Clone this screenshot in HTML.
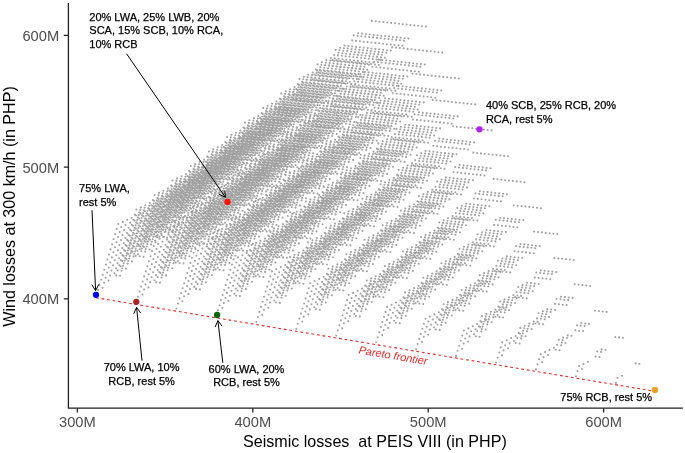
<!DOCTYPE html>
<html><head><meta charset="utf-8"><style>
html,body{margin:0;padding:0;background:#fff;overflow:hidden;}
svg{display:block;will-change:transform;}
text{font-family:"Liberation Sans",sans-serif;}
</style></head><body>
<svg width="685" height="453" viewBox="0 0 685 453">
<rect width="685" height="453" fill="#fff"/>
<path d="M96.5 295.0h0M136.5 301.8h0M176.4 308.5h0M216.4 315.3h0M256.3 322.1h0M296.3 328.8h0M336.2 335.6h0M376.2 342.3h0M416.1 349.1h0M456.1 355.9h0M496.0 362.6h0M536.0 369.4h0M575.9 376.2h0M615.9 382.9h0M655.9 389.7h0M116.2 275.4h0M156.1 282.2h0M196.1 288.9h0M236.0 295.7h0M276.0 302.5h0M315.9 309.2h0M355.9 316.0h0M395.8 322.8h0M435.8 329.5h0M475.8 336.3h0M515.7 343.1h0M555.7 349.8h0M595.6 356.6h0M635.6 363.4h0M135.8 255.8h0M175.8 262.6h0M215.7 269.4h0M255.7 276.1h0M295.6 282.9h0M335.6 289.7h0M375.6 296.4h0M415.5 303.2h0M455.5 309.9h0M495.4 316.7h0M535.4 323.5h0M575.3 330.2h0M615.3 337.0h0M155.5 236.3h0M195.5 243.0h0M235.4 249.8h0M275.4 256.5h0M315.3 263.3h0M355.3 270.1h0M395.2 276.8h0M435.2 283.6h0M475.1 290.4h0M515.1 297.1h0M555.0 303.9h0M595.0 310.7h0M175.2 216.7h0M215.1 223.4h0M255.1 230.2h0M295.0 237.0h0M335.0 243.7h0M374.9 250.5h0M414.9 257.3h0M454.8 264.0h0M494.8 270.8h0M534.8 277.6h0M574.7 284.3h0M194.8 197.1h0M234.8 203.9h0M274.7 210.6h0M314.7 217.4h0M354.6 224.2h0M394.6 230.9h0M434.6 237.7h0M474.5 244.4h0M514.5 251.2h0M554.4 258.0h0M214.5 177.5h0M254.5 184.3h0M294.4 191.0h0M334.4 197.8h0M374.3 204.6h0M414.3 211.3h0M454.2 218.1h0M494.2 224.9h0M534.1 231.6h0M234.2 157.9h0M274.1 164.7h0M314.1 171.5h0M354.0 178.2h0M394.0 185.0h0M433.9 191.8h0M473.9 198.5h0M513.8 205.3h0M253.8 138.4h0M293.8 145.1h0M333.7 151.9h0M373.7 158.6h0M413.6 165.4h0M453.6 172.2h0M493.6 178.9h0M273.5 118.8h0M313.4 125.5h0M353.4 132.3h0M393.4 139.1h0M433.3 145.8h0M473.3 152.6h0M293.2 99.2h0M333.1 106.0h0M373.1 112.7h0M413.0 119.5h0M453.0 126.2h0M312.8 79.6h0M352.8 86.4h0M392.7 93.1h0M432.7 99.9h0M332.5 60.0h0M372.4 66.8h0M412.4 73.6h0M352.2 40.4h0M392.1 47.2h0M371.8 20.9h0M120.0 275.8h0M160.0 282.6h0M199.9 289.4h0M239.9 296.1h0M279.8 302.9h0M319.8 309.7h0M359.8 316.4h0M399.7 323.2h0M439.7 329.9h0M479.6 336.7h0M519.6 343.5h0M559.5 350.2h0M599.5 357.0h0M639.4 363.8h0M139.7 256.2h0M179.6 263.0h0M219.6 269.8h0M259.6 276.5h0M299.5 283.3h0M339.5 290.1h0M379.4 296.8h0M419.4 303.6h0M459.3 310.4h0M499.3 317.1h0M539.2 323.9h0M579.2 330.7h0M619.1 337.4h0M159.4 236.7h0M199.3 243.4h0M239.3 250.2h0M279.2 257.0h0M319.2 263.7h0M359.1 270.5h0M399.1 277.3h0M439.0 284.0h0M479.0 290.8h0M518.9 297.5h0M558.9 304.3h0M598.9 311.1h0M179.0 217.1h0M219.0 223.9h0M258.9 230.6h0M298.9 237.4h0M338.8 244.1h0M378.8 250.9h0M418.7 257.7h0M458.7 264.4h0M498.7 271.2h0M538.6 278.0h0M578.6 284.7h0M198.7 197.5h0M238.6 204.3h0M278.6 211.0h0M318.6 217.8h0M358.5 224.6h0M398.5 231.3h0M438.4 238.1h0M478.4 244.9h0M518.3 251.6h0M558.3 258.4h0M218.4 177.9h0M258.3 184.7h0M298.3 191.5h0M338.2 198.2h0M378.2 205.0h0M418.1 211.7h0M458.1 218.5h0M498.0 225.3h0M538.0 232.0h0M238.0 158.3h0M278.0 165.1h0M317.9 171.9h0M357.9 178.6h0M397.8 185.4h0M437.8 192.2h0M477.7 198.9h0M517.7 205.7h0M257.7 138.8h0M297.6 145.5h0M337.6 152.3h0M377.6 159.1h0M417.5 165.8h0M457.5 172.6h0M497.4 179.3h0M277.4 119.2h0M317.3 125.9h0M357.3 132.7h0M397.2 139.5h0M437.2 146.2h0M477.1 153.0h0M297.0 99.6h0M337.0 106.4h0M376.9 113.1h0M416.9 119.9h0M456.8 126.7h0M316.7 80.0h0M356.6 86.8h0M396.6 93.5h0M436.5 100.3h0M336.4 60.4h0M376.3 67.2h0M416.3 74.0h0M356.0 40.9h0M396.0 47.6h0M375.7 21.3h0M143.6 256.7h0M183.5 263.4h0M223.5 270.2h0M263.4 277.0h0M303.4 283.7h0M343.3 290.5h0M383.3 297.2h0M423.2 304.0h0M463.2 310.8h0M503.1 317.5h0M543.1 324.3h0M583.0 331.1h0M623.0 337.8h0M163.2 237.1h0M203.2 243.8h0M243.1 250.6h0M283.1 257.4h0M323.0 264.1h0M363.0 270.9h0M402.9 277.7h0M442.9 284.4h0M482.9 291.2h0M522.8 298.0h0M562.8 304.7h0M602.7 311.5h0M182.9 217.5h0M222.8 224.3h0M262.8 231.0h0M302.7 237.8h0M342.7 244.6h0M382.7 251.3h0M422.6 258.1h0M462.6 264.8h0M502.5 271.6h0M542.5 278.4h0M582.4 285.1h0M202.6 197.9h0M242.5 204.7h0M282.5 211.4h0M322.4 218.2h0M362.4 225.0h0M402.3 231.7h0M442.3 238.5h0M482.2 245.3h0M522.2 252.0h0M562.1 258.8h0M222.2 178.3h0M262.2 185.1h0M302.1 191.9h0M342.1 198.6h0M382.0 205.4h0M422.0 212.2h0M461.9 218.9h0M501.9 225.7h0M541.9 232.4h0M241.9 158.8h0M281.8 165.5h0M321.8 172.3h0M361.7 179.0h0M401.7 185.8h0M441.7 192.6h0M481.6 199.3h0M521.6 206.1h0M261.6 139.2h0M301.5 145.9h0M341.5 152.7h0M381.4 159.5h0M421.4 166.2h0M461.3 173.0h0M501.3 179.8h0M281.2 119.6h0M321.2 126.4h0M361.1 133.1h0M401.1 139.9h0M441.0 146.7h0M481.0 153.4h0M300.9 100.0h0M340.8 106.8h0M380.8 113.5h0M420.7 120.3h0M460.7 127.1h0M320.5 80.4h0M360.5 87.2h0M400.5 94.0h0M440.4 100.7h0M340.2 60.9h0M380.2 67.6h0M420.1 74.4h0M359.9 41.3h0M399.8 48.0h0M379.5 21.7h0M167.1 237.5h0M207.0 244.3h0M247.0 251.0h0M286.9 257.8h0M326.9 264.5h0M366.9 271.3h0M406.8 278.1h0M446.8 284.8h0M486.7 291.6h0M526.7 298.4h0M566.6 305.1h0M606.6 311.9h0M186.7 217.9h0M226.7 224.7h0M266.7 231.4h0M306.6 238.2h0M346.6 245.0h0M386.5 251.7h0M426.5 258.5h0M466.4 265.3h0M506.4 272.0h0M546.3 278.8h0M586.3 285.6h0M206.4 198.3h0M246.4 205.1h0M286.3 211.9h0M326.3 218.6h0M366.2 225.4h0M406.2 232.2h0M446.1 238.9h0M486.1 245.7h0M526.0 252.4h0M566.0 259.2h0M226.1 178.8h0M266.0 185.5h0M306.0 192.3h0M345.9 199.0h0M385.9 205.8h0M425.8 212.6h0M465.8 219.3h0M505.8 226.1h0M545.7 232.9h0M245.7 159.2h0M285.7 165.9h0M325.7 172.7h0M365.6 179.5h0M405.6 186.2h0M445.5 193.0h0M485.5 199.8h0M525.4 206.5h0M265.4 139.6h0M305.4 146.4h0M345.3 153.1h0M385.3 159.9h0M425.2 166.6h0M465.2 173.4h0M505.1 180.2h0M285.1 120.0h0M325.0 126.8h0M365.0 133.5h0M404.9 140.3h0M444.9 147.1h0M484.8 153.8h0M304.7 100.4h0M344.7 107.2h0M384.7 114.0h0M424.6 120.7h0M464.6 127.5h0M324.4 80.8h0M364.4 87.6h0M404.3 94.4h0M444.3 101.1h0M344.1 61.3h0M384.0 68.0h0M424.0 74.8h0M363.7 41.7h0M403.7 48.4h0M383.4 22.1h0M190.6 218.3h0M230.6 225.1h0M270.5 231.9h0M310.5 238.6h0M350.4 245.4h0M390.4 252.1h0M430.3 258.9h0M470.3 265.7h0M510.2 272.4h0M550.2 279.2h0M590.1 286.0h0M210.3 198.7h0M250.2 205.5h0M290.2 212.3h0M330.1 219.0h0M370.1 225.8h0M410.0 232.6h0M450.0 239.3h0M490.0 246.1h0M529.9 252.9h0M569.9 259.6h0M229.9 179.2h0M269.9 185.9h0M309.8 192.7h0M349.8 199.5h0M389.8 206.2h0M429.7 213.0h0M469.7 219.7h0M509.6 226.5h0M549.6 233.3h0M249.6 159.6h0M289.6 166.3h0M329.5 173.1h0M369.5 179.9h0M409.4 186.6h0M449.4 193.4h0M489.3 200.2h0M529.3 206.9h0M269.3 140.0h0M309.2 146.8h0M349.2 153.5h0M389.1 160.3h0M429.1 167.1h0M469.0 173.8h0M509.0 180.6h0M288.9 120.4h0M328.9 127.2h0M368.8 133.9h0M408.8 140.7h0M448.8 147.5h0M488.7 154.2h0M308.6 100.8h0M348.6 107.6h0M388.5 114.4h0M428.5 121.1h0M468.4 127.9h0M328.3 81.3h0M368.2 88.0h0M408.2 94.8h0M448.1 101.5h0M347.9 61.7h0M387.9 68.4h0M427.8 75.2h0M367.6 42.1h0M407.6 48.9h0M387.3 22.5h0M214.1 199.2h0M254.1 205.9h0M294.0 212.7h0M334.0 219.4h0M374.0 226.2h0M413.9 233.0h0M453.9 239.7h0M493.8 246.5h0M533.8 253.3h0M573.7 260.0h0M233.8 179.6h0M273.8 186.3h0M313.7 193.1h0M353.7 199.9h0M393.6 206.6h0M433.6 213.4h0M473.5 220.2h0M513.5 226.9h0M553.4 233.7h0M253.5 160.0h0M293.4 166.8h0M333.4 173.5h0M373.3 180.3h0M413.3 187.0h0M453.2 193.8h0M493.2 200.6h0M533.1 207.3h0M273.1 140.4h0M313.1 147.2h0M353.0 153.9h0M393.0 160.7h0M432.9 167.5h0M472.9 174.2h0M512.9 181.0h0M292.8 120.8h0M332.8 127.6h0M372.7 134.4h0M412.7 141.1h0M452.6 147.9h0M492.6 154.7h0M312.5 101.2h0M352.4 108.0h0M392.4 114.8h0M432.3 121.5h0M472.3 128.3h0M332.1 81.7h0M372.1 88.4h0M412.0 95.2h0M452.0 102.0h0M351.8 62.1h0M391.8 68.9h0M431.7 75.6h0M371.5 42.5h0M411.4 49.3h0M391.1 22.9h0M237.7 180.0h0M277.6 186.8h0M317.6 193.5h0M357.5 200.3h0M397.5 207.0h0M437.4 213.8h0M477.4 220.6h0M517.3 227.3h0M557.3 234.1h0M257.3 160.4h0M297.3 167.2h0M337.2 173.9h0M377.2 180.7h0M417.1 187.5h0M457.1 194.2h0M497.1 201.0h0M537.0 207.8h0M277.0 140.8h0M316.9 147.6h0M356.9 154.4h0M396.9 161.1h0M436.8 167.9h0M476.8 174.6h0M516.7 181.4h0M296.7 121.2h0M336.6 128.0h0M376.6 134.8h0M416.5 141.5h0M456.5 148.3h0M496.4 155.1h0M316.3 101.7h0M356.3 108.4h0M396.2 115.2h0M436.2 122.0h0M476.1 128.7h0M336.0 82.1h0M375.9 88.8h0M415.9 95.6h0M455.9 102.4h0M355.7 62.5h0M395.6 69.3h0M435.6 76.0h0M375.3 42.9h0M415.3 49.7h0M395.0 23.3h0M261.2 160.8h0M301.1 167.6h0M341.1 174.3h0M381.1 181.1h0M421.0 187.9h0M461.0 194.6h0M500.9 201.4h0M540.9 208.2h0M280.9 141.2h0M320.8 148.0h0M360.8 154.8h0M400.7 161.5h0M440.7 168.3h0M480.6 175.1h0M520.6 181.8h0M300.5 121.7h0M340.5 128.4h0M380.4 135.2h0M420.4 141.9h0M460.3 148.7h0M500.3 155.5h0M320.2 102.1h0M360.1 108.8h0M400.1 115.6h0M440.0 122.4h0M480.0 129.1h0M339.9 82.5h0M379.8 89.3h0M419.8 96.0h0M459.7 102.8h0M359.5 62.9h0M399.5 69.7h0M439.4 76.4h0M379.2 43.3h0M419.1 50.1h0M398.9 23.8h0M284.7 141.6h0M324.7 148.4h0M364.6 155.2h0M404.6 161.9h0M444.5 168.7h0M484.5 175.5h0M524.4 182.2h0M304.4 122.1h0M344.3 128.8h0M384.3 135.6h0M424.2 142.4h0M464.2 149.1h0M504.2 155.9h0M324.0 102.5h0M364.0 109.2h0M404.0 116.0h0M443.9 122.8h0M483.9 129.5h0M343.7 82.9h0M383.7 89.7h0M423.6 96.4h0M463.6 103.2h0M363.4 63.3h0M403.3 70.1h0M443.3 76.9h0M383.0 43.7h0M423.0 50.5h0M402.7 24.2h0M308.2 122.5h0M348.2 129.2h0M388.2 136.0h0M428.1 142.8h0M468.1 149.5h0M508.0 156.3h0M327.9 102.9h0M367.9 109.7h0M407.8 116.4h0M447.8 123.2h0M487.7 130.0h0M347.6 83.3h0M387.5 90.1h0M427.5 96.8h0M467.4 103.6h0M367.2 63.7h0M407.2 70.5h0M447.1 77.3h0M386.9 44.2h0M426.9 50.9h0M406.6 24.6h0M331.8 103.3h0M371.7 110.1h0M411.7 116.8h0M451.6 123.6h0M491.6 130.4h0M351.4 83.7h0M391.4 90.5h0M431.3 97.3h0M471.3 104.0h0M371.1 64.1h0M411.1 70.9h0M451.0 77.7h0M390.8 44.6h0M430.7 51.3h0M410.4 25.0h0M355.3 84.1h0M395.3 90.9h0M435.2 97.7h0M475.2 104.4h0M375.0 64.6h0M414.9 71.3h0M454.9 78.1h0M394.6 45.0h0M434.6 51.7h0M414.3 25.4h0M378.8 65.0h0M418.8 71.7h0M458.7 78.5h0M398.5 45.4h0M438.4 52.2h0M418.2 25.8h0M402.4 45.8h0M442.3 52.6h0M422.0 26.2h0M425.9 26.6h0M102.5 287.8h0M142.5 294.6h0M182.4 301.3h0M222.4 308.1h0M262.3 314.9h0M302.3 321.6h0M342.2 328.4h0M382.2 335.1h0M422.1 341.9h0M462.1 348.7h0M502.0 355.4h0M542.0 362.2h0M581.9 369.0h0M621.9 375.7h0M122.2 268.2h0M162.1 275.0h0M202.1 281.7h0M242.0 288.5h0M282.0 295.3h0M321.9 302.0h0M361.9 308.8h0M401.8 315.6h0M441.8 322.3h0M481.8 329.1h0M521.7 335.9h0M561.7 342.6h0M601.6 349.4h0M141.8 248.6h0M181.8 255.4h0M221.7 262.2h0M261.7 268.9h0M301.6 275.7h0M341.6 282.5h0M381.6 289.2h0M421.5 296.0h0M461.5 302.8h0M501.4 309.5h0M541.4 316.3h0M581.3 323.0h0M161.5 229.1h0M201.5 235.8h0M241.4 242.6h0M281.4 249.3h0M321.3 256.1h0M361.3 262.9h0M401.2 269.6h0M441.2 276.4h0M481.1 283.2h0M521.1 289.9h0M561.0 296.7h0M181.2 209.5h0M221.1 216.2h0M261.1 223.0h0M301.0 229.8h0M341.0 236.5h0M380.9 243.3h0M420.9 250.1h0M460.8 256.8h0M500.8 263.6h0M540.8 270.4h0M200.8 189.9h0M240.8 196.7h0M280.7 203.4h0M320.7 210.2h0M360.6 217.0h0M400.6 223.7h0M440.6 230.5h0M480.5 237.2h0M520.5 244.0h0M220.5 170.3h0M260.5 177.1h0M300.4 183.8h0M340.4 190.6h0M380.3 197.4h0M420.3 204.1h0M460.2 210.9h0M500.2 217.7h0M240.2 150.7h0M280.1 157.5h0M320.1 164.3h0M360.0 171.0h0M400.0 177.8h0M439.9 184.6h0M479.9 191.3h0M259.8 131.2h0M299.8 137.9h0M339.7 144.7h0M379.7 151.4h0M419.6 158.2h0M459.6 165.0h0M279.5 111.6h0M319.4 118.3h0M359.4 125.1h0M399.4 131.9h0M439.3 138.6h0M299.2 92.0h0M339.1 98.8h0M379.1 105.5h0M419.0 112.3h0M318.8 72.4h0M358.8 79.2h0M398.7 85.9h0M338.5 52.8h0M378.4 59.6h0M358.2 33.2h0M126.0 268.6h0M166.0 275.4h0M205.9 282.2h0M245.9 288.9h0M285.8 295.7h0M325.8 302.5h0M365.8 309.2h0M405.7 316.0h0M445.7 322.7h0M485.6 329.5h0M525.6 336.3h0M565.5 343.0h0M605.5 349.8h0M145.7 249.1h0M185.6 255.8h0M225.6 262.6h0M265.6 269.3h0M305.5 276.1h0M345.5 282.9h0M385.4 289.6h0M425.4 296.4h0M465.3 303.2h0M505.3 309.9h0M545.2 316.7h0M585.2 323.5h0M165.4 229.5h0M205.3 236.2h0M245.3 243.0h0M285.2 249.8h0M325.2 256.5h0M365.1 263.3h0M405.1 270.1h0M445.0 276.8h0M485.0 283.6h0M524.9 290.3h0M564.9 297.1h0M185.0 209.9h0M225.0 216.7h0M264.9 223.4h0M304.9 230.2h0M344.8 236.9h0M384.8 243.7h0M424.7 250.5h0M464.7 257.2h0M504.7 264.0h0M544.6 270.8h0M204.7 190.3h0M244.6 197.1h0M284.6 203.8h0M324.6 210.6h0M364.5 217.4h0M404.5 224.1h0M444.4 230.9h0M484.4 237.7h0M524.3 244.4h0M224.4 170.7h0M264.3 177.5h0M304.3 184.3h0M344.2 191.0h0M384.2 197.8h0M424.1 204.5h0M464.1 211.3h0M504.0 218.1h0M244.0 151.1h0M284.0 157.9h0M323.9 164.7h0M363.9 171.4h0M403.8 178.2h0M443.8 185.0h0M483.7 191.7h0M263.7 131.6h0M303.6 138.3h0M343.6 145.1h0M383.6 151.9h0M423.5 158.6h0M463.5 165.4h0M283.4 112.0h0M323.3 118.7h0M363.3 125.5h0M403.2 132.3h0M443.2 139.0h0M303.0 92.4h0M343.0 99.2h0M382.9 105.9h0M422.9 112.7h0M322.7 72.8h0M362.6 79.6h0M402.6 86.3h0M342.4 53.2h0M382.3 60.0h0M362.0 33.7h0M149.6 249.5h0M189.5 256.2h0M229.5 263.0h0M269.4 269.8h0M309.4 276.5h0M349.3 283.3h0M389.3 290.0h0M429.2 296.8h0M469.2 303.6h0M509.1 310.3h0M549.1 317.1h0M589.0 323.9h0M169.2 229.9h0M209.2 236.6h0M249.1 243.4h0M289.1 250.2h0M329.0 256.9h0M369.0 263.7h0M408.9 270.5h0M448.9 277.2h0M488.9 284.0h0M528.8 290.8h0M568.8 297.5h0M188.9 210.3h0M228.8 217.1h0M268.8 223.8h0M308.7 230.6h0M348.7 237.4h0M388.7 244.1h0M428.6 250.9h0M468.6 257.6h0M508.5 264.4h0M548.5 271.2h0M208.6 190.7h0M248.5 197.5h0M288.5 204.2h0M328.4 211.0h0M368.4 217.8h0M408.3 224.5h0M448.3 231.3h0M488.2 238.1h0M528.2 244.8h0M228.2 171.1h0M268.2 177.9h0M308.1 184.7h0M348.1 191.4h0M388.0 198.2h0M428.0 205.0h0M467.9 211.7h0M507.9 218.5h0M247.9 151.6h0M287.8 158.3h0M327.8 165.1h0M367.7 171.8h0M407.7 178.6h0M447.7 185.4h0M487.6 192.1h0M267.6 132.0h0M307.5 138.7h0M347.5 145.5h0M387.4 152.3h0M427.4 159.0h0M467.3 165.8h0M287.2 112.4h0M327.2 119.2h0M367.1 125.9h0M407.1 132.7h0M447.0 139.5h0M306.9 92.8h0M346.8 99.6h0M386.8 106.3h0M426.7 113.1h0M326.5 73.2h0M366.5 80.0h0M406.5 86.8h0M346.2 53.7h0M386.2 60.4h0M365.9 34.1h0M173.1 230.3h0M213.0 237.1h0M253.0 243.8h0M292.9 250.6h0M332.9 257.3h0M372.9 264.1h0M412.8 270.9h0M452.8 277.6h0M492.7 284.4h0M532.7 291.2h0M572.6 297.9h0M192.7 210.7h0M232.7 217.5h0M272.7 224.2h0M312.6 231.0h0M352.6 237.8h0M392.5 244.5h0M432.5 251.3h0M472.4 258.1h0M512.4 264.8h0M552.3 271.6h0M212.4 191.1h0M252.4 197.9h0M292.3 204.7h0M332.3 211.4h0M372.2 218.2h0M412.2 225.0h0M452.1 231.7h0M492.1 238.5h0M532.0 245.2h0M232.1 171.6h0M272.0 178.3h0M312.0 185.1h0M351.9 191.8h0M391.9 198.6h0M431.8 205.4h0M471.8 212.1h0M511.8 218.9h0M251.7 152.0h0M291.7 158.7h0M331.7 165.5h0M371.6 172.3h0M411.6 179.0h0M451.5 185.8h0M491.5 192.6h0M271.4 132.4h0M311.4 139.2h0M351.3 145.9h0M391.3 152.7h0M431.2 159.4h0M471.2 166.2h0M291.1 112.8h0M331.0 119.6h0M371.0 126.3h0M410.9 133.1h0M450.9 139.9h0M310.7 93.2h0M350.7 100.0h0M390.7 106.8h0M430.6 113.5h0M330.4 73.6h0M370.4 80.4h0M410.3 87.2h0M350.1 54.1h0M390.0 60.8h0M369.7 34.5h0M196.6 211.1h0M236.6 217.9h0M276.5 224.7h0M316.5 231.4h0M356.4 238.2h0M396.4 244.9h0M436.3 251.7h0M476.3 258.5h0M516.2 265.2h0M556.2 272.0h0M216.3 191.5h0M256.2 198.3h0M296.2 205.1h0M336.1 211.8h0M376.1 218.6h0M416.0 225.4h0M456.0 232.1h0M496.0 238.9h0M535.9 245.7h0M235.9 172.0h0M275.9 178.7h0M315.8 185.5h0M355.8 192.3h0M395.8 199.0h0M435.7 205.8h0M475.7 212.5h0M515.6 219.3h0M255.6 152.4h0M295.6 159.1h0M335.5 165.9h0M375.5 172.7h0M415.4 179.4h0M455.4 186.2h0M495.3 193.0h0M275.3 132.8h0M315.2 139.6h0M355.2 146.3h0M395.1 153.1h0M435.1 159.9h0M475.0 166.6h0M294.9 113.2h0M334.9 120.0h0M374.8 126.7h0M414.8 133.5h0M454.8 140.3h0M314.6 93.6h0M354.6 100.4h0M394.5 107.2h0M434.5 113.9h0M334.3 74.1h0M374.2 80.8h0M414.2 87.6h0M353.9 54.5h0M393.9 61.2h0M373.6 34.9h0M220.1 192.0h0M260.1 198.7h0M300.0 205.5h0M340.0 212.2h0M380.0 219.0h0M419.9 225.8h0M459.9 232.5h0M499.8 239.3h0M539.8 246.1h0M239.8 172.4h0M279.8 179.1h0M319.7 185.9h0M359.7 192.7h0M399.6 199.4h0M439.6 206.2h0M479.5 213.0h0M519.5 219.7h0M259.5 152.8h0M299.4 159.6h0M339.4 166.3h0M379.3 173.1h0M419.3 179.8h0M459.2 186.6h0M499.2 193.4h0M279.1 133.2h0M319.1 140.0h0M359.0 146.7h0M399.0 153.5h0M438.9 160.3h0M478.9 167.0h0M298.8 113.6h0M338.8 120.4h0M378.7 127.2h0M418.7 133.9h0M458.6 140.7h0M318.5 94.1h0M358.4 100.8h0M398.4 107.6h0M438.3 114.3h0M338.1 74.5h0M378.1 81.2h0M418.0 88.0h0M357.8 54.9h0M397.8 61.7h0M377.5 35.3h0M243.7 172.8h0M283.6 179.5h0M323.6 186.3h0M363.5 193.1h0M403.5 199.8h0M443.4 206.6h0M483.4 213.4h0M523.3 220.1h0M263.3 153.2h0M303.3 160.0h0M343.2 166.7h0M383.2 173.5h0M423.1 180.3h0M463.1 187.0h0M503.1 193.8h0M283.0 133.6h0M322.9 140.4h0M362.9 147.2h0M402.9 153.9h0M442.8 160.7h0M482.8 167.4h0M302.7 114.0h0M342.6 120.8h0M382.6 127.6h0M422.5 134.3h0M462.5 141.1h0M322.3 94.5h0M362.3 101.2h0M402.2 108.0h0M442.2 114.8h0M342.0 74.9h0M381.9 81.6h0M421.9 88.4h0M361.7 55.3h0M401.6 62.1h0M381.3 35.7h0M267.2 153.6h0M307.1 160.4h0M347.1 167.1h0M387.1 173.9h0M427.0 180.7h0M467.0 187.4h0M506.9 194.2h0M286.9 134.0h0M326.8 140.8h0M366.8 147.6h0M406.7 154.3h0M446.7 161.1h0M486.6 167.9h0M306.5 114.5h0M346.5 121.2h0M386.4 128.0h0M426.4 134.7h0M466.3 141.5h0M326.2 94.9h0M366.1 101.6h0M406.1 108.4h0M446.0 115.2h0M345.9 75.3h0M385.8 82.1h0M425.8 88.8h0M365.5 55.7h0M405.5 62.5h0M385.2 36.1h0M290.7 134.4h0M330.7 141.2h0M370.6 148.0h0M410.6 154.7h0M450.5 161.5h0M490.5 168.3h0M310.4 114.9h0M350.3 121.6h0M390.3 128.4h0M430.2 135.2h0M470.2 141.9h0M330.0 95.3h0M370.0 102.1h0M410.0 108.8h0M449.9 115.6h0M349.7 75.7h0M389.7 82.5h0M429.6 89.2h0M369.4 56.1h0M409.3 62.9h0M389.0 36.5h0M314.2 115.3h0M354.2 122.0h0M394.2 128.8h0M434.1 135.6h0M474.1 142.3h0M333.9 95.7h0M373.9 102.5h0M413.8 109.2h0M453.8 116.0h0M353.6 76.1h0M393.5 82.9h0M433.5 89.6h0M373.2 56.5h0M413.2 63.3h0M392.9 37.0h0M337.8 96.1h0M377.7 102.9h0M417.7 109.6h0M457.6 116.4h0M357.4 76.5h0M397.4 83.3h0M437.3 90.1h0M377.1 56.9h0M417.1 63.7h0M396.8 37.4h0M361.3 76.9h0M401.3 83.7h0M441.2 90.5h0M381.0 57.4h0M420.9 64.1h0M400.6 37.8h0M384.8 57.8h0M424.8 64.5h0M404.5 38.2h0M408.4 38.6h0M108.5 280.6h0M148.5 287.4h0M188.4 294.1h0M228.4 300.9h0M268.3 307.7h0M308.3 314.4h0M348.2 321.2h0M388.2 327.9h0M428.1 334.7h0M468.1 341.5h0M508.0 348.2h0M548.0 355.0h0M587.9 361.8h0M128.2 261.0h0M168.1 267.8h0M208.1 274.5h0M248.0 281.3h0M288.0 288.1h0M327.9 294.8h0M367.9 301.6h0M407.8 308.4h0M447.8 315.1h0M487.8 321.9h0M527.7 328.7h0M567.7 335.4h0M147.8 241.4h0M187.8 248.2h0M227.7 255.0h0M267.7 261.7h0M307.6 268.5h0M347.6 275.3h0M387.6 282.0h0M427.5 288.8h0M467.5 295.6h0M507.4 302.3h0M547.4 309.1h0M167.5 221.9h0M207.5 228.6h0M247.4 235.4h0M287.4 242.1h0M327.3 248.9h0M367.3 255.7h0M407.2 262.4h0M447.2 269.2h0M487.1 276.0h0M527.1 282.7h0M187.2 202.3h0M227.1 209.0h0M267.1 215.8h0M307.0 222.6h0M347.0 229.3h0M386.9 236.1h0M426.9 242.9h0M466.8 249.6h0M506.8 256.4h0M206.8 182.7h0M246.8 189.5h0M286.7 196.2h0M326.7 203.0h0M366.6 209.8h0M406.6 216.5h0M446.6 223.3h0M486.5 230.0h0M226.5 163.1h0M266.5 169.9h0M306.4 176.6h0M346.4 183.4h0M386.3 190.2h0M426.3 196.9h0M466.2 203.7h0M246.2 143.5h0M286.1 150.3h0M326.1 157.1h0M366.0 163.8h0M406.0 170.6h0M445.9 177.4h0M265.8 124.0h0M305.8 130.7h0M345.7 137.5h0M385.7 144.2h0M425.6 151.0h0M285.5 104.4h0M325.4 111.1h0M365.4 117.9h0M405.4 124.7h0M305.2 84.8h0M345.1 91.6h0M385.1 98.3h0M324.8 65.2h0M364.8 72.0h0M344.5 45.6h0M132.0 261.4h0M172.0 268.2h0M211.9 275.0h0M251.9 281.7h0M291.8 288.5h0M331.8 295.3h0M371.8 302.0h0M411.7 308.8h0M451.7 315.5h0M491.6 322.3h0M531.6 329.1h0M571.5 335.8h0M151.7 241.8h0M191.6 248.6h0M231.6 255.4h0M271.6 262.1h0M311.5 268.9h0M351.5 275.7h0M391.4 282.4h0M431.4 289.2h0M471.3 296.0h0M511.3 302.7h0M551.2 309.5h0M171.4 222.3h0M211.3 229.0h0M251.3 235.8h0M291.2 242.6h0M331.2 249.3h0M371.1 256.1h0M411.1 262.9h0M451.0 269.6h0M491.0 276.4h0M530.9 283.1h0M191.0 202.7h0M231.0 209.5h0M270.9 216.2h0M310.9 223.0h0M350.8 229.7h0M390.8 236.5h0M430.7 243.3h0M470.7 250.0h0M510.7 256.8h0M210.7 183.1h0M250.6 189.9h0M290.6 196.6h0M330.6 203.4h0M370.5 210.2h0M410.5 216.9h0M450.4 223.7h0M490.4 230.5h0M230.4 163.5h0M270.3 170.3h0M310.3 177.1h0M350.2 183.8h0M390.2 190.6h0M430.1 197.3h0M470.1 204.1h0M250.0 143.9h0M290.0 150.7h0M329.9 157.5h0M369.9 164.2h0M409.8 171.0h0M449.8 177.8h0M269.7 124.4h0M309.6 131.1h0M349.6 137.9h0M389.6 144.7h0M429.5 151.4h0M289.4 104.8h0M329.3 111.5h0M369.3 118.3h0M409.2 125.1h0M309.0 85.2h0M349.0 92.0h0M388.9 98.7h0M328.7 65.6h0M368.6 72.4h0M348.4 46.0h0M155.6 242.3h0M195.5 249.0h0M235.5 255.8h0M275.4 262.6h0M315.4 269.3h0M355.3 276.1h0M395.3 282.8h0M435.2 289.6h0M475.2 296.4h0M515.1 303.1h0M555.1 309.9h0M175.2 222.7h0M215.2 229.4h0M255.1 236.2h0M295.1 243.0h0M335.0 249.7h0M375.0 256.5h0M414.9 263.3h0M454.9 270.0h0M494.9 276.8h0M534.8 283.6h0M194.9 203.1h0M234.8 209.9h0M274.8 216.6h0M314.7 223.4h0M354.7 230.2h0M394.7 236.9h0M434.6 243.7h0M474.6 250.4h0M514.5 257.2h0M214.6 183.5h0M254.5 190.3h0M294.5 197.0h0M334.4 203.8h0M374.4 210.6h0M414.3 217.3h0M454.3 224.1h0M494.2 230.9h0M234.2 163.9h0M274.2 170.7h0M314.1 177.5h0M354.1 184.2h0M394.0 191.0h0M434.0 197.8h0M473.9 204.5h0M253.9 144.4h0M293.8 151.1h0M333.8 157.9h0M373.7 164.6h0M413.7 171.4h0M453.7 178.2h0M273.6 124.8h0M313.5 131.5h0M353.5 138.3h0M393.4 145.1h0M433.4 151.8h0M293.2 105.2h0M333.2 112.0h0M373.1 118.7h0M413.1 125.5h0M312.9 85.6h0M352.8 92.4h0M392.8 99.1h0M332.5 66.0h0M372.5 72.8h0M352.2 46.5h0M179.1 223.1h0M219.0 229.9h0M259.0 236.6h0M298.9 243.4h0M338.9 250.1h0M378.9 256.9h0M418.8 263.7h0M458.8 270.4h0M498.7 277.2h0M538.7 284.0h0M198.7 203.5h0M238.7 210.3h0M278.7 217.0h0M318.6 223.8h0M358.6 230.6h0M398.5 237.3h0M438.5 244.1h0M478.4 250.9h0M518.4 257.6h0M218.4 183.9h0M258.4 190.7h0M298.3 197.5h0M338.3 204.2h0M378.2 211.0h0M418.2 217.8h0M458.1 224.5h0M498.1 231.3h0M238.1 164.3h0M278.0 171.1h0M318.0 177.9h0M357.9 184.6h0M397.9 191.4h0M437.8 198.2h0M477.8 204.9h0M257.7 144.8h0M297.7 151.5h0M337.7 158.3h0M377.6 165.1h0M417.6 171.8h0M457.5 178.6h0M277.4 125.2h0M317.4 132.0h0M357.3 138.7h0M397.3 145.5h0M437.2 152.2h0M297.1 105.6h0M337.0 112.4h0M377.0 119.1h0M416.9 125.9h0M316.7 86.0h0M356.7 92.8h0M396.7 99.6h0M336.4 66.4h0M376.4 73.2h0M356.1 46.9h0M202.6 203.9h0M242.6 210.7h0M282.5 217.5h0M322.5 224.2h0M362.4 231.0h0M402.4 237.7h0M442.3 244.5h0M482.3 251.3h0M522.2 258.0h0M222.3 184.3h0M262.2 191.1h0M302.2 197.9h0M342.1 204.6h0M382.1 211.4h0M422.0 218.2h0M462.0 224.9h0M502.0 231.7h0M241.9 164.8h0M281.9 171.5h0M321.8 178.3h0M361.8 185.1h0M401.8 191.8h0M441.7 198.6h0M481.7 205.3h0M261.6 145.2h0M301.6 151.9h0M341.5 158.7h0M381.5 165.5h0M421.4 172.2h0M461.4 179.0h0M281.3 125.6h0M321.2 132.4h0M361.2 139.1h0M401.1 145.9h0M441.1 152.7h0M300.9 106.0h0M340.9 112.8h0M380.8 119.5h0M420.8 126.3h0M320.6 86.4h0M360.6 93.2h0M400.5 100.0h0M340.3 66.9h0M380.2 73.6h0M359.9 47.3h0M226.1 184.8h0M266.1 191.5h0M306.0 198.3h0M346.0 205.0h0M386.0 211.8h0M425.9 218.6h0M465.9 225.3h0M505.8 232.1h0M245.8 165.2h0M285.8 171.9h0M325.7 178.7h0M365.7 185.5h0M405.6 192.2h0M445.6 199.0h0M485.5 205.8h0M265.5 145.6h0M305.4 152.4h0M345.4 159.1h0M385.3 165.9h0M425.3 172.6h0M465.2 179.4h0M285.1 126.0h0M325.1 132.8h0M365.0 139.5h0M405.0 146.3h0M444.9 153.1h0M304.8 106.4h0M344.8 113.2h0M384.7 120.0h0M424.7 126.7h0M324.5 86.8h0M364.4 93.6h0M404.4 100.4h0M344.1 67.3h0M384.1 74.0h0M363.8 47.7h0M249.7 165.6h0M289.6 172.3h0M329.6 179.1h0M369.5 185.9h0M409.5 192.6h0M449.4 199.4h0M489.4 206.2h0M269.3 146.0h0M309.3 152.8h0M349.2 159.5h0M389.2 166.3h0M429.1 173.1h0M469.1 179.8h0M289.0 126.4h0M328.9 133.2h0M368.9 140.0h0M408.9 146.7h0M448.8 153.5h0M308.7 106.8h0M348.6 113.6h0M388.6 120.4h0M428.5 127.1h0M328.3 87.3h0M368.3 94.0h0M408.2 100.8h0M348.0 67.7h0M387.9 74.4h0M367.7 48.1h0M273.2 146.4h0M313.1 153.2h0M353.1 159.9h0M393.1 166.7h0M433.0 173.5h0M473.0 180.2h0M292.9 126.8h0M332.8 133.6h0M372.8 140.4h0M412.7 147.1h0M452.7 153.9h0M312.5 107.3h0M352.5 114.0h0M392.4 120.8h0M432.4 127.5h0M332.2 87.7h0M372.1 94.4h0M412.1 101.2h0M351.9 68.1h0M391.8 74.9h0M371.5 48.5h0M296.7 127.2h0M336.7 134.0h0M376.6 140.8h0M416.6 147.5h0M456.5 154.3h0M316.4 107.7h0M356.3 114.4h0M396.3 121.2h0M436.2 128.0h0M336.0 88.1h0M376.0 94.9h0M416.0 101.6h0M355.7 68.5h0M395.7 75.3h0M375.4 48.9h0M320.2 108.1h0M360.2 114.8h0M400.2 121.6h0M440.1 128.4h0M339.9 88.5h0M379.9 95.3h0M419.8 102.0h0M359.6 68.9h0M399.5 75.7h0M379.2 49.3h0M343.8 88.9h0M383.7 95.7h0M423.7 102.4h0M363.4 69.3h0M403.4 76.1h0M383.1 49.7h0M367.3 69.7h0M407.3 76.5h0M387.0 50.2h0M390.8 50.6h0M114.5 273.4h0M154.5 280.2h0M194.4 286.9h0M234.4 293.7h0M274.3 300.5h0M314.3 307.2h0M354.2 314.0h0M394.2 320.7h0M434.1 327.5h0M474.1 334.3h0M514.0 341.0h0M554.0 347.8h0M134.2 253.8h0M174.1 260.6h0M214.1 267.3h0M254.0 274.1h0M294.0 280.9h0M333.9 287.6h0M373.9 294.4h0M413.8 301.2h0M453.8 307.9h0M493.8 314.7h0M533.7 321.5h0M153.8 234.2h0M193.8 241.0h0M233.7 247.8h0M273.7 254.5h0M313.6 261.3h0M353.6 268.1h0M393.6 274.8h0M433.5 281.6h0M473.5 288.4h0M513.4 295.1h0M173.5 214.7h0M213.5 221.4h0M253.4 228.2h0M293.4 234.9h0M333.3 241.7h0M373.3 248.5h0M413.2 255.2h0M453.2 262.0h0M493.1 268.8h0M193.2 195.1h0M233.1 201.8h0M273.1 208.6h0M313.0 215.4h0M353.0 222.1h0M392.9 228.9h0M432.9 235.7h0M472.8 242.4h0M212.8 175.5h0M252.8 182.3h0M292.7 189.0h0M332.7 195.8h0M372.6 202.6h0M412.6 209.3h0M452.6 216.1h0M232.5 155.9h0M272.5 162.7h0M312.4 169.4h0M352.4 176.2h0M392.3 183.0h0M432.3 189.7h0M252.2 136.3h0M292.1 143.1h0M332.1 149.9h0M372.0 156.6h0M412.0 163.4h0M271.8 116.8h0M311.8 123.5h0M351.7 130.3h0M391.7 137.0h0M291.5 97.2h0M331.4 103.9h0M371.4 110.7h0M311.2 77.6h0M351.1 84.4h0M330.8 58.0h0M138.0 254.2h0M178.0 261.0h0M217.9 267.8h0M257.9 274.5h0M297.8 281.3h0M337.8 288.1h0M377.8 294.8h0M417.7 301.6h0M457.7 308.3h0M497.6 315.1h0M537.6 321.9h0M157.7 234.7h0M197.6 241.4h0M237.6 248.2h0M277.6 254.9h0M317.5 261.7h0M357.5 268.5h0M397.4 275.2h0M437.4 282.0h0M477.3 288.8h0M517.3 295.5h0M177.4 215.1h0M217.3 221.8h0M257.3 228.6h0M297.2 235.4h0M337.2 242.1h0M377.1 248.9h0M417.1 255.7h0M457.0 262.4h0M497.0 269.2h0M197.0 195.5h0M237.0 202.3h0M276.9 209.0h0M316.9 215.8h0M356.8 222.5h0M396.8 229.3h0M436.7 236.1h0M476.7 242.8h0M216.7 175.9h0M256.6 182.7h0M296.6 189.4h0M336.6 196.2h0M376.5 203.0h0M416.5 209.7h0M456.4 216.5h0M236.4 156.3h0M276.3 163.1h0M316.3 169.9h0M356.2 176.6h0M396.2 183.4h0M436.1 190.1h0M256.0 136.7h0M296.0 143.5h0M335.9 150.3h0M375.9 157.0h0M415.8 163.8h0M275.7 117.2h0M315.6 123.9h0M355.6 130.7h0M395.6 137.5h0M295.4 97.6h0M335.3 104.3h0M375.3 111.1h0M315.0 78.0h0M355.0 84.8h0M334.7 58.4h0M161.6 235.1h0M201.5 241.8h0M241.5 248.6h0M281.4 255.4h0M321.4 262.1h0M361.3 268.9h0M401.3 275.6h0M441.2 282.4h0M481.2 289.2h0M521.1 295.9h0M181.2 215.5h0M221.2 222.2h0M261.1 229.0h0M301.1 235.8h0M341.0 242.5h0M381.0 249.3h0M420.9 256.1h0M460.9 262.8h0M500.9 269.6h0M200.9 195.9h0M240.8 202.7h0M280.8 209.4h0M320.7 216.2h0M360.7 223.0h0M400.7 229.7h0M440.6 236.5h0M480.6 243.2h0M220.6 176.3h0M260.5 183.1h0M300.5 189.8h0M340.4 196.6h0M380.4 203.4h0M420.3 210.1h0M460.3 216.9h0M240.2 156.7h0M280.2 163.5h0M320.1 170.3h0M360.1 177.0h0M400.0 183.8h0M440.0 190.6h0M259.9 137.2h0M299.8 143.9h0M339.8 150.7h0M379.7 157.4h0M419.7 164.2h0M279.6 117.6h0M319.5 124.3h0M359.5 131.1h0M399.4 137.9h0M299.2 98.0h0M339.2 104.8h0M379.1 111.5h0M318.9 78.4h0M358.8 85.2h0M338.5 58.8h0M185.1 215.9h0M225.0 222.7h0M265.0 229.4h0M304.9 236.2h0M344.9 242.9h0M384.9 249.7h0M424.8 256.5h0M464.8 263.2h0M504.7 270.0h0M204.7 196.3h0M244.7 203.1h0M284.7 209.8h0M324.6 216.6h0M364.6 223.4h0M404.5 230.1h0M444.5 236.9h0M484.4 243.7h0M224.4 176.7h0M264.4 183.5h0M304.3 190.3h0M344.3 197.0h0M384.2 203.8h0M424.2 210.6h0M464.1 217.3h0M244.1 157.2h0M284.0 163.9h0M324.0 170.7h0M363.9 177.4h0M403.9 184.2h0M443.8 191.0h0M263.7 137.6h0M303.7 144.3h0M343.7 151.1h0M383.6 157.9h0M423.6 164.6h0M283.4 118.0h0M323.4 124.8h0M363.3 131.5h0M403.3 138.3h0M303.1 98.4h0M343.0 105.2h0M383.0 111.9h0M322.7 78.8h0M362.7 85.6h0M342.4 59.2h0M208.6 196.7h0M248.6 203.5h0M288.5 210.3h0M328.5 217.0h0M368.4 223.8h0M408.4 230.5h0M448.3 237.3h0M488.3 244.1h0M228.3 177.1h0M268.2 183.9h0M308.2 190.7h0M348.1 197.4h0M388.1 204.2h0M428.0 211.0h0M468.0 217.7h0M247.9 157.6h0M287.9 164.3h0M327.8 171.1h0M367.8 177.9h0M407.8 184.6h0M447.7 191.4h0M267.6 138.0h0M307.6 144.7h0M347.5 151.5h0M387.5 158.3h0M427.4 165.0h0M287.3 118.4h0M327.2 125.2h0M367.2 131.9h0M407.1 138.7h0M306.9 98.8h0M346.9 105.6h0M386.8 112.3h0M326.6 79.2h0M366.6 86.0h0M346.3 59.7h0M232.1 177.6h0M272.1 184.3h0M312.0 191.1h0M352.0 197.8h0M392.0 204.6h0M431.9 211.4h0M471.9 218.1h0M251.8 158.0h0M291.8 164.7h0M331.7 171.5h0M371.7 178.3h0M411.6 185.0h0M451.6 191.8h0M271.5 138.4h0M311.4 145.2h0M351.4 151.9h0M391.3 158.7h0M431.3 165.4h0M291.1 118.8h0M331.1 125.6h0M371.0 132.3h0M411.0 139.1h0M310.8 99.2h0M350.8 106.0h0M390.7 112.8h0M330.5 79.7h0M370.4 86.4h0M350.1 60.1h0M255.7 158.4h0M295.6 165.1h0M335.6 171.9h0M375.5 178.7h0M415.5 185.4h0M455.4 192.2h0M275.3 138.8h0M315.3 145.6h0M355.2 152.3h0M395.2 159.1h0M435.1 165.9h0M295.0 119.2h0M334.9 126.0h0M374.9 132.8h0M414.9 139.5h0M314.7 99.6h0M354.6 106.4h0M394.6 113.2h0M334.3 80.1h0M374.3 86.8h0M354.0 60.5h0M279.2 139.2h0M319.1 146.0h0M359.1 152.7h0M399.1 159.5h0M439.0 166.3h0M298.9 119.6h0M338.8 126.4h0M378.8 133.2h0M418.7 139.9h0M318.5 100.1h0M358.5 106.8h0M398.4 113.6h0M338.2 80.5h0M378.1 87.2h0M357.9 60.9h0M302.7 120.0h0M342.7 126.8h0M382.6 133.6h0M422.6 140.3h0M322.4 100.5h0M362.3 107.2h0M402.3 114.0h0M342.0 80.9h0M382.0 87.7h0M361.7 61.3h0M326.2 100.9h0M366.2 107.6h0M406.2 114.4h0M345.9 81.3h0M385.9 88.1h0M365.6 61.7h0M349.8 81.7h0M389.7 88.5h0M369.4 62.1h0M373.3 62.5h0M120.5 266.2h0M160.5 273.0h0M200.4 279.7h0M240.4 286.5h0M280.3 293.3h0M320.3 300.0h0M360.2 306.8h0M400.2 313.5h0M440.1 320.3h0M480.1 327.1h0M520.0 333.8h0M140.2 246.6h0M180.1 253.4h0M220.1 260.1h0M260.0 266.9h0M300.0 273.7h0M339.9 280.4h0M379.9 287.2h0M419.8 294.0h0M459.8 300.7h0M499.8 307.5h0M159.8 227.0h0M199.8 233.8h0M239.7 240.6h0M279.7 247.3h0M319.6 254.1h0M359.6 260.9h0M399.6 267.6h0M439.5 274.4h0M479.5 281.1h0M179.5 207.5h0M219.5 214.2h0M259.4 221.0h0M299.4 227.7h0M339.3 234.5h0M379.3 241.3h0M419.2 248.0h0M459.2 254.8h0M199.2 187.9h0M239.1 194.6h0M279.1 201.4h0M319.0 208.2h0M359.0 214.9h0M398.9 221.7h0M438.9 228.5h0M218.8 168.3h0M258.8 175.1h0M298.7 181.8h0M338.7 188.6h0M378.6 195.4h0M418.6 202.1h0M238.5 148.7h0M278.5 155.5h0M318.4 162.2h0M358.4 169.0h0M398.3 175.8h0M258.2 129.1h0M298.1 135.9h0M338.1 142.7h0M378.0 149.4h0M277.8 109.6h0M317.8 116.3h0M357.7 123.1h0M297.5 90.0h0M337.4 96.7h0M317.2 70.4h0M144.0 247.0h0M184.0 253.8h0M223.9 260.6h0M263.9 267.3h0M303.8 274.1h0M343.8 280.9h0M383.8 287.6h0M423.7 294.4h0M463.7 301.1h0M503.6 307.9h0M163.7 227.4h0M203.6 234.2h0M243.6 241.0h0M283.6 247.7h0M323.5 254.5h0M363.5 261.3h0M403.4 268.0h0M443.4 274.8h0M483.3 281.6h0M183.4 207.9h0M223.3 214.6h0M263.3 221.4h0M303.2 228.2h0M343.2 234.9h0M383.1 241.7h0M423.1 248.5h0M463.0 255.2h0M203.0 188.3h0M243.0 195.1h0M282.9 201.8h0M322.9 208.6h0M362.8 215.3h0M402.8 222.1h0M442.7 228.9h0M222.7 168.7h0M262.6 175.5h0M302.6 182.2h0M342.6 189.0h0M382.5 195.8h0M422.5 202.5h0M242.4 149.1h0M282.3 155.9h0M322.3 162.7h0M362.2 169.4h0M402.2 176.2h0M262.0 129.5h0M302.0 136.3h0M341.9 143.1h0M381.9 149.8h0M281.7 110.0h0M321.6 116.7h0M361.6 123.5h0M301.4 90.4h0M341.3 97.1h0M321.0 70.8h0M167.6 227.9h0M207.5 234.6h0M247.5 241.4h0M287.4 248.2h0M327.4 254.9h0M367.3 261.7h0M407.3 268.4h0M447.2 275.2h0M487.2 282.0h0M187.2 208.3h0M227.2 215.0h0M267.1 221.8h0M307.1 228.6h0M347.0 235.3h0M387.0 242.1h0M426.9 248.9h0M466.9 255.6h0M206.9 188.7h0M246.8 195.5h0M286.8 202.2h0M326.7 209.0h0M366.7 215.8h0M406.7 222.5h0M446.6 229.3h0M226.6 169.1h0M266.5 175.9h0M306.5 182.6h0M346.4 189.4h0M386.4 196.2h0M426.3 202.9h0M246.2 149.5h0M286.2 156.3h0M326.1 163.1h0M366.1 169.8h0M406.0 176.6h0M265.9 130.0h0M305.8 136.7h0M345.8 143.5h0M385.7 150.2h0M285.6 110.4h0M325.5 117.1h0M365.5 123.9h0M305.2 90.8h0M345.2 97.6h0M324.9 71.2h0M191.1 208.7h0M231.0 215.5h0M271.0 222.2h0M310.9 229.0h0M350.9 235.7h0M390.9 242.5h0M430.8 249.3h0M470.8 256.0h0M210.7 189.1h0M250.7 195.9h0M290.7 202.6h0M330.6 209.4h0M370.6 216.2h0M410.5 222.9h0M450.5 229.7h0M230.4 169.5h0M270.4 176.3h0M310.3 183.1h0M350.3 189.8h0M390.2 196.6h0M430.2 203.4h0M250.1 149.9h0M290.0 156.7h0M330.0 163.5h0M369.9 170.2h0M409.9 177.0h0M269.7 130.4h0M309.7 137.1h0M349.7 143.9h0M389.6 150.7h0M289.4 110.8h0M329.4 117.6h0M369.3 124.3h0M309.1 91.2h0M349.0 98.0h0M328.7 71.6h0M214.6 189.5h0M254.6 196.3h0M294.5 203.1h0M334.5 209.8h0M374.4 216.6h0M414.4 223.3h0M454.3 230.1h0M234.3 169.9h0M274.2 176.7h0M314.2 183.5h0M354.1 190.2h0M394.1 197.0h0M434.0 203.8h0M253.9 150.4h0M293.9 157.1h0M333.8 163.9h0M373.8 170.7h0M413.8 177.4h0M273.6 130.8h0M313.6 137.5h0M353.5 144.3h0M393.5 151.1h0M293.3 111.2h0M333.2 118.0h0M373.2 124.7h0M312.9 91.6h0M352.9 98.4h0M332.6 72.0h0M238.1 170.4h0M278.1 177.1h0M318.0 183.9h0M358.0 190.6h0M398.0 197.4h0M437.9 204.2h0M257.8 150.8h0M297.8 157.5h0M337.7 164.3h0M377.7 171.1h0M417.6 177.8h0M277.5 131.2h0M317.4 138.0h0M357.4 144.7h0M397.3 151.5h0M297.1 111.6h0M337.1 118.4h0M377.0 125.1h0M316.8 92.0h0M356.8 98.8h0M336.5 72.4h0M261.7 151.2h0M301.6 157.9h0M341.6 164.7h0M381.5 171.5h0M421.5 178.2h0M281.3 131.6h0M321.3 138.4h0M361.2 145.1h0M401.2 151.9h0M301.0 112.0h0M340.9 118.8h0M380.9 125.6h0M320.7 92.4h0M360.6 99.2h0M340.3 72.9h0M285.2 132.0h0M325.1 138.8h0M365.1 145.5h0M405.1 152.3h0M304.9 112.4h0M344.8 119.2h0M384.8 126.0h0M324.5 92.9h0M364.5 99.6h0M344.2 73.3h0M308.7 112.8h0M348.7 119.6h0M388.6 126.4h0M328.4 93.3h0M368.3 100.0h0M348.0 73.7h0M332.2 93.7h0M372.2 100.4h0M351.9 74.1h0M355.8 74.5h0M126.5 259.0h0M166.5 265.8h0M206.4 272.5h0M246.4 279.3h0M286.3 286.1h0M326.3 292.8h0M366.2 299.6h0M406.2 306.3h0M446.1 313.1h0M486.1 319.9h0M146.2 239.4h0M186.1 246.2h0M226.1 252.9h0M266.0 259.7h0M306.0 266.5h0M345.9 273.2h0M385.9 280.0h0M425.8 286.8h0M465.8 293.5h0M165.8 219.8h0M205.8 226.6h0M245.7 233.4h0M285.7 240.1h0M325.6 246.9h0M365.6 253.7h0M405.6 260.4h0M445.5 267.2h0M185.5 200.3h0M225.5 207.0h0M265.4 213.8h0M305.4 220.5h0M345.3 227.3h0M385.3 234.1h0M425.2 240.8h0M205.2 180.7h0M245.1 187.4h0M285.1 194.2h0M325.0 201.0h0M365.0 207.7h0M404.9 214.5h0M224.8 161.1h0M264.8 167.9h0M304.7 174.6h0M344.7 181.4h0M384.6 188.2h0M244.5 141.5h0M284.5 148.3h0M324.4 155.0h0M364.4 161.8h0M264.2 121.9h0M304.1 128.7h0M344.1 135.5h0M283.8 102.4h0M323.8 109.1h0M303.5 82.8h0M150.0 239.8h0M190.0 246.6h0M229.9 253.4h0M269.9 260.1h0M309.8 266.9h0M349.8 273.7h0M389.8 280.4h0M429.7 287.2h0M469.7 293.9h0M169.7 220.2h0M209.6 227.0h0M249.6 233.8h0M289.6 240.5h0M329.5 247.3h0M369.5 254.1h0M409.4 260.8h0M449.4 267.6h0M189.4 200.7h0M229.3 207.4h0M269.3 214.2h0M309.2 221.0h0M349.2 227.7h0M389.1 234.5h0M429.1 241.3h0M209.0 181.1h0M249.0 187.9h0M288.9 194.6h0M328.9 201.4h0M368.8 208.1h0M408.8 214.9h0M228.7 161.5h0M268.6 168.3h0M308.6 175.0h0M348.6 181.8h0M388.5 188.6h0M248.4 141.9h0M288.3 148.7h0M328.3 155.5h0M368.2 162.2h0M268.0 122.3h0M308.0 129.1h0M347.9 135.9h0M287.7 102.8h0M327.6 109.5h0M307.4 83.2h0M173.6 220.7h0M213.5 227.4h0M253.5 234.2h0M293.4 241.0h0M333.4 247.7h0M373.3 254.5h0M413.3 261.2h0M453.2 268.0h0M193.2 201.1h0M233.2 207.8h0M273.1 214.6h0M313.1 221.4h0M353.0 228.1h0M393.0 234.9h0M432.9 241.7h0M212.9 181.5h0M252.8 188.3h0M292.8 195.0h0M332.7 201.8h0M372.7 208.6h0M412.7 215.3h0M232.6 161.9h0M272.5 168.7h0M312.5 175.4h0M352.4 182.2h0M392.4 189.0h0M252.2 142.3h0M292.2 149.1h0M332.1 155.9h0M372.1 162.6h0M271.9 122.8h0M311.8 129.5h0M351.8 136.3h0M291.6 103.2h0M331.5 109.9h0M311.2 83.6h0M197.1 201.5h0M237.0 208.3h0M277.0 215.0h0M316.9 221.8h0M356.9 228.5h0M396.9 235.3h0M436.8 242.1h0M216.7 181.9h0M256.7 188.7h0M296.7 195.4h0M336.6 202.2h0M376.6 209.0h0M416.5 215.7h0M236.4 162.3h0M276.4 169.1h0M316.3 175.9h0M356.3 182.6h0M396.2 189.4h0M256.1 142.8h0M296.0 149.5h0M336.0 156.3h0M375.9 163.0h0M275.7 123.2h0M315.7 129.9h0M355.7 136.7h0M295.4 103.6h0M335.4 110.4h0M315.1 84.0h0M220.6 182.3h0M260.6 189.1h0M300.5 195.9h0M340.5 202.6h0M380.4 209.4h0M420.4 216.1h0M240.3 162.7h0M280.2 169.5h0M320.2 176.3h0M360.1 183.0h0M400.1 189.8h0M259.9 143.2h0M299.9 149.9h0M339.8 156.7h0M379.8 163.5h0M279.6 123.6h0M319.6 130.3h0M359.5 137.1h0M299.3 104.0h0M339.2 110.8h0M318.9 84.4h0M244.1 163.2h0M284.1 169.9h0M324.0 176.7h0M364.0 183.4h0M404.0 190.2h0M263.8 143.6h0M303.8 150.3h0M343.7 157.1h0M383.7 163.9h0M283.5 124.0h0M323.4 130.8h0M363.4 137.5h0M303.1 104.4h0M343.1 111.2h0M322.8 84.8h0M267.7 144.0h0M307.6 150.8h0M347.6 157.5h0M387.5 164.3h0M287.3 124.4h0M327.3 131.2h0M367.2 137.9h0M307.0 104.8h0M346.9 111.6h0M326.7 85.2h0M291.2 124.8h0M331.1 131.6h0M371.1 138.3h0M310.9 105.2h0M350.8 112.0h0M330.5 85.7h0M314.7 105.6h0M354.7 112.4h0M334.4 86.1h0M338.2 86.5h0M132.5 251.8h0M172.5 258.6h0M212.4 265.3h0M252.4 272.1h0M292.3 278.9h0M332.3 285.6h0M372.2 292.4h0M412.2 299.1h0M452.1 305.9h0M152.2 232.2h0M192.1 239.0h0M232.1 245.7h0M272.0 252.5h0M312.0 259.3h0M351.9 266.0h0M391.9 272.8h0M431.8 279.6h0M171.8 212.6h0M211.8 219.4h0M251.7 226.2h0M291.7 232.9h0M331.6 239.7h0M371.6 246.5h0M411.6 253.2h0M191.5 193.1h0M231.5 199.8h0M271.4 206.6h0M311.4 213.3h0M351.3 220.1h0M391.3 226.9h0M211.2 173.5h0M251.1 180.2h0M291.1 187.0h0M331.0 193.8h0M371.0 200.5h0M230.8 153.9h0M270.8 160.7h0M310.7 167.4h0M350.7 174.2h0M250.5 134.3h0M290.5 141.1h0M330.4 147.8h0M270.2 114.7h0M310.1 121.5h0M289.8 95.2h0M156.0 232.6h0M196.0 239.4h0M235.9 246.2h0M275.9 252.9h0M315.8 259.7h0M355.8 266.5h0M395.8 273.2h0M435.7 280.0h0M175.7 213.1h0M215.6 219.8h0M255.6 226.6h0M295.6 233.3h0M335.5 240.1h0M375.5 246.9h0M415.4 253.6h0M195.4 193.5h0M235.3 200.2h0M275.3 207.0h0M315.2 213.8h0M355.2 220.5h0M395.1 227.3h0M215.0 173.9h0M255.0 180.7h0M294.9 187.4h0M334.9 194.2h0M374.8 200.9h0M234.7 154.3h0M274.6 161.1h0M314.6 167.8h0M354.6 174.6h0M254.4 134.7h0M294.3 141.5h0M334.3 148.3h0M274.0 115.1h0M314.0 121.9h0M293.7 95.6h0M179.6 213.5h0M219.5 220.2h0M259.5 227.0h0M299.4 233.8h0M339.4 240.5h0M379.3 247.3h0M419.3 254.0h0M199.2 193.9h0M239.2 200.6h0M279.1 207.4h0M319.1 214.2h0M359.0 220.9h0M399.0 227.7h0M218.9 174.3h0M258.8 181.1h0M298.8 187.8h0M338.7 194.6h0M378.7 201.4h0M238.6 154.7h0M278.5 161.5h0M318.5 168.2h0M358.4 175.0h0M258.2 135.1h0M298.2 141.9h0M338.1 148.7h0M277.9 115.6h0M317.8 122.3h0M297.6 96.0h0M203.1 194.3h0M243.0 201.1h0M283.0 207.8h0M322.9 214.6h0M362.9 221.3h0M402.9 228.1h0M222.7 174.7h0M262.7 181.5h0M302.7 188.2h0M342.6 195.0h0M382.6 201.8h0M242.4 155.1h0M282.4 161.9h0M322.3 168.7h0M362.3 175.4h0M262.1 135.6h0M302.0 142.3h0M342.0 149.1h0M281.7 116.0h0M321.7 122.7h0M301.4 96.4h0M226.6 175.1h0M266.6 181.9h0M306.5 188.7h0M346.5 195.4h0M386.4 202.2h0M246.3 155.5h0M286.2 162.3h0M326.2 169.1h0M366.1 175.8h0M265.9 136.0h0M305.9 142.7h0M345.8 149.5h0M285.6 116.4h0M325.6 123.1h0M305.3 96.8h0M250.1 156.0h0M290.1 162.7h0M330.0 169.5h0M370.0 176.2h0M269.8 136.4h0M309.8 143.1h0M349.7 149.9h0M289.5 116.8h0M329.4 123.6h0M309.1 97.2h0M273.7 136.8h0M313.6 143.5h0M353.6 150.3h0M293.3 117.2h0M333.3 124.0h0M313.0 97.6h0M297.2 117.6h0M337.1 124.4h0M316.9 98.0h0M320.7 98.4h0M138.5 244.6h0M178.5 251.4h0M218.4 258.1h0M258.4 264.9h0M298.3 271.7h0M338.3 278.4h0M378.2 285.2h0M418.2 291.9h0M158.2 225.0h0M198.1 231.8h0M238.1 238.5h0M278.0 245.3h0M318.0 252.1h0M357.9 258.8h0M397.9 265.6h0M177.8 205.4h0M217.8 212.2h0M257.7 219.0h0M297.7 225.7h0M337.6 232.5h0M377.6 239.3h0M197.5 185.9h0M237.5 192.6h0M277.4 199.4h0M317.4 206.1h0M357.3 212.9h0M217.2 166.3h0M257.1 173.0h0M297.1 179.8h0M337.0 186.6h0M236.8 146.7h0M276.8 153.5h0M316.7 160.2h0M256.5 127.1h0M296.5 133.9h0M276.2 107.5h0M162.0 225.4h0M202.0 232.2h0M241.9 239.0h0M281.9 245.7h0M321.8 252.5h0M361.8 259.3h0M401.8 266.0h0M181.7 205.9h0M221.6 212.6h0M261.6 219.4h0M301.6 226.1h0M341.5 232.9h0M381.5 239.7h0M201.4 186.3h0M241.3 193.0h0M281.3 199.8h0M321.2 206.6h0M361.2 213.3h0M221.0 166.7h0M261.0 173.5h0M300.9 180.2h0M340.9 187.0h0M240.7 147.1h0M280.6 153.9h0M320.6 160.6h0M260.4 127.5h0M300.3 134.3h0M280.0 107.9h0M185.6 206.3h0M225.5 213.0h0M265.5 219.8h0M305.4 226.6h0M345.4 233.3h0M385.3 240.1h0M205.2 186.7h0M245.2 193.4h0M285.1 200.2h0M325.1 207.0h0M365.0 213.7h0M224.9 167.1h0M264.8 173.9h0M304.8 180.6h0M344.7 187.4h0M244.6 147.5h0M284.5 154.3h0M324.5 161.0h0M264.2 127.9h0M304.2 134.7h0M283.9 108.4h0M209.1 187.1h0M249.0 193.9h0M289.0 200.6h0M328.9 207.4h0M368.9 214.1h0M228.7 167.5h0M268.7 174.3h0M308.7 181.0h0M348.6 187.8h0M248.4 147.9h0M288.4 154.7h0M328.3 161.5h0M268.1 128.3h0M308.0 135.1h0M287.7 108.8h0M232.6 167.9h0M272.6 174.7h0M312.5 181.5h0M352.5 188.2h0M252.3 148.3h0M292.2 155.1h0M332.2 161.9h0M271.9 128.8h0M311.9 135.5h0M291.6 109.2h0M256.1 148.8h0M296.1 155.5h0M336.0 162.3h0M275.8 129.2h0M315.8 135.9h0M295.5 109.6h0M279.7 129.6h0M319.6 136.3h0M299.3 110.0h0M303.2 110.4h0M144.5 237.4h0M184.5 244.2h0M224.4 250.9h0M264.4 257.7h0M304.3 264.5h0M344.3 271.2h0M384.2 278.0h0M164.2 217.8h0M204.1 224.6h0M244.1 231.3h0M284.0 238.1h0M324.0 244.9h0M363.9 251.6h0M183.8 198.2h0M223.8 205.0h0M263.7 211.8h0M303.7 218.5h0M343.6 225.3h0M203.5 178.7h0M243.5 185.4h0M283.4 192.2h0M323.4 198.9h0M223.2 159.1h0M263.1 165.8h0M303.1 172.6h0M242.8 139.5h0M282.8 146.3h0M262.5 119.9h0M168.0 218.2h0M208.0 225.0h0M247.9 231.8h0M287.9 238.5h0M327.8 245.3h0M367.8 252.1h0M187.7 198.7h0M227.6 205.4h0M267.6 212.2h0M307.6 218.9h0M347.5 225.7h0M207.4 179.1h0M247.3 185.8h0M287.3 192.6h0M327.2 199.4h0M227.0 159.5h0M267.0 166.3h0M306.9 173.0h0M246.7 139.9h0M286.6 146.7h0M266.4 120.3h0M191.6 199.1h0M231.5 205.8h0M271.5 212.6h0M311.4 219.4h0M351.4 226.1h0M211.2 179.5h0M251.2 186.2h0M291.1 193.0h0M331.1 199.8h0M230.9 159.9h0M270.8 166.7h0M310.8 173.4h0M250.6 140.3h0M290.5 147.1h0M270.2 120.7h0M215.1 179.9h0M255.0 186.7h0M295.0 193.4h0M334.9 200.2h0M234.7 160.3h0M274.7 167.1h0M314.7 173.8h0M254.4 140.7h0M294.4 147.5h0M274.1 121.2h0M238.6 160.7h0M278.6 167.5h0M318.5 174.3h0M258.3 141.1h0M298.2 147.9h0M277.9 121.6h0M262.1 141.6h0M302.1 148.3h0M281.8 122.0h0M285.7 122.4h0M150.5 230.2h0M190.5 237.0h0M230.4 243.7h0M270.4 250.5h0M310.3 257.3h0M350.3 264.0h0M170.2 210.6h0M210.1 217.4h0M250.1 224.1h0M290.0 230.9h0M330.0 237.7h0M189.8 191.0h0M229.8 197.8h0M269.7 204.6h0M309.7 211.3h0M209.5 171.5h0M249.5 178.2h0M289.4 185.0h0M229.2 151.9h0M269.1 158.6h0M248.8 132.3h0M174.0 211.0h0M214.0 217.8h0M253.9 224.6h0M293.9 231.3h0M333.8 238.1h0M193.7 191.4h0M233.6 198.2h0M273.6 205.0h0M313.6 211.7h0M213.4 171.9h0M253.3 178.6h0M293.3 185.4h0M233.0 152.3h0M273.0 159.1h0M252.7 132.7h0M197.6 191.9h0M237.5 198.6h0M277.5 205.4h0M317.4 212.2h0M217.2 172.3h0M257.2 179.0h0M297.1 185.8h0M236.9 152.7h0M276.8 159.5h0M256.6 133.1h0M221.1 172.7h0M261.0 179.5h0M301.0 186.2h0M240.7 153.1h0M280.7 159.9h0M260.4 133.5h0M244.6 153.5h0M284.6 160.3h0M264.3 133.9h0M268.1 134.4h0M156.5 223.0h0M196.5 229.8h0M236.4 236.5h0M276.4 243.3h0M316.3 250.1h0M176.2 203.4h0M216.1 210.2h0M256.1 216.9h0M296.0 223.7h0M195.8 183.8h0M235.8 190.6h0M275.7 197.4h0M215.5 164.3h0M255.5 171.0h0M235.2 144.7h0M180.0 203.8h0M220.0 210.6h0M259.9 217.4h0M299.9 224.1h0M199.7 184.2h0M239.6 191.0h0M279.6 197.8h0M219.4 164.7h0M259.3 171.4h0M239.0 145.1h0M203.6 184.7h0M243.5 191.4h0M283.5 198.2h0M223.2 165.1h0M263.2 171.8h0M242.9 145.5h0M227.1 165.5h0M267.0 172.3h0M246.7 145.9h0M250.6 146.3h0M162.5 215.8h0M202.5 222.6h0M242.4 229.3h0M282.4 236.1h0M182.2 196.2h0M222.1 203.0h0M262.1 209.7h0M201.8 176.6h0M241.8 183.4h0M221.5 157.1h0M186.0 196.6h0M226.0 203.4h0M265.9 210.2h0M205.7 177.1h0M245.6 183.8h0M225.4 157.5h0M209.6 177.5h0M249.5 184.2h0M229.2 157.9h0M233.1 158.3h0M168.5 208.6h0M208.5 215.4h0M248.4 222.1h0M188.2 189.0h0M228.1 195.8h0M207.8 169.4h0M192.0 189.4h0M232.0 196.2h0M211.7 169.9h0M215.6 170.3h0M174.5 201.4h0M214.5 208.2h0M194.2 181.8h0M198.0 182.2h0M180.5 194.2h0M98.1 289.9h0M138.0 296.7h0M178.0 303.5h0M217.9 310.2h0M257.9 317.0h0M297.8 323.8h0M337.8 330.5h0M377.7 337.3h0M417.7 344.0h0M457.6 350.8h0M497.6 357.6h0M537.6 364.3h0M577.5 371.1h0M617.5 377.9h0M117.7 270.4h0M157.7 277.1h0M197.6 283.9h0M237.6 290.6h0M277.5 297.4h0M317.5 304.2h0M357.4 310.9h0M397.4 317.7h0M437.4 324.5h0M477.3 331.2h0M517.3 338.0h0M557.2 344.8h0M597.2 351.5h0M137.4 250.8h0M177.3 257.5h0M217.3 264.3h0M257.3 271.1h0M297.2 277.8h0M337.2 284.6h0M377.1 291.4h0M417.1 298.1h0M457.0 304.9h0M497.0 311.6h0M536.9 318.4h0M576.9 325.2h0M157.1 231.2h0M197.0 238.0h0M237.0 244.7h0M276.9 251.5h0M316.9 258.2h0M356.8 265.0h0M396.8 271.8h0M436.7 278.5h0M476.7 285.3h0M516.6 292.1h0M556.6 298.8h0M176.7 211.6h0M216.7 218.4h0M256.6 225.1h0M296.6 231.9h0M336.5 238.7h0M376.5 245.4h0M416.4 252.2h0M456.4 259.0h0M496.4 265.7h0M536.3 272.5h0M196.4 192.0h0M236.3 198.8h0M276.3 205.6h0M316.3 212.3h0M356.2 219.1h0M396.2 225.8h0M436.1 232.6h0M476.1 239.4h0M516.0 246.1h0M216.1 172.4h0M256.0 179.2h0M296.0 186.0h0M335.9 192.7h0M375.9 199.5h0M415.8 206.3h0M455.8 213.0h0M495.7 219.8h0M235.7 152.9h0M275.7 159.6h0M315.6 166.4h0M355.6 173.2h0M395.5 179.9h0M435.5 186.7h0M475.4 193.4h0M255.4 133.3h0M295.3 140.0h0M335.3 146.8h0M375.2 153.6h0M415.2 160.3h0M455.2 167.1h0M275.1 113.7h0M315.0 120.5h0M355.0 127.2h0M394.9 134.0h0M434.9 140.8h0M294.7 94.1h0M334.7 100.9h0M374.6 107.7h0M414.6 114.4h0M314.4 74.5h0M354.3 81.3h0M394.3 88.1h0M334.1 55.0h0M374.0 61.7h0M353.7 35.4h0M121.6 270.8h0M161.5 277.5h0M201.5 284.3h0M241.4 291.1h0M281.4 297.8h0M321.4 304.6h0M361.3 311.3h0M401.3 318.1h0M441.2 324.9h0M481.2 331.6h0M521.1 338.4h0M561.1 345.2h0M601.0 351.9h0M141.3 251.2h0M181.2 257.9h0M221.2 264.7h0M261.1 271.5h0M301.1 278.2h0M341.0 285.0h0M381.0 291.8h0M420.9 298.5h0M460.9 305.3h0M500.8 312.1h0M540.8 318.8h0M580.7 325.6h0M160.9 231.6h0M200.9 238.4h0M240.8 245.1h0M280.8 251.9h0M320.7 258.7h0M360.7 265.4h0M400.6 272.2h0M440.6 278.9h0M480.6 285.7h0M520.5 292.5h0M560.5 299.2h0M180.6 212.0h0M220.5 218.8h0M260.5 225.5h0M300.4 232.3h0M340.4 239.1h0M380.4 245.8h0M420.3 252.6h0M460.3 259.4h0M500.2 266.1h0M540.2 272.9h0M200.2 192.4h0M240.2 199.2h0M280.2 206.0h0M320.1 212.7h0M360.1 219.5h0M400.0 226.3h0M440.0 233.0h0M479.9 239.8h0M519.9 246.6h0M219.9 172.9h0M259.9 179.6h0M299.8 186.4h0M339.8 193.1h0M379.7 199.9h0M419.7 206.7h0M459.6 213.4h0M499.6 220.2h0M239.6 153.3h0M279.5 160.0h0M319.5 166.8h0M359.4 173.6h0M399.4 180.3h0M439.4 187.1h0M479.3 193.9h0M259.2 133.7h0M299.2 140.5h0M339.2 147.2h0M379.1 154.0h0M419.1 160.8h0M459.0 167.5h0M278.9 114.1h0M318.9 120.9h0M358.8 127.6h0M398.8 134.4h0M438.7 141.2h0M298.6 94.5h0M338.5 101.3h0M378.5 108.1h0M418.4 114.8h0M318.2 75.0h0M358.2 81.7h0M398.2 88.5h0M337.9 55.4h0M377.9 62.1h0M357.6 35.8h0M145.1 251.6h0M185.1 258.4h0M225.0 265.1h0M265.0 271.9h0M304.9 278.6h0M344.9 285.4h0M384.8 292.2h0M424.8 298.9h0M464.7 305.7h0M504.7 312.5h0M544.7 319.2h0M584.6 326.0h0M164.8 232.0h0M204.7 238.8h0M244.7 245.5h0M284.6 252.3h0M324.6 259.1h0M364.5 265.8h0M404.5 272.6h0M444.5 279.4h0M484.4 286.1h0M524.4 292.9h0M564.3 299.7h0M184.4 212.4h0M224.4 219.2h0M264.4 226.0h0M304.3 232.7h0M344.3 239.5h0M384.2 246.3h0M424.2 253.0h0M464.1 259.8h0M504.1 266.5h0M544.0 273.3h0M204.1 192.9h0M244.1 199.6h0M284.0 206.4h0M324.0 213.1h0M363.9 219.9h0M403.9 226.7h0M443.8 233.4h0M483.8 240.2h0M523.7 247.0h0M223.8 173.3h0M263.7 180.0h0M303.7 186.8h0M343.6 193.6h0M383.6 200.3h0M423.5 207.1h0M463.5 213.9h0M503.5 220.6h0M243.4 153.7h0M283.4 160.5h0M323.4 167.2h0M363.3 174.0h0M403.3 180.7h0M443.2 187.5h0M483.2 194.3h0M263.1 134.1h0M303.1 140.9h0M343.0 147.6h0M383.0 154.4h0M422.9 161.2h0M462.9 167.9h0M282.8 114.5h0M322.7 121.3h0M362.7 128.1h0M402.6 134.8h0M442.6 141.6h0M302.4 94.9h0M342.4 101.7h0M382.3 108.5h0M422.3 115.2h0M322.1 75.4h0M362.1 82.1h0M402.0 88.9h0M341.8 55.8h0M381.7 62.5h0M361.4 36.2h0M168.6 232.4h0M208.6 239.2h0M248.5 246.0h0M288.5 252.7h0M328.5 259.5h0M368.4 266.2h0M408.4 273.0h0M448.3 279.8h0M488.3 286.5h0M528.2 293.3h0M568.2 300.1h0M188.3 212.8h0M228.3 219.6h0M268.2 226.4h0M308.2 233.1h0M348.1 239.9h0M388.1 246.7h0M428.0 253.4h0M468.0 260.2h0M507.9 267.0h0M547.9 273.7h0M208.0 193.3h0M247.9 200.0h0M287.9 206.8h0M327.8 213.6h0M367.8 220.3h0M407.7 227.1h0M447.7 233.8h0M487.6 240.6h0M527.6 247.4h0M227.6 173.7h0M267.6 180.4h0M307.5 187.2h0M347.5 194.0h0M387.5 200.7h0M427.4 207.5h0M467.4 214.3h0M507.3 221.0h0M247.3 154.1h0M287.3 160.9h0M327.2 167.6h0M367.2 174.4h0M407.1 181.2h0M447.1 187.9h0M487.0 194.7h0M267.0 134.5h0M306.9 141.3h0M346.9 148.0h0M386.8 154.8h0M426.8 161.6h0M466.7 168.3h0M286.6 114.9h0M326.6 121.7h0M366.5 128.5h0M406.5 135.2h0M446.5 142.0h0M306.3 95.4h0M346.3 102.1h0M386.2 108.9h0M426.2 115.6h0M326.0 75.8h0M365.9 82.5h0M405.9 89.3h0M345.6 56.2h0M385.6 63.0h0M365.3 36.6h0M192.2 213.3h0M232.1 220.0h0M272.1 226.8h0M312.0 233.5h0M352.0 240.3h0M391.9 247.1h0M431.9 253.8h0M471.8 260.6h0M511.8 267.4h0M551.8 274.1h0M211.8 193.7h0M251.8 200.4h0M291.7 207.2h0M331.7 214.0h0M371.6 220.7h0M411.6 227.5h0M451.6 234.3h0M491.5 241.0h0M531.5 247.8h0M231.5 174.1h0M271.5 180.9h0M311.4 187.6h0M351.4 194.4h0M391.3 201.2h0M431.3 207.9h0M471.2 214.7h0M511.2 221.4h0M251.2 154.5h0M291.1 161.3h0M331.1 168.0h0M371.0 174.8h0M411.0 181.6h0M450.9 188.3h0M490.9 195.1h0M270.8 134.9h0M310.8 141.7h0M350.7 148.5h0M390.7 155.2h0M430.6 162.0h0M470.6 168.8h0M290.5 115.4h0M330.5 122.1h0M370.4 128.9h0M410.4 135.6h0M450.3 142.4h0M310.2 95.8h0M350.1 102.5h0M390.1 109.3h0M430.0 116.1h0M329.8 76.2h0M369.8 83.0h0M409.7 89.7h0M349.5 56.6h0M389.4 63.4h0M369.2 37.0h0M215.7 194.1h0M255.6 200.9h0M295.6 207.6h0M335.6 214.4h0M375.5 221.1h0M415.5 227.9h0M455.4 234.7h0M495.4 241.4h0M535.3 248.2h0M235.4 174.5h0M275.3 181.3h0M315.3 188.0h0M355.2 194.8h0M395.2 201.6h0M435.1 208.3h0M475.1 215.1h0M515.0 221.9h0M255.0 154.9h0M295.0 161.7h0M334.9 168.5h0M374.9 175.2h0M414.8 182.0h0M454.8 188.7h0M494.8 195.5h0M274.7 135.3h0M314.6 142.1h0M354.6 148.9h0M394.6 155.6h0M434.5 162.4h0M474.5 169.2h0M294.4 115.8h0M334.3 122.5h0M374.3 129.3h0M414.2 136.1h0M454.2 142.8h0M314.0 96.2h0M354.0 102.9h0M393.9 109.7h0M433.9 116.5h0M333.7 76.6h0M373.6 83.4h0M413.6 90.1h0M353.4 57.0h0M393.3 63.8h0M373.0 37.4h0M239.2 174.9h0M279.2 181.7h0M319.1 188.4h0M359.1 195.2h0M399.0 202.0h0M439.0 208.7h0M478.9 215.5h0M518.9 222.3h0M258.9 155.3h0M298.8 162.1h0M338.8 168.9h0M378.7 175.6h0M418.7 182.4h0M458.7 189.2h0M498.6 195.9h0M278.6 135.8h0M318.5 142.5h0M358.5 149.3h0M398.4 156.0h0M438.4 162.8h0M478.3 169.6h0M298.2 116.2h0M338.2 122.9h0M378.1 129.7h0M418.1 136.5h0M458.0 143.2h0M317.9 96.6h0M357.8 103.4h0M397.8 110.1h0M437.7 116.9h0M337.6 77.0h0M377.5 83.8h0M417.5 90.5h0M357.2 57.4h0M397.2 64.2h0M376.9 37.9h0M262.7 155.7h0M302.7 162.5h0M342.7 169.3h0M382.6 176.0h0M422.6 182.8h0M462.5 189.6h0M502.5 196.3h0M282.4 136.2h0M322.4 142.9h0M362.3 149.7h0M402.3 156.5h0M442.2 163.2h0M482.2 170.0h0M302.1 116.6h0M342.0 123.4h0M382.0 130.1h0M421.9 136.9h0M461.9 143.6h0M321.7 97.0h0M361.7 103.8h0M401.7 110.5h0M441.6 117.3h0M341.4 77.4h0M381.4 84.2h0M421.3 91.0h0M361.1 57.8h0M401.0 64.6h0M380.7 38.3h0M286.3 136.6h0M326.2 143.3h0M366.2 150.1h0M406.1 156.9h0M446.1 163.6h0M486.0 170.4h0M305.9 117.0h0M345.9 123.8h0M385.8 130.5h0M425.8 137.3h0M465.8 144.1h0M325.6 97.4h0M365.6 104.2h0M405.5 110.9h0M445.5 117.7h0M345.3 77.8h0M385.2 84.6h0M425.2 91.4h0M364.9 58.3h0M404.9 65.0h0M384.6 38.7h0M309.8 117.4h0M349.8 124.2h0M389.7 130.9h0M429.7 137.7h0M469.6 144.5h0M329.5 97.8h0M369.4 104.6h0M409.4 111.4h0M449.3 118.1h0M349.1 78.2h0M389.1 85.0h0M429.0 91.8h0M368.8 58.7h0M408.8 65.4h0M388.5 39.1h0M333.3 98.2h0M373.3 105.0h0M413.2 111.8h0M453.2 118.5h0M353.0 78.7h0M392.9 85.4h0M432.9 92.2h0M372.7 59.1h0M412.6 65.8h0M392.3 39.5h0M356.9 79.1h0M396.8 85.8h0M436.8 92.6h0M376.5 59.5h0M416.5 66.3h0M396.2 39.9h0M380.4 59.9h0M420.3 66.7h0M400.0 40.3h0M403.9 40.7h0M104.1 282.7h0M144.0 289.5h0M184.0 296.3h0M223.9 303.0h0M263.9 309.8h0M303.8 316.6h0M343.8 323.3h0M383.7 330.1h0M423.7 336.8h0M463.6 343.6h0M503.6 350.4h0M543.6 357.1h0M583.5 363.9h0M123.7 263.2h0M163.7 269.9h0M203.6 276.7h0M243.6 283.4h0M283.5 290.2h0M323.5 297.0h0M363.4 303.7h0M403.4 310.5h0M443.4 317.3h0M483.3 324.0h0M523.3 330.8h0M563.2 337.6h0M143.4 243.6h0M183.3 250.3h0M223.3 257.1h0M263.3 263.9h0M303.2 270.6h0M343.2 277.4h0M383.1 284.2h0M423.1 290.9h0M463.0 297.7h0M503.0 304.4h0M542.9 311.2h0M163.1 224.0h0M203.0 230.8h0M243.0 237.5h0M282.9 244.3h0M322.9 251.0h0M362.8 257.8h0M402.8 264.6h0M442.7 271.3h0M482.7 278.1h0M522.6 284.9h0M182.7 204.4h0M222.7 211.2h0M262.6 217.9h0M302.6 224.7h0M342.5 231.5h0M382.5 238.2h0M422.4 245.0h0M462.4 251.8h0M502.4 258.5h0M202.4 184.8h0M242.3 191.6h0M282.3 198.4h0M322.3 205.1h0M362.2 211.9h0M402.2 218.6h0M442.1 225.4h0M482.1 232.2h0M222.1 165.2h0M262.0 172.0h0M302.0 178.8h0M341.9 185.5h0M381.9 192.3h0M421.8 199.1h0M461.8 205.8h0M241.7 145.7h0M281.7 152.4h0M321.6 159.2h0M361.6 166.0h0M401.5 172.7h0M441.5 179.5h0M261.4 126.1h0M301.3 132.8h0M341.3 139.6h0M381.2 146.4h0M421.2 153.1h0M281.1 106.5h0M321.0 113.3h0M361.0 120.0h0M400.9 126.8h0M300.7 86.9h0M340.7 93.7h0M380.6 100.5h0M320.4 67.3h0M360.3 74.1h0M340.1 47.8h0M127.6 263.6h0M167.5 270.3h0M207.5 277.1h0M247.4 283.9h0M287.4 290.6h0M327.4 297.4h0M367.3 304.1h0M407.3 310.9h0M447.2 317.7h0M487.2 324.4h0M527.1 331.2h0M567.1 338.0h0M147.3 244.0h0M187.2 250.7h0M227.2 257.5h0M267.1 264.3h0M307.1 271.0h0M347.0 277.8h0M387.0 284.6h0M426.9 291.3h0M466.9 298.1h0M506.8 304.9h0M546.8 311.6h0M166.9 224.4h0M206.9 231.2h0M246.8 237.9h0M286.8 244.7h0M326.7 251.5h0M366.7 258.2h0M406.6 265.0h0M446.6 271.7h0M486.6 278.5h0M526.5 285.3h0M186.6 204.8h0M226.5 211.6h0M266.5 218.3h0M306.4 225.1h0M346.4 231.9h0M386.4 238.6h0M426.3 245.4h0M466.3 252.2h0M506.2 258.9h0M206.2 185.2h0M246.2 192.0h0M286.2 198.8h0M326.1 205.5h0M366.1 212.3h0M406.0 219.1h0M446.0 225.8h0M485.9 232.6h0M225.9 165.7h0M265.9 172.4h0M305.8 179.2h0M345.8 185.9h0M385.7 192.7h0M425.7 199.5h0M465.6 206.2h0M245.6 146.1h0M285.5 152.8h0M325.5 159.6h0M365.4 166.4h0M405.4 173.1h0M445.4 179.9h0M265.2 126.5h0M305.2 133.3h0M345.2 140.0h0M385.1 146.8h0M425.1 153.6h0M284.9 106.9h0M324.9 113.7h0M364.8 120.4h0M404.8 127.2h0M304.6 87.3h0M344.5 94.1h0M384.5 100.9h0M324.2 67.8h0M364.2 74.5h0M343.9 48.2h0M151.1 244.4h0M191.1 251.2h0M231.0 257.9h0M271.0 264.7h0M310.9 271.4h0M350.9 278.2h0M390.8 285.0h0M430.8 291.7h0M470.7 298.5h0M510.7 305.3h0M550.7 312.0h0M170.8 224.8h0M210.7 231.6h0M250.7 238.3h0M290.6 245.1h0M330.6 251.9h0M370.5 258.6h0M410.5 265.4h0M450.5 272.2h0M490.4 278.9h0M530.4 285.7h0M190.4 205.2h0M230.4 212.0h0M270.4 218.8h0M310.3 225.5h0M350.3 232.3h0M390.2 239.1h0M430.2 245.8h0M470.1 252.6h0M510.1 259.3h0M210.1 185.7h0M250.1 192.4h0M290.0 199.2h0M330.0 205.9h0M369.9 212.7h0M409.9 219.5h0M449.8 226.2h0M489.8 233.0h0M229.8 166.1h0M269.7 172.8h0M309.7 179.6h0M349.6 186.4h0M389.6 193.1h0M429.5 199.9h0M469.5 206.7h0M249.4 146.5h0M289.4 153.3h0M329.4 160.0h0M369.3 166.8h0M409.3 173.5h0M449.2 180.3h0M269.1 126.9h0M309.1 133.7h0M349.0 140.4h0M389.0 147.2h0M428.9 154.0h0M288.8 107.3h0M328.7 114.1h0M368.7 120.9h0M408.6 127.6h0M308.4 87.7h0M348.4 94.5h0M388.3 101.3h0M328.1 68.2h0M368.1 74.9h0M347.8 48.6h0M174.6 225.2h0M214.6 232.0h0M254.5 238.8h0M294.5 245.5h0M334.5 252.3h0M374.4 259.0h0M414.4 265.8h0M454.3 272.6h0M494.3 279.3h0M534.2 286.1h0M194.3 205.6h0M234.3 212.4h0M274.2 219.2h0M314.2 225.9h0M354.1 232.7h0M394.1 239.5h0M434.0 246.2h0M474.0 253.0h0M513.9 259.8h0M214.0 186.1h0M253.9 192.8h0M293.9 199.6h0M333.8 206.4h0M373.8 213.1h0M413.7 219.9h0M453.7 226.6h0M493.6 233.4h0M233.6 166.5h0M273.6 173.2h0M313.5 180.0h0M353.5 186.8h0M393.5 193.5h0M433.4 200.3h0M473.4 207.1h0M253.3 146.9h0M293.3 153.7h0M333.2 160.4h0M373.2 167.2h0M413.1 174.0h0M453.1 180.7h0M273.0 127.3h0M312.9 134.1h0M352.9 140.8h0M392.8 147.6h0M432.8 154.4h0M292.6 107.7h0M332.6 114.5h0M372.5 121.3h0M412.5 128.0h0M312.3 88.2h0M352.3 94.9h0M392.2 101.7h0M332.0 68.6h0M371.9 75.3h0M351.6 49.0h0M198.2 206.1h0M238.1 212.8h0M278.1 219.6h0M318.0 226.3h0M358.0 233.1h0M397.9 239.9h0M437.9 246.6h0M477.8 253.4h0M517.8 260.2h0M217.8 186.5h0M257.8 193.2h0M297.7 200.0h0M337.7 206.8h0M377.6 213.5h0M417.6 220.3h0M457.6 227.1h0M497.5 233.8h0M237.5 166.9h0M277.5 173.7h0M317.4 180.4h0M357.4 187.2h0M397.3 193.9h0M437.3 200.7h0M477.2 207.5h0M257.2 147.3h0M297.1 154.1h0M337.1 160.8h0M377.0 167.6h0M417.0 174.4h0M456.9 181.1h0M276.8 127.7h0M316.8 134.5h0M356.7 141.3h0M396.7 148.0h0M436.6 154.8h0M296.5 108.2h0M336.5 114.9h0M376.4 121.7h0M416.4 128.4h0M316.2 88.6h0M356.1 95.3h0M396.1 102.1h0M335.8 69.0h0M375.8 75.8h0M355.5 49.4h0M221.7 186.9h0M261.6 193.7h0M301.6 200.4h0M341.6 207.2h0M381.5 213.9h0M421.5 220.7h0M461.4 227.5h0M501.4 234.2h0M241.4 167.3h0M281.3 174.1h0M321.3 180.8h0M361.2 187.6h0M401.2 194.4h0M441.1 201.1h0M481.1 207.9h0M261.0 147.7h0M301.0 154.5h0M340.9 161.3h0M380.9 168.0h0M420.8 174.8h0M460.8 181.5h0M280.7 128.1h0M320.6 134.9h0M360.6 141.7h0M400.6 148.4h0M440.5 155.2h0M300.4 108.6h0M340.3 115.3h0M380.3 122.1h0M420.2 128.9h0M320.0 89.0h0M360.0 95.7h0M399.9 102.5h0M339.7 69.4h0M379.6 76.2h0M359.4 49.8h0M245.2 167.7h0M285.2 174.5h0M325.1 181.2h0M365.1 188.0h0M405.0 194.8h0M445.0 201.5h0M484.9 208.3h0M264.9 148.1h0M304.8 154.9h0M344.8 161.7h0M384.7 168.4h0M424.7 175.2h0M464.7 182.0h0M284.6 128.6h0M324.5 135.3h0M364.5 142.1h0M404.4 148.8h0M444.4 155.6h0M304.2 109.0h0M344.2 115.7h0M384.1 122.5h0M424.1 129.3h0M323.9 89.4h0M363.8 96.2h0M403.8 102.9h0M343.6 69.8h0M383.5 76.6h0M363.2 50.2h0M268.7 148.5h0M308.7 155.3h0M348.7 162.1h0M388.6 168.8h0M428.6 175.6h0M468.5 182.4h0M288.4 129.0h0M328.4 135.7h0M368.3 142.5h0M408.3 149.3h0M448.2 156.0h0M308.1 109.4h0M348.0 116.2h0M388.0 122.9h0M427.9 129.7h0M327.7 89.8h0M367.7 96.6h0M407.7 103.3h0M347.4 70.2h0M387.4 77.0h0M367.1 50.6h0M292.3 129.4h0M332.2 136.1h0M372.2 142.9h0M412.1 149.7h0M452.1 156.4h0M311.9 109.8h0M351.9 116.6h0M391.8 123.3h0M431.8 130.1h0M331.6 90.2h0M371.6 97.0h0M411.5 103.7h0M351.3 70.6h0M391.2 77.4h0M370.9 51.1h0M315.8 110.2h0M355.8 117.0h0M395.7 123.7h0M435.7 130.5h0M335.5 90.6h0M375.4 97.4h0M415.4 104.2h0M355.1 71.0h0M395.1 77.8h0M374.8 51.5h0M339.3 91.0h0M379.3 97.8h0M419.2 104.6h0M359.0 71.5h0M398.9 78.2h0M378.7 51.9h0M362.9 71.9h0M402.8 78.6h0M382.5 52.3h0M386.4 52.7h0M110.1 275.5h0M150.0 282.3h0M190.0 289.1h0M229.9 295.8h0M269.9 302.6h0M309.8 309.4h0M349.8 316.1h0M389.7 322.9h0M429.7 329.6h0M469.6 336.4h0M509.6 343.2h0M549.6 349.9h0M129.7 256.0h0M169.7 262.7h0M209.6 269.5h0M249.6 276.2h0M289.5 283.0h0M329.5 289.8h0M369.4 296.5h0M409.4 303.3h0M449.4 310.1h0M489.3 316.8h0M529.3 323.6h0M149.4 236.4h0M189.3 243.1h0M229.3 249.9h0M269.3 256.7h0M309.2 263.4h0M349.2 270.2h0M389.1 277.0h0M429.1 283.7h0M469.0 290.5h0M509.0 297.2h0M169.1 216.8h0M209.0 223.6h0M249.0 230.3h0M288.9 237.1h0M328.9 243.8h0M368.8 250.6h0M408.8 257.4h0M448.7 264.1h0M488.7 270.9h0M188.7 197.2h0M228.7 204.0h0M268.6 210.7h0M308.6 217.5h0M348.5 224.3h0M388.5 231.0h0M428.4 237.8h0M468.4 244.6h0M208.4 177.6h0M248.3 184.4h0M288.3 191.2h0M328.3 197.9h0M368.2 204.7h0M408.2 211.4h0M448.1 218.2h0M228.1 158.0h0M268.0 164.8h0M308.0 171.6h0M347.9 178.3h0M387.9 185.1h0M427.8 191.9h0M247.7 138.5h0M287.7 145.2h0M327.6 152.0h0M367.6 158.8h0M407.5 165.5h0M267.4 118.9h0M307.3 125.6h0M347.3 132.4h0M387.2 139.2h0M287.1 99.3h0M327.0 106.1h0M367.0 112.8h0M306.7 79.7h0M346.7 86.5h0M326.4 60.1h0M133.6 256.4h0M173.5 263.1h0M213.5 269.9h0M253.4 276.7h0M293.4 283.4h0M333.4 290.2h0M373.3 296.9h0M413.3 303.7h0M453.2 310.5h0M493.2 317.2h0M533.1 324.0h0M153.3 236.8h0M193.2 243.5h0M233.2 250.3h0M273.1 257.1h0M313.1 263.8h0M353.0 270.6h0M393.0 277.4h0M432.9 284.1h0M472.9 290.9h0M512.8 297.7h0M172.9 217.2h0M212.9 224.0h0M252.8 230.7h0M292.8 237.5h0M332.7 244.3h0M372.7 251.0h0M412.6 257.8h0M452.6 264.5h0M492.6 271.3h0M192.6 197.6h0M232.5 204.4h0M272.5 211.1h0M312.4 217.9h0M352.4 224.7h0M392.4 231.4h0M432.3 238.2h0M472.3 245.0h0M212.2 178.0h0M252.2 184.8h0M292.2 191.6h0M332.1 198.3h0M372.1 205.1h0M412.0 211.9h0M452.0 218.6h0M231.9 158.5h0M271.9 165.2h0M311.8 172.0h0M351.8 178.8h0M391.7 185.5h0M431.7 192.3h0M251.6 138.9h0M291.5 145.6h0M331.5 152.4h0M371.4 159.2h0M411.4 165.9h0M271.2 119.3h0M311.2 126.1h0M351.2 132.8h0M391.1 139.6h0M290.9 99.7h0M330.9 106.5h0M370.8 113.2h0M310.6 80.1h0M350.5 86.9h0M330.2 60.6h0M157.1 237.2h0M197.1 244.0h0M237.0 250.7h0M277.0 257.5h0M316.9 264.2h0M356.9 271.0h0M396.8 277.8h0M436.8 284.5h0M476.7 291.3h0M516.7 298.1h0M176.8 217.6h0M216.7 224.4h0M256.7 231.1h0M296.6 237.9h0M336.6 244.7h0M376.5 251.4h0M416.5 258.2h0M456.5 265.0h0M496.4 271.7h0M196.4 198.0h0M236.4 204.8h0M276.4 211.6h0M316.3 218.3h0M356.3 225.1h0M396.2 231.9h0M436.2 238.6h0M476.1 245.4h0M216.1 178.5h0M256.1 185.2h0M296.0 192.0h0M336.0 198.7h0M375.9 205.5h0M415.9 212.3h0M455.8 219.0h0M235.8 158.9h0M275.7 165.6h0M315.7 172.4h0M355.6 179.2h0M395.6 185.9h0M435.5 192.7h0M255.4 139.3h0M295.4 146.1h0M335.4 152.8h0M375.3 159.6h0M415.3 166.3h0M275.1 119.7h0M315.1 126.5h0M355.0 133.2h0M395.0 140.0h0M294.8 100.1h0M334.7 106.9h0M374.7 113.7h0M314.4 80.5h0M354.4 87.3h0M334.1 61.0h0M180.6 218.0h0M220.6 224.8h0M260.5 231.6h0M300.5 238.3h0M340.5 245.1h0M380.4 251.8h0M420.4 258.6h0M460.3 265.4h0M500.3 272.1h0M200.3 198.4h0M240.3 205.2h0M280.2 212.0h0M320.2 218.7h0M360.1 225.5h0M400.1 232.3h0M440.0 239.0h0M480.0 245.8h0M220.0 178.9h0M259.9 185.6h0M299.9 192.4h0M339.8 199.2h0M379.8 205.9h0M419.7 212.7h0M459.7 219.4h0M239.6 159.3h0M279.6 166.0h0M319.5 172.8h0M359.5 179.6h0M399.5 186.3h0M439.4 193.1h0M259.3 139.7h0M299.3 146.5h0M339.2 153.2h0M379.2 160.0h0M419.1 166.8h0M279.0 120.1h0M318.9 126.9h0M358.9 133.6h0M398.8 140.4h0M298.6 100.5h0M338.6 107.3h0M378.5 114.1h0M318.3 81.0h0M358.3 87.7h0M338.0 61.4h0M204.2 198.9h0M244.1 205.6h0M284.1 212.4h0M324.0 219.1h0M364.0 225.9h0M403.9 232.7h0M443.9 239.4h0M483.8 246.2h0M223.8 179.3h0M263.8 186.0h0M303.7 192.8h0M343.7 199.6h0M383.6 206.3h0M423.6 213.1h0M463.6 219.9h0M243.5 159.7h0M283.5 166.5h0M323.4 173.2h0M363.4 180.0h0M403.3 186.8h0M443.3 193.5h0M263.2 140.1h0M303.1 146.9h0M343.1 153.6h0M383.0 160.4h0M423.0 167.2h0M282.8 120.5h0M322.8 127.3h0M362.7 134.1h0M402.7 140.8h0M302.5 101.0h0M342.5 107.7h0M382.4 114.5h0M322.2 81.4h0M362.1 88.1h0M341.8 61.8h0M227.7 179.7h0M267.6 186.5h0M307.6 193.2h0M347.6 200.0h0M387.5 206.7h0M427.5 213.5h0M467.4 220.3h0M247.4 160.1h0M287.3 166.9h0M327.3 173.6h0M367.2 180.4h0M407.2 187.2h0M447.1 193.9h0M267.0 140.5h0M307.0 147.3h0M346.9 154.1h0M386.9 160.8h0M426.8 167.6h0M286.7 120.9h0M326.6 127.7h0M366.6 134.5h0M406.6 141.2h0M306.4 101.4h0M346.3 108.1h0M386.3 114.9h0M326.0 81.8h0M366.0 88.5h0M345.7 62.2h0M251.2 160.5h0M291.2 167.3h0M331.1 174.0h0M371.1 180.8h0M411.0 187.6h0M451.0 194.3h0M270.9 140.9h0M310.8 147.7h0M350.8 154.5h0M390.7 161.2h0M430.7 168.0h0M290.6 121.4h0M330.5 128.1h0M370.5 134.9h0M410.4 141.6h0M310.2 101.8h0M350.2 108.5h0M390.1 115.3h0M329.9 82.2h0M369.8 89.0h0M349.6 62.6h0M274.7 141.3h0M314.7 148.1h0M354.7 154.9h0M394.6 161.6h0M434.6 168.4h0M294.4 121.8h0M334.4 128.5h0M374.3 135.3h0M414.3 142.1h0M314.1 102.2h0M354.0 109.0h0M394.0 115.7h0M333.7 82.6h0M373.7 89.4h0M353.4 63.0h0M298.3 122.2h0M338.2 128.9h0M378.2 135.7h0M418.1 142.5h0M317.9 102.6h0M357.9 109.4h0M397.8 116.1h0M337.6 83.0h0M377.6 89.8h0M357.3 63.4h0M321.8 103.0h0M361.8 109.8h0M401.7 116.5h0M341.5 83.4h0M381.4 90.2h0M361.1 63.8h0M345.3 83.8h0M385.3 90.6h0M365.0 64.3h0M368.9 64.7h0M116.1 268.3h0M156.0 275.1h0M196.0 281.9h0M235.9 288.6h0M275.9 295.4h0M315.8 302.2h0M355.8 308.9h0M395.7 315.7h0M435.7 322.4h0M475.6 329.2h0M515.6 336.0h0M135.7 248.8h0M175.7 255.5h0M215.6 262.3h0M255.6 269.0h0M295.5 275.8h0M335.5 282.6h0M375.4 289.3h0M415.4 296.1h0M455.4 302.9h0M495.3 309.6h0M155.4 229.2h0M195.3 235.9h0M235.3 242.7h0M275.3 249.5h0M315.2 256.2h0M355.2 263.0h0M395.1 269.8h0M435.1 276.5h0M475.0 283.3h0M175.1 209.6h0M215.0 216.4h0M255.0 223.1h0M294.9 229.9h0M334.9 236.6h0M374.8 243.4h0M414.8 250.2h0M454.7 256.9h0M194.7 190.0h0M234.7 196.8h0M274.6 203.5h0M314.6 210.3h0M354.5 217.1h0M394.5 223.8h0M434.4 230.6h0M214.4 170.4h0M254.3 177.2h0M294.3 184.0h0M334.3 190.7h0M374.2 197.5h0M414.2 204.2h0M234.1 150.8h0M274.0 157.6h0M314.0 164.4h0M353.9 171.1h0M393.9 177.9h0M253.7 131.3h0M293.7 138.0h0M333.6 144.8h0M373.6 151.6h0M273.4 111.7h0M313.3 118.4h0M353.3 125.2h0M293.1 92.1h0M333.0 98.9h0M312.7 72.5h0M139.6 249.2h0M179.5 255.9h0M219.5 262.7h0M259.4 269.5h0M299.4 276.2h0M339.4 283.0h0M379.3 289.7h0M419.3 296.5h0M459.2 303.3h0M499.2 310.0h0M159.3 229.6h0M199.2 236.3h0M239.2 243.1h0M279.1 249.9h0M319.1 256.6h0M359.0 263.4h0M399.0 270.2h0M438.9 276.9h0M478.9 283.7h0M178.9 210.0h0M218.9 216.8h0M258.8 223.5h0M298.8 230.3h0M338.7 237.1h0M378.7 243.8h0M418.6 250.6h0M458.6 257.3h0M198.6 190.4h0M238.5 197.2h0M278.5 203.9h0M318.4 210.7h0M358.4 217.5h0M398.4 224.2h0M438.3 231.0h0M218.2 170.8h0M258.2 177.6h0M298.2 184.4h0M338.1 191.1h0M378.1 197.9h0M418.0 204.7h0M237.9 151.3h0M277.9 158.0h0M317.8 164.8h0M357.8 171.6h0M397.7 178.3h0M257.6 131.7h0M297.5 138.4h0M337.5 145.2h0M377.4 152.0h0M277.2 112.1h0M317.2 118.9h0M357.2 125.6h0M296.9 92.5h0M336.9 99.3h0M316.6 72.9h0M163.1 230.0h0M203.1 236.8h0M243.0 243.5h0M283.0 250.3h0M322.9 257.1h0M362.9 263.8h0M402.8 270.6h0M442.8 277.3h0M482.7 284.1h0M182.8 210.4h0M222.7 217.2h0M262.7 223.9h0M302.6 230.7h0M342.6 237.5h0M382.5 244.2h0M422.5 251.0h0M462.5 257.8h0M202.4 190.8h0M242.4 197.6h0M282.4 204.4h0M322.3 211.1h0M362.3 217.9h0M402.2 224.7h0M442.2 231.4h0M222.1 171.3h0M262.1 178.0h0M302.0 184.8h0M342.0 191.5h0M381.9 198.3h0M421.9 205.1h0M241.8 151.7h0M281.7 158.4h0M321.7 165.2h0M361.6 172.0h0M401.6 178.7h0M261.4 132.1h0M301.4 138.9h0M341.4 145.6h0M381.3 152.4h0M281.1 112.5h0M321.1 119.3h0M361.0 126.0h0M300.8 92.9h0M340.7 99.7h0M320.4 73.3h0M186.6 210.8h0M226.6 217.6h0M266.5 224.4h0M306.5 231.1h0M346.5 237.9h0M386.4 244.6h0M426.4 251.4h0M466.3 258.2h0M206.3 191.2h0M246.3 198.0h0M286.2 204.8h0M326.2 211.5h0M366.1 218.3h0M406.1 225.1h0M446.0 231.8h0M226.0 171.7h0M265.9 178.4h0M305.9 185.2h0M345.8 192.0h0M385.8 198.7h0M425.7 205.5h0M245.6 152.1h0M285.6 158.8h0M325.5 165.6h0M365.5 172.4h0M405.5 179.1h0M265.3 132.5h0M305.3 139.3h0M345.2 146.0h0M385.2 152.8h0M285.0 112.9h0M324.9 119.7h0M364.9 126.4h0M304.6 93.3h0M344.6 100.1h0M324.3 73.8h0M210.2 191.7h0M250.1 198.4h0M290.1 205.2h0M330.0 211.9h0M370.0 218.7h0M409.9 225.5h0M449.9 232.2h0M229.8 172.1h0M269.8 178.8h0M309.7 185.6h0M349.7 192.4h0M389.6 199.1h0M429.6 205.9h0M249.5 152.5h0M289.5 159.3h0M329.4 166.0h0M369.4 172.8h0M409.3 179.6h0M269.2 132.9h0M309.1 139.7h0M349.1 146.4h0M389.0 153.2h0M288.8 113.3h0M328.8 120.1h0M368.7 126.9h0M308.5 93.8h0M348.5 100.5h0M328.2 74.2h0M233.7 172.5h0M273.6 179.3h0M313.6 186.0h0M353.6 192.8h0M393.5 199.5h0M433.5 206.3h0M253.4 152.9h0M293.3 159.7h0M333.3 166.4h0M373.2 173.2h0M413.2 180.0h0M273.0 133.3h0M313.0 140.1h0M352.9 146.9h0M392.9 153.6h0M292.7 113.7h0M332.6 120.5h0M372.6 127.3h0M312.4 94.2h0M352.3 100.9h0M332.0 74.6h0M257.2 153.3h0M297.2 160.1h0M337.1 166.8h0M377.1 173.6h0M417.0 180.4h0M276.9 133.7h0M316.8 140.5h0M356.8 147.3h0M396.7 154.0h0M296.6 114.2h0M336.5 120.9h0M376.5 127.7h0M316.2 94.6h0M356.2 101.3h0M335.9 75.0h0M280.7 134.1h0M320.7 140.9h0M360.7 147.7h0M400.6 154.4h0M300.4 114.6h0M340.4 121.3h0M380.3 128.1h0M320.1 95.0h0M360.0 101.8h0M339.7 75.4h0M304.3 115.0h0M344.2 121.7h0M384.2 128.5h0M323.9 95.4h0M363.9 102.2h0M343.6 75.8h0M327.8 95.8h0M367.8 102.6h0M347.5 76.2h0M351.3 76.6h0M122.1 261.1h0M162.0 267.9h0M202.0 274.7h0M241.9 281.4h0M281.9 288.2h0M321.8 295.0h0M361.8 301.7h0M401.7 308.5h0M441.7 315.2h0M481.6 322.0h0M141.7 241.6h0M181.7 248.3h0M221.6 255.1h0M261.6 261.8h0M301.5 268.6h0M341.5 275.4h0M381.4 282.1h0M421.4 288.9h0M461.4 295.7h0M161.4 222.0h0M201.3 228.7h0M241.3 235.5h0M281.3 242.3h0M321.2 249.0h0M361.2 255.8h0M401.1 262.6h0M441.1 269.3h0M181.1 202.4h0M221.0 209.2h0M261.0 215.9h0M300.9 222.7h0M340.9 229.4h0M380.8 236.2h0M420.8 243.0h0M200.7 182.8h0M240.7 189.6h0M280.6 196.3h0M320.6 203.1h0M360.5 209.9h0M400.5 216.6h0M220.4 163.2h0M260.3 170.0h0M300.3 176.8h0M340.3 183.5h0M380.2 190.3h0M240.1 143.6h0M280.0 150.4h0M320.0 157.2h0M359.9 163.9h0M259.7 124.1h0M299.7 130.8h0M339.6 137.6h0M279.4 104.5h0M319.3 111.2h0M299.1 84.9h0M145.6 242.0h0M185.5 248.7h0M225.5 255.5h0M265.4 262.3h0M305.4 269.0h0M345.4 275.8h0M385.3 282.5h0M425.3 289.3h0M465.2 296.1h0M165.3 222.4h0M205.2 229.1h0M245.2 235.9h0M285.1 242.7h0M325.1 249.4h0M365.0 256.2h0M405.0 263.0h0M444.9 269.7h0M184.9 202.8h0M224.9 209.6h0M264.8 216.3h0M304.8 223.1h0M344.7 229.9h0M384.7 236.6h0M424.6 243.4h0M204.6 183.2h0M244.5 190.0h0M284.5 196.7h0M324.4 203.5h0M364.4 210.3h0M404.4 217.0h0M224.2 163.6h0M264.2 170.4h0M304.2 177.2h0M344.1 183.9h0M384.1 190.7h0M243.9 144.1h0M283.9 150.8h0M323.8 157.6h0M363.8 164.3h0M263.6 124.5h0M303.5 131.2h0M343.5 138.0h0M283.2 104.9h0M323.2 111.7h0M302.9 85.3h0M169.1 222.8h0M209.1 229.6h0M249.0 236.3h0M289.0 243.1h0M328.9 249.8h0M368.9 256.6h0M408.8 263.4h0M448.8 270.1h0M188.8 203.2h0M228.7 210.0h0M268.7 216.7h0M308.6 223.5h0M348.6 230.3h0M388.5 237.0h0M428.5 243.8h0M208.4 183.6h0M248.4 190.4h0M288.4 197.2h0M328.3 203.9h0M368.3 210.7h0M408.2 217.5h0M228.1 164.1h0M268.1 170.8h0M308.0 177.6h0M348.0 184.3h0M387.9 191.1h0M247.8 144.5h0M287.7 151.2h0M327.7 158.0h0M367.6 164.8h0M267.4 124.9h0M307.4 131.7h0M347.4 138.4h0M287.1 105.3h0M327.1 112.1h0M306.8 85.7h0M192.6 203.6h0M232.6 210.4h0M272.5 217.2h0M312.5 223.9h0M352.5 230.7h0M392.4 237.4h0M432.4 244.2h0M212.3 184.0h0M252.3 190.8h0M292.2 197.6h0M332.2 204.3h0M372.1 211.1h0M412.1 217.9h0M232.0 164.5h0M271.9 171.2h0M311.9 178.0h0M351.8 184.8h0M391.8 191.5h0M251.6 144.9h0M291.6 151.6h0M331.5 158.4h0M371.5 165.2h0M271.3 125.3h0M311.3 132.1h0M351.2 138.8h0M291.0 105.7h0M330.9 112.5h0M310.6 86.1h0M216.2 184.5h0M256.1 191.2h0M296.1 198.0h0M336.0 204.7h0M376.0 211.5h0M415.9 218.3h0M235.8 164.9h0M275.8 171.6h0M315.7 178.4h0M355.7 185.2h0M395.6 191.9h0M255.5 145.3h0M295.5 152.1h0M335.4 158.8h0M375.4 165.6h0M275.2 125.7h0M315.1 132.5h0M355.1 139.2h0M294.8 106.1h0M334.8 112.9h0M314.5 86.6h0M239.7 165.3h0M279.6 172.1h0M319.6 178.8h0M359.6 185.6h0M399.5 192.3h0M259.4 145.7h0M299.3 152.5h0M339.3 159.2h0M379.2 166.0h0M279.0 126.1h0M319.0 132.9h0M358.9 139.7h0M298.7 106.5h0M338.6 113.3h0M318.4 87.0h0M263.2 146.1h0M303.2 152.9h0M343.1 159.6h0M383.1 166.4h0M282.9 126.5h0M322.8 133.3h0M362.8 140.1h0M302.6 107.0h0M342.5 113.7h0M322.2 87.4h0M286.7 126.9h0M326.7 133.7h0M366.7 140.5h0M306.4 107.4h0M346.4 114.1h0M326.1 87.8h0M310.3 107.8h0M350.2 114.5h0M329.9 88.2h0M333.8 88.6h0M128.1 253.9h0M168.0 260.7h0M208.0 267.5h0M247.9 274.2h0M287.9 281.0h0M327.8 287.8h0M367.8 294.5h0M407.7 301.3h0M447.7 308.0h0M147.7 234.4h0M187.7 241.1h0M227.6 247.9h0M267.6 254.6h0M307.5 261.4h0M347.5 268.2h0M387.4 274.9h0M427.4 281.7h0M167.4 214.8h0M207.3 221.5h0M247.3 228.3h0M287.3 235.1h0M327.2 241.8h0M367.2 248.6h0M407.1 255.4h0M187.1 195.2h0M227.0 202.0h0M267.0 208.7h0M306.9 215.5h0M346.9 222.2h0M386.8 229.0h0M206.7 175.6h0M246.7 182.4h0M286.6 189.1h0M326.6 195.9h0M366.5 202.7h0M226.4 156.0h0M266.3 162.8h0M306.3 169.6h0M346.3 176.3h0M246.1 136.4h0M286.0 143.2h0M326.0 150.0h0M265.7 116.9h0M305.7 123.6h0M285.4 97.3h0M151.6 234.8h0M191.5 241.5h0M231.5 248.3h0M271.4 255.1h0M311.4 261.8h0M351.4 268.6h0M391.3 275.3h0M431.3 282.1h0M171.3 215.2h0M211.2 221.9h0M251.2 228.7h0M291.1 235.5h0M331.1 242.2h0M371.0 249.0h0M411.0 255.8h0M190.9 195.6h0M230.9 202.4h0M270.8 209.1h0M310.8 215.9h0M350.7 222.7h0M390.7 229.4h0M210.6 176.0h0M250.5 182.8h0M290.5 189.5h0M330.4 196.3h0M370.4 203.1h0M230.2 156.4h0M270.2 163.2h0M310.2 170.0h0M350.1 176.7h0M249.9 136.9h0M289.9 143.6h0M329.8 150.4h0M269.6 117.3h0M309.5 124.0h0M289.2 97.7h0M175.1 215.6h0M215.1 222.4h0M255.0 229.1h0M295.0 235.9h0M334.9 242.7h0M374.9 249.4h0M414.8 256.2h0M194.8 196.0h0M234.7 202.8h0M274.7 209.5h0M314.6 216.3h0M354.6 223.1h0M394.5 229.8h0M214.4 176.4h0M254.4 183.2h0M294.4 190.0h0M334.3 196.7h0M374.3 203.5h0M234.1 156.9h0M274.1 163.6h0M314.0 170.4h0M354.0 177.1h0M253.8 137.3h0M293.7 144.0h0M333.7 150.8h0M273.4 117.7h0M313.4 124.5h0M293.1 98.1h0M198.6 196.4h0M238.6 203.2h0M278.5 210.0h0M318.5 216.7h0M358.5 223.5h0M398.4 230.2h0M218.3 176.8h0M258.3 183.6h0M298.2 190.4h0M338.2 197.1h0M378.1 203.9h0M238.0 157.3h0M277.9 164.0h0M317.9 170.8h0M357.8 177.6h0M257.6 137.7h0M297.6 144.4h0M337.5 151.2h0M277.3 118.1h0M317.3 124.9h0M297.0 98.5h0M222.2 177.3h0M262.1 184.0h0M302.1 190.8h0M342.0 197.5h0M382.0 204.3h0M241.8 157.7h0M281.8 164.4h0M321.7 171.2h0M361.7 178.0h0M261.5 138.1h0M301.5 144.9h0M341.4 151.6h0M281.2 118.5h0M321.1 125.3h0M300.8 98.9h0M245.7 158.1h0M285.6 164.9h0M325.6 171.6h0M365.6 178.4h0M265.4 138.5h0M305.3 145.3h0M345.3 152.0h0M285.0 118.9h0M325.0 125.7h0M304.7 99.3h0M269.2 138.9h0M309.2 145.7h0M349.1 152.4h0M288.9 119.3h0M328.8 126.1h0M308.6 99.8h0M292.7 119.7h0M332.7 126.5h0M312.4 100.2h0M316.3 100.6h0M134.1 246.7h0M174.0 253.5h0M214.0 260.3h0M253.9 267.0h0M293.9 273.8h0M333.8 280.6h0M373.8 287.3h0M413.7 294.1h0M153.7 227.2h0M193.7 233.9h0M233.6 240.7h0M273.6 247.4h0M313.5 254.2h0M353.5 261.0h0M393.4 267.7h0M173.4 207.6h0M213.3 214.3h0M253.3 221.1h0M293.3 227.9h0M333.2 234.6h0M373.2 241.4h0M193.1 188.0h0M233.0 194.8h0M273.0 201.5h0M312.9 208.3h0M352.9 215.0h0M212.7 168.4h0M252.7 175.2h0M292.6 181.9h0M332.6 188.7h0M232.4 148.8h0M272.3 155.6h0M312.3 162.4h0M252.1 129.2h0M292.0 136.0h0M271.7 109.7h0M157.6 227.6h0M197.5 234.3h0M237.5 241.1h0M277.4 247.9h0M317.4 254.6h0M357.4 261.4h0M397.3 268.1h0M177.3 208.0h0M217.2 214.7h0M257.2 221.5h0M297.1 228.3h0M337.1 235.0h0M377.0 241.8h0M196.9 188.4h0M236.9 195.2h0M276.8 201.9h0M316.8 208.7h0M356.7 215.5h0M216.6 168.8h0M256.5 175.6h0M296.5 182.3h0M336.4 189.1h0M236.2 149.2h0M276.2 156.0h0M316.2 162.8h0M255.9 129.7h0M295.9 136.4h0M275.6 110.1h0M181.1 208.4h0M221.1 215.2h0M261.0 221.9h0M301.0 228.7h0M340.9 235.4h0M380.9 242.2h0M200.8 188.8h0M240.7 195.6h0M280.7 202.3h0M320.6 209.1h0M360.6 215.9h0M220.4 169.2h0M260.4 176.0h0M300.4 182.8h0M340.3 189.5h0M240.1 149.7h0M280.1 156.4h0M320.0 163.2h0M259.8 130.1h0M299.7 136.8h0M279.4 110.5h0M204.6 189.2h0M244.6 196.0h0M284.5 202.8h0M324.5 209.5h0M364.5 216.3h0M224.3 169.6h0M264.3 176.4h0M304.2 183.2h0M344.2 189.9h0M244.0 150.1h0M283.9 156.8h0M323.9 163.6h0M263.6 130.5h0M303.6 137.2h0M283.3 110.9h0M228.2 170.1h0M268.1 176.8h0M308.1 183.6h0M348.0 190.3h0M247.8 150.5h0M287.8 157.2h0M327.7 164.0h0M267.5 130.9h0M307.5 137.7h0M287.2 111.3h0M251.7 150.9h0M291.6 157.7h0M331.6 164.4h0M271.4 131.3h0M311.3 138.1h0M291.0 111.7h0M275.2 131.7h0M315.2 138.5h0M294.9 112.1h0M298.7 112.5h0M140.1 239.5h0M180.0 246.3h0M220.0 253.1h0M259.9 259.8h0M299.9 266.6h0M339.8 273.4h0M379.8 280.1h0M159.7 220.0h0M199.7 226.7h0M239.6 233.5h0M279.6 240.2h0M319.5 247.0h0M359.5 253.8h0M179.4 200.4h0M219.3 207.1h0M259.3 213.9h0M299.3 220.7h0M339.2 227.4h0M199.1 180.8h0M239.0 187.6h0M279.0 194.3h0M318.9 201.1h0M218.7 161.2h0M258.7 168.0h0M298.6 174.7h0M238.4 141.6h0M278.3 148.4h0M258.1 122.0h0M163.6 220.4h0M203.5 227.1h0M243.5 233.9h0M283.4 240.7h0M323.4 247.4h0M363.4 254.2h0M183.3 200.8h0M223.2 207.5h0M263.2 214.3h0M303.1 221.1h0M343.1 227.8h0M202.9 181.2h0M242.9 188.0h0M282.8 194.7h0M322.8 201.5h0M222.6 161.6h0M262.5 168.4h0M302.5 175.1h0M242.2 142.0h0M282.2 148.8h0M261.9 122.5h0M187.1 201.2h0M227.1 208.0h0M267.0 214.7h0M307.0 221.5h0M346.9 228.2h0M206.8 181.6h0M246.7 188.4h0M286.7 195.1h0M326.6 201.9h0M226.4 162.0h0M266.4 168.8h0M306.4 175.6h0M246.1 142.5h0M286.1 149.2h0M265.8 122.9h0M210.6 182.0h0M250.6 188.8h0M290.5 195.6h0M330.5 202.3h0M230.3 162.4h0M270.3 169.2h0M310.2 176.0h0M250.0 142.9h0M289.9 149.6h0M269.6 123.3h0M234.2 162.9h0M274.1 169.6h0M314.1 176.4h0M253.8 143.3h0M293.8 150.0h0M273.5 123.7h0M257.7 143.7h0M297.6 150.5h0M277.4 124.1h0M281.2 124.5h0M146.1 232.3h0M186.0 239.1h0M226.0 245.9h0M265.9 252.6h0M305.9 259.4h0M345.8 266.2h0M165.7 212.8h0M205.7 219.5h0M245.6 226.3h0M285.6 233.0h0M325.5 239.8h0M185.4 193.2h0M225.3 199.9h0M265.3 206.7h0M305.3 213.5h0M205.1 173.6h0M245.0 180.4h0M285.0 187.1h0M224.7 154.0h0M264.7 160.8h0M244.4 134.4h0M169.6 213.2h0M209.5 219.9h0M249.5 226.7h0M289.4 233.5h0M329.4 240.2h0M189.3 193.6h0M229.2 200.3h0M269.2 207.1h0M309.1 213.9h0M208.9 174.0h0M248.9 180.8h0M288.8 187.5h0M228.6 154.4h0M268.5 161.2h0M248.2 134.8h0M193.1 194.0h0M233.1 200.8h0M273.0 207.5h0M313.0 214.3h0M212.8 174.4h0M252.7 181.2h0M292.7 187.9h0M232.4 154.8h0M272.4 161.6h0M252.1 135.3h0M216.6 174.8h0M256.6 181.6h0M296.5 188.4h0M236.3 155.2h0M276.3 162.0h0M256.0 135.7h0M240.2 155.7h0M280.1 162.4h0M259.8 136.1h0M263.7 136.5h0M152.1 225.1h0M192.0 231.9h0M232.0 238.7h0M271.9 245.4h0M311.9 252.2h0M171.7 205.6h0M211.7 212.3h0M251.6 219.1h0M291.6 225.8h0M191.4 186.0h0M231.3 192.7h0M271.3 199.5h0M211.1 166.4h0M251.0 173.2h0M230.7 146.8h0M175.6 206.0h0M215.5 212.7h0M255.5 219.5h0M295.4 226.3h0M195.3 186.4h0M235.2 193.1h0M275.2 199.9h0M214.9 166.8h0M254.9 173.6h0M234.6 147.2h0M199.1 186.8h0M239.1 193.6h0M279.0 200.3h0M218.8 167.2h0M258.7 174.0h0M238.4 147.6h0M222.6 167.6h0M262.6 174.4h0M242.3 148.0h0M246.2 148.5h0M158.1 217.9h0M198.0 224.7h0M238.0 231.5h0M277.9 238.2h0M177.7 198.4h0M217.7 205.1h0M257.6 211.9h0M197.4 178.8h0M237.3 185.5h0M217.1 159.2h0M181.6 198.8h0M221.5 205.5h0M261.5 212.3h0M201.3 179.2h0M241.2 185.9h0M220.9 159.6h0M205.1 179.6h0M245.1 186.4h0M224.8 160.0h0M228.6 160.4h0M164.1 210.7h0M204.0 217.5h0M244.0 224.3h0M183.7 191.2h0M223.7 197.9h0M203.4 171.6h0M187.6 191.6h0M227.5 198.3h0M207.3 172.0h0M211.1 172.4h0M170.1 203.5h0M210.0 210.3h0M189.7 184.0h0M193.6 184.4h0M176.1 196.3h0M99.6 284.9h0M139.6 291.6h0M179.5 298.4h0M219.5 305.2h0M259.4 311.9h0M299.4 318.7h0M339.3 325.4h0M379.3 332.2h0M419.2 339.0h0M459.2 345.7h0M499.2 352.5h0M539.1 359.3h0M579.1 366.0h0M119.3 265.3h0M159.2 272.0h0M199.2 278.8h0M239.1 285.6h0M279.1 292.3h0M319.1 299.1h0M359.0 305.9h0M399.0 312.6h0M438.9 319.4h0M478.9 326.2h0M518.8 332.9h0M558.8 339.7h0M138.9 245.7h0M178.9 252.5h0M218.9 259.2h0M258.8 266.0h0M298.8 272.8h0M338.7 279.5h0M378.7 286.3h0M418.6 293.1h0M458.6 299.8h0M498.5 306.6h0M538.5 313.3h0M158.6 226.1h0M198.6 232.9h0M238.5 239.6h0M278.5 246.4h0M318.4 253.2h0M358.4 259.9h0M398.3 266.7h0M438.3 273.5h0M478.2 280.2h0M518.2 287.0h0M178.3 206.5h0M218.2 213.3h0M258.2 220.1h0M298.1 226.8h0M338.1 233.6h0M378.1 240.4h0M418.0 247.1h0M458.0 253.9h0M497.9 260.7h0M197.9 187.0h0M237.9 193.7h0M277.9 200.5h0M317.8 207.3h0M357.8 214.0h0M397.7 220.8h0M437.7 227.5h0M477.6 234.3h0M217.6 167.4h0M257.6 174.1h0M297.5 180.9h0M337.5 187.7h0M377.4 194.4h0M417.4 201.2h0M457.3 208.0h0M237.3 147.8h0M277.2 154.6h0M317.2 161.3h0M357.1 168.1h0M397.1 174.9h0M437.1 181.6h0M256.9 128.2h0M296.9 135.0h0M336.9 141.7h0M376.8 148.5h0M416.8 155.3h0M276.6 108.6h0M316.6 115.4h0M356.5 122.2h0M396.5 128.9h0M296.3 89.1h0M336.2 95.8h0M376.2 102.6h0M315.9 69.5h0M355.9 76.2h0M335.6 49.9h0M123.1 265.7h0M163.1 272.5h0M203.1 279.2h0M243.0 286.0h0M283.0 292.8h0M322.9 299.5h0M362.9 306.3h0M402.8 313.0h0M442.8 319.8h0M482.7 326.6h0M522.7 333.3h0M562.6 340.1h0M142.8 246.1h0M182.8 252.9h0M222.7 259.6h0M262.7 266.4h0M302.6 273.2h0M342.6 279.9h0M382.5 286.7h0M422.5 293.5h0M462.4 300.2h0M502.4 307.0h0M542.4 313.8h0M162.5 226.5h0M202.4 233.3h0M242.4 240.1h0M282.3 246.8h0M322.3 253.6h0M362.2 260.4h0M402.2 267.1h0M442.2 273.9h0M482.1 280.6h0M522.1 287.4h0M182.1 207.0h0M222.1 213.7h0M262.1 220.5h0M302.0 227.2h0M342.0 234.0h0M381.9 240.8h0M421.9 247.5h0M461.8 254.3h0M501.8 261.1h0M201.8 187.4h0M241.8 194.1h0M281.7 200.9h0M321.7 207.7h0M361.6 214.4h0M401.6 221.2h0M441.5 228.0h0M481.5 234.7h0M221.5 167.8h0M261.4 174.6h0M301.4 181.3h0M341.3 188.1h0M381.3 194.8h0M421.2 201.6h0M461.2 208.4h0M241.1 148.2h0M281.1 155.0h0M321.0 161.7h0M361.0 168.5h0M401.0 175.3h0M440.9 182.0h0M260.8 128.6h0M300.8 135.4h0M340.7 142.2h0M380.7 148.9h0M420.6 155.7h0M280.5 109.0h0M320.4 115.8h0M360.4 122.6h0M400.3 129.3h0M300.1 89.5h0M340.1 96.2h0M380.0 103.0h0M319.8 69.9h0M359.8 76.6h0M339.5 50.3h0M146.7 246.5h0M186.6 253.3h0M226.6 260.1h0M266.5 266.8h0M306.5 273.6h0M346.4 280.3h0M386.4 287.1h0M426.4 293.9h0M466.3 300.6h0M506.3 307.4h0M546.2 314.2h0M166.3 226.9h0M206.3 233.7h0M246.2 240.5h0M286.2 247.2h0M326.2 254.0h0M366.1 260.8h0M406.1 267.5h0M446.0 274.3h0M486.0 281.1h0M525.9 287.8h0M186.0 207.4h0M226.0 214.1h0M265.9 220.9h0M305.9 227.7h0M345.8 234.4h0M385.8 241.2h0M425.7 247.9h0M465.7 254.7h0M505.6 261.5h0M205.7 187.8h0M245.6 194.5h0M285.6 201.3h0M325.5 208.1h0M365.5 214.8h0M405.4 221.6h0M445.4 228.4h0M485.3 235.1h0M225.3 168.2h0M265.3 175.0h0M305.2 181.7h0M345.2 188.5h0M385.2 195.3h0M425.1 202.0h0M465.1 208.8h0M245.0 148.6h0M285.0 155.4h0M324.9 162.1h0M364.9 168.9h0M404.8 175.7h0M444.8 182.4h0M264.7 129.0h0M304.6 135.8h0M344.6 142.6h0M384.5 149.3h0M424.5 156.1h0M284.3 109.5h0M324.3 116.2h0M364.2 123.0h0M404.2 129.8h0M304.0 89.9h0M344.0 96.6h0M383.9 103.4h0M323.7 70.3h0M363.6 77.1h0M343.3 50.7h0M170.2 227.4h0M210.2 234.1h0M250.1 240.9h0M290.1 247.6h0M330.0 254.4h0M370.0 261.2h0M409.9 267.9h0M449.9 274.7h0M489.8 281.5h0M529.8 288.2h0M189.9 207.8h0M229.8 214.5h0M269.8 221.3h0M309.7 228.1h0M349.7 234.8h0M389.6 241.6h0M429.6 248.4h0M469.5 255.1h0M509.5 261.9h0M209.5 188.2h0M249.5 195.0h0M289.4 201.7h0M329.4 208.5h0M369.3 215.3h0M409.3 222.0h0M449.3 228.8h0M489.2 235.5h0M229.2 168.6h0M269.2 175.4h0M309.1 182.1h0M349.1 188.9h0M389.0 195.7h0M429.0 202.4h0M468.9 209.2h0M248.9 149.0h0M288.8 155.8h0M328.8 162.6h0M368.7 169.3h0M408.7 176.1h0M448.6 182.9h0M268.5 129.5h0M308.5 136.2h0M348.4 143.0h0M388.4 149.7h0M428.3 156.5h0M288.2 109.9h0M328.1 116.6h0M368.1 123.4h0M408.1 130.2h0M307.9 90.3h0M347.8 97.1h0M387.8 103.8h0M327.5 70.7h0M367.5 77.5h0M347.2 51.1h0M193.7 208.2h0M233.7 215.0h0M273.6 221.7h0M313.6 228.5h0M353.5 235.2h0M393.5 242.0h0M433.4 248.8h0M473.4 255.5h0M513.4 262.3h0M213.4 188.6h0M253.3 195.4h0M293.3 202.1h0M333.3 208.9h0M373.2 215.7h0M413.2 222.4h0M453.1 229.2h0M493.1 236.0h0M233.1 169.0h0M273.0 175.8h0M313.0 182.6h0M352.9 189.3h0M392.9 196.1h0M432.8 202.8h0M472.8 209.6h0M252.7 149.4h0M292.7 156.2h0M332.6 163.0h0M372.6 169.7h0M412.5 176.5h0M452.5 183.3h0M272.4 129.9h0M312.3 136.6h0M352.3 143.4h0M392.3 150.2h0M432.2 156.9h0M292.1 110.3h0M332.0 117.0h0M372.0 123.8h0M411.9 130.6h0M311.7 90.7h0M351.7 97.5h0M391.6 104.2h0M331.4 71.1h0M371.3 77.9h0M351.1 51.5h0M217.3 189.0h0M257.2 195.8h0M297.2 202.5h0M337.1 209.3h0M377.1 216.1h0M417.0 222.8h0M457.0 229.6h0M496.9 236.4h0M236.9 169.4h0M276.9 176.2h0M316.8 183.0h0M356.8 189.7h0M396.7 196.5h0M436.7 203.3h0M476.6 210.0h0M256.6 149.9h0M296.5 156.6h0M336.5 163.4h0M376.4 170.1h0M416.4 176.9h0M456.4 183.7h0M276.3 130.3h0M316.2 137.0h0M356.2 143.8h0M396.1 150.6h0M436.1 157.3h0M295.9 110.7h0M335.9 117.5h0M375.8 124.2h0M415.8 131.0h0M315.6 91.1h0M355.5 97.9h0M395.5 104.6h0M335.2 71.5h0M375.2 78.3h0M354.9 52.0h0M240.8 169.8h0M280.7 176.6h0M320.7 183.4h0M360.6 190.1h0M400.6 196.9h0M440.6 203.7h0M480.5 210.4h0M260.4 150.3h0M300.4 157.0h0M340.4 163.8h0M380.3 170.6h0M420.3 177.3h0M460.2 184.1h0M280.1 130.7h0M320.1 137.5h0M360.0 144.2h0M400.0 151.0h0M439.9 157.7h0M299.8 111.1h0M339.7 117.9h0M379.7 124.6h0M419.6 131.4h0M319.4 91.5h0M359.4 98.3h0M399.4 105.1h0M339.1 71.9h0M379.1 78.7h0M358.8 52.4h0M264.3 150.7h0M304.3 157.4h0M344.2 164.2h0M384.2 171.0h0M424.1 177.7h0M464.1 184.5h0M284.0 131.1h0M323.9 137.9h0M363.9 144.6h0M403.8 151.4h0M443.8 158.2h0M303.6 111.5h0M343.6 118.3h0M383.5 125.0h0M423.5 131.8h0M323.3 91.9h0M363.3 98.7h0M403.2 105.5h0M343.0 72.4h0M382.9 79.1h0M362.6 52.8h0M287.8 131.5h0M327.8 138.3h0M367.7 145.0h0M407.7 151.8h0M447.6 158.6h0M307.5 111.9h0M347.5 118.7h0M387.4 125.5h0M427.4 132.2h0M327.2 92.3h0M367.1 99.1h0M407.1 105.9h0M346.8 72.8h0M386.8 79.5h0M366.5 53.2h0M311.4 112.3h0M351.3 119.1h0M391.3 125.9h0M431.2 132.6h0M331.0 92.8h0M371.0 99.5h0M410.9 106.3h0M350.7 73.2h0M390.6 79.9h0M370.4 53.6h0M334.9 93.2h0M374.8 99.9h0M414.8 106.7h0M354.6 73.6h0M394.5 80.4h0M374.2 54.0h0M358.4 74.0h0M398.4 80.8h0M378.1 54.4h0M381.9 54.8h0M105.6 277.7h0M145.6 284.4h0M185.5 291.2h0M225.5 298.0h0M265.4 304.7h0M305.4 311.5h0M345.3 318.2h0M385.3 325.0h0M425.2 331.8h0M465.2 338.5h0M505.2 345.3h0M545.1 352.1h0M125.3 258.1h0M165.2 264.8h0M205.2 271.6h0M245.1 278.4h0M285.1 285.1h0M325.1 291.9h0M365.0 298.7h0M405.0 305.4h0M444.9 312.2h0M484.9 319.0h0M524.8 325.7h0M144.9 238.5h0M184.9 245.3h0M224.9 252.0h0M264.8 258.8h0M304.8 265.6h0M344.7 272.3h0M384.7 279.1h0M424.6 285.9h0M464.6 292.6h0M504.5 299.4h0M164.6 218.9h0M204.6 225.7h0M244.5 232.4h0M284.5 239.2h0M324.4 246.0h0M364.4 252.7h0M404.3 259.5h0M444.3 266.3h0M484.2 273.0h0M184.3 199.3h0M224.2 206.1h0M264.2 212.9h0M304.1 219.6h0M344.1 226.4h0M384.1 233.2h0M424.0 239.9h0M464.0 246.7h0M203.9 179.8h0M243.9 186.5h0M283.9 193.3h0M323.8 200.1h0M363.8 206.8h0M403.7 213.6h0M443.7 220.3h0M223.6 160.2h0M263.6 166.9h0M303.5 173.7h0M343.5 180.5h0M383.4 187.2h0M423.4 194.0h0M243.3 140.6h0M283.2 147.4h0M323.2 154.1h0M363.1 160.9h0M403.1 167.7h0M262.9 121.0h0M302.9 127.8h0M342.9 134.5h0M382.8 141.3h0M282.6 101.4h0M322.6 108.2h0M362.5 115.0h0M302.3 81.9h0M342.2 88.6h0M321.9 62.3h0M129.1 258.5h0M169.1 265.3h0M209.1 272.0h0M249.0 278.8h0M289.0 285.6h0M328.9 292.3h0M368.9 299.1h0M408.8 305.8h0M448.8 312.6h0M488.7 319.4h0M528.7 326.1h0M148.8 238.9h0M188.8 245.7h0M228.7 252.4h0M268.7 259.2h0M308.6 266.0h0M348.6 272.7h0M388.5 279.5h0M428.5 286.3h0M468.4 293.0h0M508.4 299.8h0M168.5 219.3h0M208.4 226.1h0M248.4 232.9h0M288.3 239.6h0M328.3 246.4h0M368.2 253.2h0M408.2 259.9h0M448.2 266.7h0M488.1 273.4h0M188.1 199.8h0M228.1 206.5h0M268.1 213.3h0M308.0 220.0h0M348.0 226.8h0M387.9 233.6h0M427.9 240.3h0M467.8 247.1h0M207.8 180.2h0M247.8 186.9h0M287.7 193.7h0M327.7 200.5h0M367.6 207.2h0M407.6 214.0h0M447.5 220.8h0M227.5 160.6h0M267.4 167.4h0M307.4 174.1h0M347.3 180.9h0M387.3 187.6h0M427.2 194.4h0M247.1 141.0h0M287.1 147.8h0M327.0 154.5h0M367.0 161.3h0M407.0 168.1h0M266.8 121.4h0M306.8 128.2h0M346.7 135.0h0M386.7 141.7h0M286.5 101.8h0M326.4 108.6h0M366.4 115.4h0M306.1 82.3h0M346.1 89.0h0M325.8 62.7h0M152.7 239.3h0M192.6 246.1h0M232.6 252.9h0M272.5 259.6h0M312.5 266.4h0M352.4 273.1h0M392.4 279.9h0M432.4 286.7h0M472.3 293.4h0M512.3 300.2h0M172.3 219.7h0M212.3 226.5h0M252.2 233.3h0M292.2 240.0h0M332.2 246.8h0M372.1 253.6h0M412.1 260.3h0M452.0 267.1h0M492.0 273.9h0M192.0 200.2h0M232.0 206.9h0M271.9 213.7h0M311.9 220.5h0M351.8 227.2h0M391.8 234.0h0M431.7 240.7h0M471.7 247.5h0M211.7 180.6h0M251.6 187.3h0M291.6 194.1h0M331.5 200.9h0M371.5 207.6h0M411.4 214.4h0M451.4 221.2h0M231.3 161.0h0M271.3 167.8h0M311.2 174.5h0M351.2 181.3h0M391.2 188.1h0M431.1 194.8h0M251.0 141.4h0M291.0 148.2h0M330.9 154.9h0M370.9 161.7h0M410.8 168.5h0M270.7 121.8h0M310.6 128.6h0M350.6 135.4h0M390.5 142.1h0M290.3 102.3h0M330.3 109.0h0M370.2 115.8h0M310.0 82.7h0M350.0 89.4h0M329.7 63.1h0M176.2 220.2h0M216.2 226.9h0M256.1 233.7h0M296.1 240.4h0M336.0 247.2h0M376.0 254.0h0M415.9 260.7h0M455.9 267.5h0M495.8 274.3h0M195.9 200.6h0M235.8 207.3h0M275.8 214.1h0M315.7 220.9h0M355.7 227.6h0M395.6 234.4h0M435.6 241.2h0M475.5 247.9h0M215.5 181.0h0M255.5 187.8h0M295.4 194.5h0M335.4 201.3h0M375.3 208.1h0M415.3 214.8h0M455.3 221.6h0M235.2 161.4h0M275.2 168.2h0M315.1 174.9h0M355.1 181.7h0M395.0 188.5h0M435.0 195.2h0M254.9 141.8h0M294.8 148.6h0M334.8 155.4h0M374.7 162.1h0M414.7 168.9h0M274.5 122.3h0M314.5 129.0h0M354.4 135.8h0M394.4 142.5h0M294.2 102.7h0M334.1 109.4h0M374.1 116.2h0M313.9 83.1h0M353.8 89.9h0M333.5 63.5h0M199.7 201.0h0M239.7 207.8h0M279.6 214.5h0M319.6 221.3h0M359.5 228.0h0M399.5 234.8h0M439.4 241.6h0M479.4 248.3h0M219.4 181.4h0M259.3 188.2h0M299.3 194.9h0M339.3 201.7h0M379.2 208.5h0M419.2 215.2h0M459.1 222.0h0M239.1 161.8h0M279.0 168.6h0M319.0 175.4h0M358.9 182.1h0M398.9 188.9h0M438.8 195.6h0M258.7 142.2h0M298.7 149.0h0M338.6 155.8h0M378.6 162.5h0M418.5 169.3h0M278.4 122.7h0M318.3 129.4h0M358.3 136.2h0M398.3 143.0h0M298.1 103.1h0M338.0 109.8h0M378.0 116.6h0M317.7 83.5h0M357.7 90.3h0M337.4 63.9h0M223.3 181.8h0M263.2 188.6h0M303.2 195.3h0M343.1 202.1h0M383.1 208.9h0M423.0 215.6h0M463.0 222.4h0M242.9 162.2h0M282.9 169.0h0M322.8 175.8h0M362.8 182.5h0M402.7 189.3h0M442.7 196.1h0M262.6 142.7h0M302.5 149.4h0M342.5 156.2h0M382.4 162.9h0M422.4 169.7h0M282.3 123.1h0M322.2 129.8h0M362.2 136.6h0M402.1 143.4h0M301.9 103.5h0M341.9 110.3h0M381.8 117.0h0M321.6 83.9h0M361.5 90.7h0M341.2 64.3h0M246.8 162.7h0M286.7 169.4h0M326.7 176.2h0M366.6 182.9h0M406.6 189.7h0M446.6 196.5h0M266.4 143.1h0M306.4 149.8h0M346.4 156.6h0M386.3 163.4h0M426.3 170.1h0M286.1 123.5h0M326.1 130.3h0M366.0 137.0h0M406.0 143.8h0M305.8 103.9h0M345.7 110.7h0M385.7 117.4h0M325.4 84.3h0M365.4 91.1h0M345.1 64.7h0M270.3 143.5h0M310.3 150.2h0M350.2 157.0h0M390.2 163.8h0M430.1 170.5h0M290.0 123.9h0M329.9 130.7h0M369.9 137.4h0M409.8 144.2h0M309.6 104.3h0M349.6 111.1h0M389.5 117.8h0M329.3 84.7h0M369.3 91.5h0M349.0 65.2h0M293.8 124.3h0M333.8 131.1h0M373.7 137.8h0M413.7 144.6h0M313.5 104.7h0M353.5 111.5h0M393.4 118.3h0M333.2 85.2h0M373.1 91.9h0M352.8 65.6h0M317.4 105.1h0M357.3 111.9h0M397.3 118.7h0M337.0 85.6h0M377.0 92.3h0M356.7 66.0h0M340.9 86.0h0M380.8 92.7h0M360.6 66.4h0M364.4 66.8h0M111.6 270.5h0M151.6 277.2h0M191.5 284.0h0M231.5 290.8h0M271.4 297.5h0M311.4 304.3h0M351.3 311.0h0M391.3 317.8h0M431.2 324.6h0M471.2 331.3h0M511.2 338.1h0M131.3 250.9h0M171.2 257.6h0M211.2 264.4h0M251.1 271.2h0M291.1 277.9h0M331.1 284.7h0M371.0 291.5h0M411.0 298.2h0M450.9 305.0h0M490.9 311.8h0M150.9 231.3h0M190.9 238.1h0M230.9 244.8h0M270.8 251.6h0M310.8 258.4h0M350.7 265.1h0M390.7 271.9h0M430.6 278.6h0M470.6 285.4h0M170.6 211.7h0M210.6 218.5h0M250.5 225.2h0M290.5 232.0h0M330.4 238.8h0M370.4 245.5h0M410.3 252.3h0M450.3 259.1h0M190.3 192.1h0M230.2 198.9h0M270.2 205.7h0M310.1 212.4h0M350.1 219.2h0M390.1 226.0h0M430.0 232.7h0M209.9 172.6h0M249.9 179.3h0M289.9 186.1h0M329.8 192.9h0M369.8 199.6h0M409.7 206.4h0M229.6 153.0h0M269.6 159.7h0M309.5 166.5h0M349.5 173.3h0M389.4 180.0h0M249.3 133.4h0M289.2 140.2h0M329.2 146.9h0M369.1 153.7h0M268.9 113.8h0M308.9 120.6h0M348.9 127.3h0M288.6 94.2h0M328.6 101.0h0M308.3 74.7h0M135.1 251.3h0M175.1 258.1h0M215.1 264.8h0M255.0 271.6h0M295.0 278.4h0M334.9 285.1h0M374.9 291.9h0M414.8 298.6h0M454.8 305.4h0M494.7 312.2h0M154.8 231.7h0M194.8 238.5h0M234.7 245.2h0M274.7 252.0h0M314.6 258.8h0M354.6 265.5h0M394.5 272.3h0M434.5 279.1h0M474.4 285.8h0M174.5 212.1h0M214.4 218.9h0M254.4 225.7h0M294.3 232.4h0M334.3 239.2h0M374.2 246.0h0M414.2 252.7h0M454.2 259.5h0M194.1 192.6h0M234.1 199.3h0M274.1 206.1h0M314.0 212.8h0M354.0 219.6h0M393.9 226.4h0M433.9 233.1h0M213.8 173.0h0M253.8 179.7h0M293.7 186.5h0M333.7 193.3h0M373.6 200.0h0M413.6 206.8h0M233.5 153.4h0M273.4 160.2h0M313.4 166.9h0M353.3 173.7h0M393.3 180.4h0M253.1 133.8h0M293.1 140.6h0M333.0 147.3h0M373.0 154.1h0M272.8 114.2h0M312.8 121.0h0M352.7 127.8h0M292.5 94.6h0M332.4 101.4h0M312.1 75.1h0M158.7 232.1h0M198.6 238.9h0M238.6 245.7h0M278.5 252.4h0M318.5 259.2h0M358.4 265.9h0M398.4 272.7h0M438.4 279.5h0M478.3 286.2h0M178.3 212.5h0M218.3 219.3h0M258.2 226.1h0M298.2 232.8h0M338.2 239.6h0M378.1 246.4h0M418.1 253.1h0M458.0 259.9h0M198.0 193.0h0M238.0 199.7h0M277.9 206.5h0M317.9 213.3h0M357.8 220.0h0M397.8 226.8h0M437.7 233.5h0M217.7 173.4h0M257.6 180.1h0M297.6 186.9h0M337.5 193.7h0M377.5 200.4h0M417.4 207.2h0M237.3 153.8h0M277.3 160.6h0M317.2 167.3h0M357.2 174.1h0M397.2 180.9h0M257.0 134.2h0M297.0 141.0h0M336.9 147.7h0M376.9 154.5h0M276.7 114.6h0M316.6 121.4h0M356.6 128.2h0M296.3 95.1h0M336.3 101.8h0M316.0 75.5h0M182.2 213.0h0M222.2 219.7h0M262.1 226.5h0M302.1 233.2h0M342.0 240.0h0M382.0 246.8h0M421.9 253.5h0M461.9 260.3h0M201.9 193.4h0M241.8 200.1h0M281.8 206.9h0M321.7 213.7h0M361.7 220.4h0M401.6 227.2h0M441.6 234.0h0M221.5 173.8h0M261.5 180.6h0M301.4 187.3h0M341.4 194.1h0M381.3 200.9h0M421.3 207.6h0M241.2 154.2h0M281.2 161.0h0M321.1 167.7h0M361.1 174.5h0M401.0 181.3h0M260.9 134.6h0M300.8 141.4h0M340.8 148.2h0M380.7 154.9h0M280.5 115.1h0M320.5 121.8h0M360.4 128.6h0M300.2 95.5h0M340.1 102.2h0M319.9 75.9h0M205.7 193.8h0M245.7 200.6h0M285.6 207.3h0M325.6 214.1h0M365.5 220.8h0M405.5 227.6h0M445.4 234.4h0M225.4 174.2h0M265.3 181.0h0M305.3 187.7h0M345.3 194.5h0M385.2 201.3h0M425.2 208.0h0M245.1 154.6h0M285.0 161.4h0M325.0 168.2h0M364.9 174.9h0M404.9 181.7h0M264.7 135.0h0M304.7 141.8h0M344.6 148.6h0M384.6 155.3h0M284.4 115.5h0M324.3 122.2h0M364.3 129.0h0M304.1 95.9h0M344.0 102.6h0M323.7 76.3h0M229.3 174.6h0M269.2 181.4h0M309.2 188.1h0M349.1 194.9h0M389.1 201.7h0M429.0 208.4h0M248.9 155.0h0M288.9 161.8h0M328.8 168.6h0M368.8 175.3h0M408.7 182.1h0M268.6 135.5h0M308.5 142.2h0M348.5 149.0h0M388.4 155.7h0M288.3 115.9h0M328.2 122.6h0M368.2 129.4h0M307.9 96.3h0M347.9 103.1h0M327.6 76.7h0M252.8 155.4h0M292.7 162.2h0M332.7 169.0h0M372.6 175.7h0M412.6 182.5h0M272.4 135.9h0M312.4 142.6h0M352.4 149.4h0M392.3 156.2h0M292.1 116.3h0M332.1 123.1h0M372.0 129.8h0M311.8 96.7h0M351.7 103.5h0M331.4 77.1h0M276.3 136.3h0M316.3 143.0h0M356.2 149.8h0M396.2 156.6h0M296.0 116.7h0M335.9 123.5h0M375.9 130.2h0M315.6 97.1h0M355.6 103.9h0M335.3 77.5h0M299.8 117.1h0M339.8 123.9h0M379.7 130.6h0M319.5 97.5h0M359.5 104.3h0M339.2 77.9h0M323.4 97.9h0M363.3 104.7h0M343.0 78.4h0M346.9 78.8h0M117.6 263.3h0M157.6 270.0h0M197.5 276.8h0M237.5 283.6h0M277.4 290.3h0M317.4 297.1h0M357.3 303.8h0M397.3 310.6h0M437.2 317.4h0M477.2 324.1h0M137.3 243.7h0M177.2 250.4h0M217.2 257.2h0M257.1 264.0h0M297.1 270.7h0M337.1 277.5h0M377.0 284.3h0M417.0 291.0h0M456.9 297.8h0M156.9 224.1h0M196.9 230.9h0M236.9 237.6h0M276.8 244.4h0M316.8 251.2h0M356.7 257.9h0M396.7 264.7h0M436.6 271.4h0M176.6 204.5h0M216.6 211.3h0M256.5 218.0h0M296.5 224.8h0M336.4 231.6h0M376.4 238.3h0M416.3 245.1h0M196.3 184.9h0M236.2 191.7h0M276.2 198.5h0M316.1 205.2h0M356.1 212.0h0M396.1 218.8h0M215.9 165.4h0M255.9 172.1h0M295.9 178.9h0M335.8 185.7h0M375.8 192.4h0M235.6 145.8h0M275.6 152.5h0M315.5 159.3h0M355.5 166.1h0M255.3 126.2h0M295.2 133.0h0M335.2 139.7h0M274.9 106.6h0M314.9 113.4h0M294.6 87.0h0M141.1 244.1h0M181.1 250.9h0M221.1 257.6h0M261.0 264.4h0M301.0 271.2h0M340.9 277.9h0M380.9 284.7h0M420.8 291.4h0M460.8 298.2h0M160.8 224.5h0M200.8 231.3h0M240.7 238.0h0M280.7 244.8h0M320.6 251.6h0M360.6 258.3h0M400.5 265.1h0M440.5 271.9h0M180.5 204.9h0M220.4 211.7h0M260.4 218.5h0M300.3 225.2h0M340.3 232.0h0M380.2 238.8h0M420.2 245.5h0M200.1 185.4h0M240.1 192.1h0M280.1 198.9h0M320.0 205.6h0M360.0 212.4h0M399.9 219.2h0M219.8 165.8h0M259.8 172.5h0M299.7 179.3h0M339.7 186.1h0M379.6 192.8h0M239.5 146.2h0M279.4 153.0h0M319.4 159.7h0M359.3 166.5h0M259.1 126.6h0M299.1 133.4h0M339.0 140.1h0M278.8 107.0h0M318.8 113.8h0M298.5 87.4h0M164.7 224.9h0M204.6 231.7h0M244.6 238.5h0M284.5 245.2h0M324.5 252.0h0M364.4 258.7h0M404.4 265.5h0M444.4 272.3h0M184.3 205.3h0M224.3 212.1h0M264.2 218.9h0M304.2 225.6h0M344.2 232.4h0M384.1 239.2h0M424.1 245.9h0M204.0 185.8h0M244.0 192.5h0M283.9 199.3h0M323.9 206.1h0M363.8 212.8h0M403.8 219.6h0M223.7 166.2h0M263.6 172.9h0M303.6 179.7h0M343.5 186.5h0M383.5 193.2h0M243.3 146.6h0M283.3 153.4h0M323.2 160.1h0M363.2 166.9h0M263.0 127.0h0M303.0 133.8h0M342.9 140.5h0M282.7 107.4h0M322.6 114.2h0M302.3 87.9h0M188.2 205.8h0M228.2 212.5h0M268.1 219.3h0M308.1 226.0h0M348.0 232.8h0M388.0 239.6h0M427.9 246.3h0M207.9 186.2h0M247.8 192.9h0M287.8 199.7h0M327.7 206.5h0M367.7 213.2h0M407.6 220.0h0M227.5 166.6h0M267.5 173.4h0M307.4 180.1h0M347.4 186.9h0M387.3 193.7h0M247.2 147.0h0M287.2 153.8h0M327.1 160.5h0M367.1 167.3h0M266.9 127.4h0M306.8 134.2h0M346.8 141.0h0M286.5 107.9h0M326.5 114.6h0M306.2 88.3h0M211.7 186.6h0M251.7 193.4h0M291.6 200.1h0M331.6 206.9h0M371.5 213.6h0M411.5 220.4h0M231.4 167.0h0M271.3 173.8h0M311.3 180.5h0M351.3 187.3h0M391.2 194.1h0M251.1 147.4h0M291.0 154.2h0M331.0 161.0h0M370.9 167.7h0M270.7 127.8h0M310.7 134.6h0M350.6 141.4h0M290.4 108.3h0M330.3 115.0h0M310.1 88.7h0M235.3 167.4h0M275.2 174.2h0M315.2 180.9h0M355.1 187.7h0M395.1 194.5h0M254.9 147.8h0M294.9 154.6h0M334.8 161.4h0M374.8 168.1h0M274.6 128.3h0M314.5 135.0h0M354.5 141.8h0M294.3 108.7h0M334.2 115.4h0M313.9 89.1h0M258.8 148.2h0M298.7 155.0h0M338.7 161.8h0M378.6 168.5h0M278.4 128.7h0M318.4 135.4h0M358.4 142.2h0M298.1 109.1h0M338.1 115.9h0M317.8 89.5h0M282.3 129.1h0M322.3 135.8h0M362.2 142.6h0M302.0 109.5h0M341.9 116.3h0M321.6 89.9h0M305.8 109.9h0M345.8 116.7h0M325.5 90.3h0M329.4 90.7h0M123.6 256.1h0M163.6 262.8h0M203.5 269.6h0M243.5 276.4h0M283.4 283.1h0M323.4 289.9h0M363.3 296.6h0M403.3 303.4h0M443.2 310.2h0M143.3 236.5h0M183.2 243.2h0M223.2 250.0h0M263.1 256.8h0M303.1 263.5h0M343.1 270.3h0M383.0 277.1h0M423.0 283.8h0M162.9 216.9h0M202.9 223.7h0M242.9 230.4h0M282.8 237.2h0M322.8 244.0h0M362.7 250.7h0M402.7 257.5h0M182.6 197.3h0M222.6 204.1h0M262.5 210.8h0M302.5 217.6h0M342.4 224.4h0M382.4 231.1h0M202.3 177.7h0M242.2 184.5h0M282.2 191.3h0M322.1 198.0h0M362.1 204.8h0M221.9 158.2h0M261.9 164.9h0M301.9 171.7h0M341.8 178.5h0M241.6 138.6h0M281.6 145.3h0M321.5 152.1h0M261.3 119.0h0M301.2 125.8h0M280.9 99.4h0M147.1 236.9h0M187.1 243.7h0M227.1 250.4h0M267.0 257.2h0M307.0 264.0h0M346.9 270.7h0M386.9 277.5h0M426.8 284.2h0M166.8 217.3h0M206.8 224.1h0M246.7 230.8h0M286.7 237.6h0M326.6 244.4h0M366.6 251.1h0M406.5 257.9h0M186.5 197.7h0M226.4 204.5h0M266.4 211.3h0M306.3 218.0h0M346.3 224.8h0M386.2 231.6h0M206.1 178.2h0M246.1 184.9h0M286.1 191.7h0M326.0 198.4h0M366.0 205.2h0M225.8 158.6h0M265.8 165.3h0M305.7 172.1h0M345.7 178.9h0M245.5 139.0h0M285.4 145.8h0M325.4 152.5h0M265.1 119.4h0M305.1 126.2h0M284.8 99.8h0M170.7 217.7h0M210.6 224.5h0M250.6 231.3h0M290.5 238.0h0M330.5 244.8h0M370.4 251.5h0M410.4 258.3h0M190.3 198.1h0M230.3 204.9h0M270.2 211.7h0M310.2 218.4h0M350.2 225.2h0M390.1 232.0h0M210.0 178.6h0M250.0 185.3h0M289.9 192.1h0M329.9 198.9h0M369.8 205.6h0M229.7 159.0h0M269.6 165.7h0M309.6 172.5h0M349.5 179.3h0M249.3 139.4h0M289.3 146.2h0M329.2 152.9h0M269.0 119.8h0M309.0 126.6h0M288.7 100.2h0M194.2 198.6h0M234.2 205.3h0M274.1 212.1h0M314.1 218.8h0M354.0 225.6h0M394.0 232.4h0M213.9 179.0h0M253.8 185.7h0M293.8 192.5h0M333.7 199.3h0M373.7 206.0h0M233.5 159.4h0M273.5 166.2h0M313.4 172.9h0M353.4 179.7h0M253.2 139.8h0M293.2 146.6h0M333.1 153.3h0M272.9 120.2h0M312.8 127.0h0M292.5 100.7h0M217.7 179.4h0M257.7 186.2h0M297.6 192.9h0M337.6 199.7h0M377.5 206.4h0M237.4 159.8h0M277.3 166.6h0M317.3 173.3h0M357.3 180.1h0M257.1 140.2h0M297.0 147.0h0M337.0 153.8h0M276.7 120.6h0M316.7 127.4h0M296.4 101.1h0M241.3 160.2h0M281.2 167.0h0M321.2 173.7h0M361.1 180.5h0M260.9 140.6h0M300.9 147.4h0M340.8 154.2h0M280.6 121.1h0M320.5 127.8h0M300.3 101.5h0M264.8 141.0h0M304.7 147.8h0M344.7 154.6h0M284.4 121.5h0M324.4 128.2h0M304.1 101.9h0M288.3 121.9h0M328.3 128.6h0M308.0 102.3h0M311.8 102.7h0M129.6 248.9h0M169.6 255.6h0M209.5 262.4h0M249.5 269.2h0M289.4 275.9h0M329.4 282.7h0M369.3 289.4h0M409.3 296.2h0M149.3 229.3h0M189.2 236.0h0M229.2 242.8h0M269.1 249.6h0M309.1 256.3h0M349.1 263.1h0M389.0 269.9h0M168.9 209.7h0M208.9 216.5h0M248.9 223.2h0M288.8 230.0h0M328.8 236.8h0M368.7 243.5h0M188.6 190.1h0M228.6 196.9h0M268.5 203.6h0M308.5 210.4h0M348.4 217.2h0M208.3 170.5h0M248.2 177.3h0M288.2 184.1h0M328.1 190.8h0M227.9 151.0h0M267.9 157.7h0M307.9 164.5h0M247.6 131.4h0M287.6 138.1h0M267.3 111.8h0M153.1 229.7h0M193.1 236.5h0M233.1 243.2h0M273.0 250.0h0M313.0 256.8h0M352.9 263.5h0M392.9 270.3h0M172.8 210.1h0M212.8 216.9h0M252.7 223.6h0M292.7 230.4h0M332.6 237.2h0M372.6 243.9h0M192.5 190.5h0M232.4 197.3h0M272.4 204.1h0M312.3 210.8h0M352.3 217.6h0M212.1 171.0h0M252.1 177.7h0M292.1 184.5h0M332.0 191.2h0M231.8 151.4h0M271.8 158.1h0M311.7 164.9h0M251.5 131.8h0M291.4 138.6h0M271.1 112.2h0M176.7 210.5h0M216.6 217.3h0M256.6 224.1h0M296.5 230.8h0M336.5 237.6h0M376.4 244.3h0M196.3 190.9h0M236.3 197.7h0M276.2 204.5h0M316.2 211.2h0M356.2 218.0h0M216.0 171.4h0M256.0 178.1h0M295.9 184.9h0M335.9 191.7h0M235.7 151.8h0M275.6 158.5h0M315.6 165.3h0M255.3 132.2h0M295.3 139.0h0M275.0 112.6h0M200.2 191.4h0M240.2 198.1h0M280.1 204.9h0M320.1 211.6h0M360.0 218.4h0M219.9 171.8h0M259.8 178.5h0M299.8 185.3h0M339.7 192.1h0M239.5 152.2h0M279.5 159.0h0M319.4 165.7h0M259.2 132.6h0M299.2 139.4h0M278.9 113.0h0M223.7 172.2h0M263.7 179.0h0M303.6 185.7h0M343.6 192.5h0M243.4 152.6h0M283.3 159.4h0M323.3 166.1h0M263.1 133.0h0M303.0 139.8h0M282.7 113.4h0M247.3 153.0h0M287.2 159.8h0M327.2 166.5h0M266.9 133.4h0M306.9 140.2h0M286.6 113.9h0M270.8 133.8h0M310.7 140.6h0M290.4 114.3h0M294.3 114.7h0M135.6 241.7h0M175.6 248.4h0M215.5 255.2h0M255.5 262.0h0M295.4 268.7h0M335.4 275.5h0M375.3 282.2h0M155.3 222.1h0M195.2 228.8h0M235.2 235.6h0M275.1 242.4h0M315.1 249.1h0M355.1 255.9h0M174.9 202.5h0M214.9 209.3h0M254.9 216.0h0M294.8 222.8h0M334.8 229.6h0M194.6 182.9h0M234.6 189.7h0M274.5 196.4h0M314.5 203.2h0M214.3 163.3h0M254.2 170.1h0M294.2 176.9h0M233.9 143.8h0M273.9 150.5h0M253.6 124.2h0M159.1 222.5h0M199.1 229.3h0M239.1 236.0h0M279.0 242.8h0M319.0 249.6h0M358.9 256.3h0M178.8 202.9h0M218.8 209.7h0M258.7 216.4h0M298.7 223.2h0M338.6 230.0h0M198.5 183.3h0M238.4 190.1h0M278.4 196.9h0M318.3 203.6h0M218.1 163.8h0M258.1 170.5h0M298.1 177.3h0M237.8 144.2h0M277.8 150.9h0M257.5 124.6h0M182.7 203.3h0M222.6 210.1h0M262.6 216.9h0M302.5 223.6h0M342.5 230.4h0M202.3 183.7h0M242.3 190.5h0M282.2 197.3h0M322.2 204.0h0M222.0 164.2h0M262.0 170.9h0M301.9 177.7h0M241.7 144.6h0M281.6 151.3h0M261.3 125.0h0M206.2 184.2h0M246.2 190.9h0M286.1 197.7h0M326.1 204.4h0M225.9 164.6h0M265.8 171.3h0M305.8 178.1h0M245.5 145.0h0M285.5 151.8h0M265.2 125.4h0M229.7 165.0h0M269.7 171.8h0M309.6 178.5h0M249.4 145.4h0M289.3 152.2h0M269.1 125.8h0M253.3 145.8h0M293.2 152.6h0M272.9 126.2h0M276.8 126.6h0M141.6 234.5h0M181.6 241.2h0M221.5 248.0h0M261.5 254.8h0M301.4 261.5h0M341.4 268.3h0M161.3 214.9h0M201.2 221.6h0M241.2 228.4h0M281.1 235.2h0M321.1 241.9h0M180.9 195.3h0M220.9 202.1h0M260.9 208.8h0M300.8 215.6h0M200.6 175.7h0M240.6 182.5h0M280.5 189.2h0M220.3 156.1h0M260.2 162.9h0M239.9 136.6h0M165.1 215.3h0M205.1 222.1h0M245.1 228.8h0M285.0 235.6h0M325.0 242.4h0M184.8 195.7h0M224.8 202.5h0M264.7 209.2h0M304.7 216.0h0M204.5 176.1h0M244.4 182.9h0M284.4 189.7h0M224.1 156.6h0M264.1 163.3h0M243.8 137.0h0M188.7 196.1h0M228.6 202.9h0M268.6 209.7h0M308.5 216.4h0M208.3 176.5h0M248.3 183.3h0M288.2 190.1h0M228.0 157.0h0M268.0 163.7h0M247.7 137.4h0M212.2 177.0h0M252.2 183.7h0M292.1 190.5h0M231.9 157.4h0M271.8 164.1h0M251.5 137.8h0M235.7 157.8h0M275.7 164.6h0M255.4 138.2h0M259.3 138.6h0M147.6 227.3h0M187.6 234.0h0M227.5 240.8h0M267.5 247.6h0M307.4 254.3h0M167.3 207.7h0M207.2 214.4h0M247.2 221.2h0M287.1 228.0h0M186.9 188.1h0M226.9 194.9h0M266.9 201.6h0M206.6 168.5h0M246.6 175.3h0M226.3 148.9h0M171.1 208.1h0M211.1 214.9h0M251.1 221.6h0M291.0 228.4h0M190.8 188.5h0M230.8 195.3h0M270.7 202.0h0M210.5 168.9h0M250.4 175.7h0M230.1 149.4h0M194.7 188.9h0M234.6 195.7h0M274.6 202.5h0M214.3 169.3h0M254.3 176.1h0M234.0 149.8h0M218.2 169.8h0M258.2 176.5h0M237.9 150.2h0M241.7 150.6h0M153.6 220.1h0M193.6 226.8h0M233.5 233.6h0M273.5 240.4h0M173.3 200.5h0M213.2 207.2h0M253.2 214.0h0M192.9 180.9h0M232.9 187.7h0M212.6 161.3h0M177.1 200.9h0M217.1 207.7h0M257.1 214.4h0M196.8 181.3h0M236.8 188.1h0M216.5 161.7h0M200.7 181.7h0M240.6 188.5h0M220.3 162.1h0M224.2 162.6h0M159.6 212.9h0M199.6 219.6h0M239.5 226.4h0M179.3 193.3h0M219.2 200.0h0M198.9 173.7h0M183.1 193.7h0M223.1 200.5h0M202.8 174.1h0M206.7 174.5h0M165.6 205.7h0M205.6 212.4h0M185.3 186.1h0M189.1 186.5h0M171.6 198.5h0M101.2 279.8h0M141.1 286.6h0M181.1 293.3h0M221.0 300.1h0M261.0 306.9h0M300.9 313.6h0M340.9 320.4h0M380.9 327.1h0M420.8 333.9h0M460.8 340.7h0M500.7 347.4h0M540.7 354.2h0M120.8 260.2h0M160.8 267.0h0M200.8 273.7h0M240.7 280.5h0M280.7 287.3h0M320.6 294.0h0M360.6 300.8h0M400.5 307.6h0M440.5 314.3h0M480.4 321.1h0M520.4 327.9h0M140.5 240.6h0M180.5 247.4h0M220.4 254.2h0M260.4 260.9h0M300.3 267.7h0M340.3 274.5h0M380.2 281.2h0M420.2 288.0h0M460.1 294.7h0M500.1 301.5h0M160.2 221.1h0M200.1 227.8h0M240.1 234.6h0M280.0 241.3h0M320.0 248.1h0M359.9 254.9h0M399.9 261.6h0M439.9 268.4h0M479.8 275.2h0M179.8 201.5h0M219.8 208.2h0M259.7 215.0h0M299.7 221.8h0M339.7 228.5h0M379.6 235.3h0M419.6 242.1h0M459.5 248.8h0M199.5 181.9h0M239.5 188.7h0M279.4 195.4h0M319.4 202.2h0M359.3 208.9h0M399.3 215.7h0M439.2 222.5h0M219.2 162.3h0M259.1 169.1h0M299.1 175.8h0M339.0 182.6h0M379.0 189.4h0M418.9 196.1h0M238.8 142.7h0M278.8 149.5h0M318.7 156.3h0M358.7 163.0h0M398.7 169.8h0M258.5 123.1h0M298.5 129.9h0M338.4 136.7h0M378.4 143.4h0M278.2 103.6h0M318.1 110.3h0M358.1 117.1h0M297.8 84.0h0M337.8 90.8h0M317.5 64.4h0M124.7 260.6h0M164.7 267.4h0M204.6 274.2h0M244.6 280.9h0M284.5 287.7h0M324.5 294.4h0M364.4 301.2h0M404.4 308.0h0M444.3 314.7h0M484.3 321.5h0M524.2 328.3h0M144.4 241.0h0M184.3 247.8h0M224.3 254.6h0M264.2 261.3h0M304.2 268.1h0M344.1 274.9h0M384.1 281.6h0M424.0 288.4h0M464.0 295.2h0M504.0 301.9h0M164.0 221.5h0M204.0 228.2h0M243.9 235.0h0M283.9 241.8h0M323.9 248.5h0M363.8 255.3h0M403.8 262.0h0M443.7 268.8h0M483.7 275.6h0M183.7 201.9h0M223.7 208.6h0M263.6 215.4h0M303.6 222.2h0M343.5 228.9h0M383.5 235.7h0M423.4 242.5h0M463.4 249.2h0M203.4 182.3h0M243.3 189.1h0M283.3 195.8h0M323.2 202.6h0M363.2 209.4h0M403.1 216.1h0M443.1 222.9h0M223.0 162.7h0M263.0 169.5h0M302.9 176.2h0M342.9 183.0h0M382.9 189.8h0M422.8 196.5h0M242.7 143.1h0M282.7 149.9h0M322.6 156.7h0M362.6 163.4h0M402.5 170.2h0M262.4 123.6h0M302.3 130.3h0M342.3 137.1h0M382.2 143.9h0M282.0 104.0h0M322.0 110.7h0M361.9 117.5h0M301.7 84.4h0M341.7 91.2h0M321.4 64.8h0M148.2 241.5h0M188.2 248.2h0M228.1 255.0h0M268.1 261.8h0M308.0 268.5h0M348.0 275.3h0M388.0 282.0h0M427.9 288.8h0M467.9 295.6h0M507.8 302.3h0M167.9 221.9h0M207.9 228.6h0M247.8 235.4h0M287.8 242.2h0M327.7 248.9h0M367.7 255.7h0M407.6 262.5h0M447.6 269.2h0M487.5 276.0h0M187.6 202.3h0M227.5 209.1h0M267.5 215.8h0M307.4 222.6h0M347.4 229.4h0M387.3 236.1h0M427.3 242.9h0M467.2 249.6h0M207.2 182.7h0M247.2 189.5h0M287.1 196.2h0M327.1 203.0h0M367.0 209.8h0M407.0 216.5h0M447.0 223.3h0M226.9 163.1h0M266.8 169.9h0M306.8 176.7h0M346.8 183.4h0M386.7 190.2h0M426.7 197.0h0M246.6 143.6h0M286.5 150.3h0M326.5 157.1h0M366.4 163.8h0M406.4 170.6h0M266.2 124.0h0M306.2 130.7h0M346.1 137.5h0M386.1 144.3h0M285.9 104.4h0M325.8 111.2h0M365.8 117.9h0M305.6 84.8h0M345.5 91.6h0M325.2 65.2h0M171.8 222.3h0M211.7 229.1h0M251.7 235.8h0M291.6 242.6h0M331.6 249.3h0M371.5 256.1h0M411.5 262.9h0M451.4 269.6h0M491.4 276.4h0M191.4 202.7h0M231.4 209.5h0M271.3 216.2h0M311.3 223.0h0M351.2 229.8h0M391.2 236.5h0M431.1 243.3h0M471.1 250.1h0M211.1 183.1h0M251.0 189.9h0M291.0 196.7h0M331.0 203.4h0M370.9 210.2h0M410.9 216.9h0M450.8 223.7h0M230.8 163.5h0M270.7 170.3h0M310.7 177.1h0M350.6 183.8h0M390.6 190.6h0M430.5 197.4h0M250.4 144.0h0M290.4 150.7h0M330.3 157.5h0M370.3 164.3h0M410.2 171.0h0M270.1 124.4h0M310.0 131.1h0M350.0 137.9h0M389.9 144.7h0M289.8 104.8h0M329.7 111.6h0M369.7 118.3h0M309.4 85.2h0M349.4 92.0h0M329.1 65.6h0M195.3 203.1h0M235.2 209.9h0M275.2 216.6h0M315.1 223.4h0M355.1 230.2h0M395.1 236.9h0M435.0 243.7h0M475.0 250.5h0M215.0 183.5h0M254.9 190.3h0M294.9 197.1h0M334.8 203.8h0M374.8 210.6h0M414.7 217.4h0M454.7 224.1h0M234.6 164.0h0M274.6 170.7h0M314.5 177.5h0M354.5 184.2h0M394.4 191.0h0M434.4 197.8h0M254.3 144.4h0M294.2 151.1h0M334.2 157.9h0M374.1 164.7h0M414.1 171.4h0M273.9 124.8h0M313.9 131.6h0M353.9 138.3h0M393.8 145.1h0M293.6 105.2h0M333.6 112.0h0M373.5 118.7h0M313.3 85.6h0M353.2 92.4h0M332.9 66.1h0M218.8 184.0h0M258.8 190.7h0M298.7 197.5h0M338.7 204.2h0M378.6 211.0h0M418.6 217.8h0M458.5 224.5h0M238.5 164.4h0M278.4 171.1h0M318.4 177.9h0M358.3 184.7h0M398.3 191.4h0M438.2 198.2h0M258.1 144.8h0M298.1 151.6h0M338.1 158.3h0M378.0 165.1h0M418.0 171.8h0M277.8 125.2h0M317.8 132.0h0M357.7 138.7h0M397.7 145.5h0M297.5 105.6h0M337.4 112.4h0M377.4 119.2h0M317.1 86.0h0M357.1 92.8h0M336.8 66.5h0M242.3 164.8h0M282.3 171.5h0M322.2 178.3h0M362.2 185.1h0M402.2 191.8h0M442.1 198.6h0M262.0 145.2h0M302.0 152.0h0M341.9 158.7h0M381.9 165.5h0M421.8 172.3h0M281.7 125.6h0M321.6 132.4h0M361.6 139.1h0M401.5 145.9h0M301.3 106.0h0M341.3 112.8h0M381.2 119.6h0M321.0 86.5h0M361.0 93.2h0M340.7 66.9h0M265.9 145.6h0M305.8 152.4h0M345.8 159.1h0M385.7 165.9h0M425.7 172.7h0M285.5 126.0h0M325.5 132.8h0M365.4 139.6h0M405.4 146.3h0M305.2 106.5h0M345.2 113.2h0M385.1 120.0h0M324.9 86.9h0M364.8 93.6h0M344.5 67.3h0M289.4 126.4h0M329.3 133.2h0M369.3 140.0h0M409.3 146.7h0M309.1 106.9h0M349.0 113.6h0M389.0 120.4h0M328.7 87.3h0M368.7 94.0h0M348.4 67.7h0M312.9 107.3h0M352.9 114.0h0M392.8 120.8h0M332.6 87.7h0M372.5 94.5h0M352.3 68.1h0M336.4 88.1h0M376.4 94.9h0M356.1 68.5h0M360.0 68.9h0M107.2 272.6h0M147.1 279.4h0M187.1 286.1h0M227.0 292.9h0M267.0 299.7h0M306.9 306.4h0M346.9 313.2h0M386.9 319.9h0M426.8 326.7h0M466.8 333.5h0M506.7 340.2h0M126.8 253.0h0M166.8 259.8h0M206.8 266.5h0M246.7 273.3h0M286.7 280.1h0M326.6 286.8h0M366.6 293.6h0M406.5 300.4h0M446.5 307.1h0M486.4 313.9h0M146.5 233.4h0M186.5 240.2h0M226.4 247.0h0M266.4 253.7h0M306.3 260.5h0M346.3 267.3h0M386.2 274.0h0M426.2 280.8h0M466.1 287.5h0M166.2 213.9h0M206.1 220.6h0M246.1 227.4h0M286.0 234.1h0M326.0 240.9h0M365.9 247.7h0M405.9 254.4h0M445.9 261.2h0M185.8 194.3h0M225.8 201.0h0M265.7 207.8h0M305.7 214.6h0M345.7 221.3h0M385.6 228.1h0M425.6 234.9h0M205.5 174.7h0M245.5 181.5h0M285.4 188.2h0M325.4 195.0h0M365.3 201.7h0M405.3 208.5h0M225.2 155.1h0M265.1 161.9h0M305.1 168.6h0M345.0 175.4h0M385.0 182.2h0M244.8 135.5h0M284.8 142.3h0M324.7 149.1h0M364.7 155.8h0M264.5 115.9h0M304.5 122.7h0M344.4 129.5h0M284.2 96.4h0M324.1 103.1h0M303.8 76.8h0M130.7 253.4h0M170.7 260.2h0M210.6 267.0h0M250.6 273.7h0M290.5 280.5h0M330.5 287.2h0M370.4 294.0h0M410.4 300.8h0M450.3 307.5h0M490.3 314.3h0M150.4 233.8h0M190.3 240.6h0M230.3 247.4h0M270.2 254.1h0M310.2 260.9h0M350.1 267.7h0M390.1 274.4h0M430.0 281.2h0M470.0 288.0h0M170.0 214.3h0M210.0 221.0h0M249.9 227.8h0M289.9 234.6h0M329.9 241.3h0M369.8 248.1h0M409.8 254.8h0M449.7 261.6h0M189.7 194.7h0M229.7 201.4h0M269.6 208.2h0M309.6 215.0h0M349.5 221.7h0M389.5 228.5h0M429.4 235.3h0M209.4 175.1h0M249.3 181.9h0M289.3 188.6h0M329.2 195.4h0M369.2 202.2h0M409.1 208.9h0M229.0 155.5h0M269.0 162.3h0M308.9 169.1h0M348.9 175.8h0M388.9 182.6h0M248.7 135.9h0M288.7 142.7h0M328.6 149.5h0M368.6 156.2h0M268.4 116.4h0M308.3 123.1h0M348.3 129.9h0M288.0 96.8h0M328.0 103.5h0M307.7 77.2h0M154.2 234.3h0M194.2 241.0h0M234.1 247.8h0M274.1 254.6h0M314.0 261.3h0M354.0 268.1h0M394.0 274.8h0M433.9 281.6h0M473.9 288.4h0M173.9 214.7h0M213.9 221.4h0M253.8 228.2h0M293.8 235.0h0M333.7 241.7h0M373.7 248.5h0M413.6 255.3h0M453.6 262.0h0M193.6 195.1h0M233.5 201.9h0M273.5 208.6h0M313.4 215.4h0M353.4 222.2h0M393.3 228.9h0M433.3 235.7h0M213.2 175.5h0M253.2 182.3h0M293.1 189.0h0M333.1 195.8h0M373.0 202.6h0M413.0 209.3h0M232.9 155.9h0M272.8 162.7h0M312.8 169.5h0M352.8 176.2h0M392.7 183.0h0M252.6 136.4h0M292.5 143.1h0M332.5 149.9h0M372.4 156.6h0M272.2 116.8h0M312.2 123.5h0M352.1 130.3h0M291.9 97.2h0M331.8 104.0h0M311.6 77.6h0M177.8 215.1h0M217.7 221.9h0M257.7 228.6h0M297.6 235.4h0M337.6 242.1h0M377.5 248.9h0M417.5 255.7h0M457.4 262.4h0M197.4 195.5h0M237.4 202.3h0M277.3 209.0h0M317.3 215.8h0M357.2 222.6h0M397.2 229.3h0M437.1 236.1h0M217.1 175.9h0M257.0 182.7h0M297.0 189.5h0M337.0 196.2h0M376.9 203.0h0M416.9 209.7h0M236.8 156.3h0M276.7 163.1h0M316.7 169.9h0M356.6 176.6h0M396.6 183.4h0M256.4 136.8h0M296.4 143.5h0M336.3 150.3h0M376.3 157.1h0M276.1 117.2h0M316.0 123.9h0M356.0 130.7h0M295.8 97.6h0M335.7 104.4h0M315.4 78.0h0M201.3 195.9h0M241.2 202.7h0M281.2 209.4h0M321.1 216.2h0M361.1 223.0h0M401.1 229.7h0M441.0 236.5h0M221.0 176.3h0M260.9 183.1h0M300.9 189.9h0M340.8 196.6h0M380.8 203.4h0M420.7 210.2h0M240.6 156.8h0M280.6 163.5h0M320.5 170.3h0M360.5 177.1h0M400.4 183.8h0M260.3 137.2h0M300.2 143.9h0M340.2 150.7h0M380.1 157.5h0M279.9 117.6h0M319.9 124.4h0M359.9 131.1h0M299.6 98.0h0M339.6 104.8h0M319.3 78.4h0M224.8 176.8h0M264.8 183.5h0M304.7 190.3h0M344.7 197.0h0M384.6 203.8h0M424.6 210.6h0M244.5 157.2h0M284.4 163.9h0M324.4 170.7h0M364.3 177.5h0M404.3 184.2h0M264.1 137.6h0M304.1 144.4h0M344.1 151.1h0M384.0 157.9h0M283.8 118.0h0M323.8 124.8h0M363.7 131.5h0M303.5 98.4h0M343.4 105.2h0M323.1 78.8h0M248.3 157.6h0M288.3 164.3h0M328.2 171.1h0M368.2 177.9h0M408.2 184.6h0M268.0 138.0h0M308.0 144.8h0M347.9 151.5h0M387.9 158.3h0M287.7 118.4h0M327.6 125.2h0M367.6 131.9h0M307.3 98.8h0M347.3 105.6h0M327.0 79.3h0M271.9 138.4h0M311.8 145.2h0M351.8 151.9h0M391.7 158.7h0M291.5 118.8h0M331.5 125.6h0M371.4 132.4h0M311.2 99.3h0M351.2 106.0h0M330.9 79.7h0M295.4 119.2h0M335.3 126.0h0M375.3 132.8h0M315.1 99.7h0M355.0 106.4h0M334.7 80.1h0M318.9 100.1h0M358.9 106.8h0M338.6 80.5h0M342.4 80.9h0M113.2 265.4h0M153.1 272.2h0M193.1 278.9h0M233.0 285.7h0M273.0 292.5h0M312.9 299.2h0M352.9 306.0h0M392.9 312.7h0M432.8 319.5h0M472.8 326.3h0M132.8 245.8h0M172.8 252.6h0M212.8 259.3h0M252.7 266.1h0M292.7 272.9h0M332.6 279.6h0M372.6 286.4h0M412.5 293.2h0M452.5 299.9h0M152.5 226.2h0M192.5 233.0h0M232.4 239.8h0M272.4 246.5h0M312.3 253.3h0M352.3 260.1h0M392.2 266.8h0M432.2 273.6h0M172.2 206.7h0M212.1 213.4h0M252.1 220.2h0M292.0 226.9h0M332.0 233.7h0M371.9 240.5h0M411.9 247.2h0M191.8 187.1h0M231.8 193.8h0M271.7 200.6h0M311.7 207.4h0M351.7 214.1h0M391.6 220.9h0M211.5 167.5h0M251.5 174.3h0M291.4 181.0h0M331.4 187.8h0M371.3 194.5h0M231.2 147.9h0M271.1 154.7h0M311.1 161.4h0M351.0 168.2h0M250.8 128.3h0M290.8 135.1h0M330.7 141.9h0M270.5 108.7h0M310.5 115.5h0M290.2 89.2h0M136.7 246.2h0M176.7 253.0h0M216.6 259.8h0M256.6 266.5h0M296.5 273.3h0M336.5 280.0h0M376.4 286.8h0M416.4 293.6h0M456.3 300.3h0M156.4 226.6h0M196.3 233.4h0M236.3 240.2h0M276.2 246.9h0M316.2 253.7h0M356.1 260.5h0M396.1 267.2h0M436.0 274.0h0M176.0 207.1h0M216.0 213.8h0M255.9 220.6h0M295.9 227.4h0M335.9 234.1h0M375.8 240.9h0M415.8 247.6h0M195.7 187.5h0M235.7 194.2h0M275.6 201.0h0M315.6 207.8h0M355.5 214.5h0M395.5 221.3h0M215.4 167.9h0M255.3 174.7h0M295.3 181.4h0M335.2 188.2h0M375.2 195.0h0M235.0 148.3h0M275.0 155.1h0M314.9 161.8h0M354.9 168.6h0M254.7 128.7h0M294.7 135.5h0M334.6 142.3h0M274.4 109.2h0M314.3 115.9h0M294.0 89.6h0M160.2 227.1h0M200.2 233.8h0M240.1 240.6h0M280.1 247.3h0M320.0 254.1h0M360.0 260.9h0M400.0 267.6h0M439.9 274.4h0M179.9 207.5h0M219.9 214.2h0M259.8 221.0h0M299.8 227.8h0M339.7 234.5h0M379.7 241.3h0M419.6 248.1h0M199.6 187.9h0M239.5 194.7h0M279.5 201.4h0M319.4 208.2h0M359.4 215.0h0M399.3 221.7h0M219.2 168.3h0M259.2 175.1h0M299.1 181.8h0M339.1 188.6h0M379.0 195.4h0M238.9 148.7h0M278.8 155.5h0M318.8 162.3h0M358.8 169.0h0M258.6 129.2h0M298.5 135.9h0M338.5 142.7h0M278.2 109.6h0M318.2 116.3h0M297.9 90.0h0M183.8 207.9h0M223.7 214.7h0M263.7 221.4h0M303.6 228.2h0M343.6 234.9h0M383.5 241.7h0M423.5 248.5h0M203.4 188.3h0M243.4 195.1h0M283.3 201.8h0M323.3 208.6h0M363.2 215.4h0M403.2 222.1h0M223.1 168.7h0M263.0 175.5h0M303.0 182.3h0M343.0 189.0h0M382.9 195.8h0M242.8 149.1h0M282.7 155.9h0M322.7 162.7h0M362.6 169.4h0M262.4 129.6h0M302.4 136.3h0M342.3 143.1h0M282.1 110.0h0M322.0 116.7h0M301.8 90.4h0M207.3 188.7h0M247.2 195.5h0M287.2 202.2h0M327.1 209.0h0M367.1 215.8h0M407.1 222.5h0M227.0 169.1h0M266.9 175.9h0M306.9 182.7h0M346.8 189.4h0M386.8 196.2h0M246.6 149.6h0M286.6 156.3h0M326.5 163.1h0M366.5 169.9h0M266.3 130.0h0M306.2 136.7h0M346.2 143.5h0M285.9 110.4h0M325.9 117.2h0M305.6 90.8h0M230.8 169.6h0M270.8 176.3h0M310.7 183.1h0M350.7 189.8h0M390.6 196.6h0M250.5 150.0h0M290.4 156.7h0M330.4 163.5h0M370.3 170.3h0M270.1 130.4h0M310.1 137.2h0M350.1 143.9h0M289.8 110.8h0M329.8 117.6h0M309.5 91.2h0M254.3 150.4h0M294.3 157.1h0M334.2 163.9h0M374.2 170.7h0M274.0 130.8h0M314.0 137.6h0M353.9 144.3h0M293.7 111.2h0M333.6 118.0h0M313.3 91.6h0M277.9 131.2h0M317.8 138.0h0M357.8 144.7h0M297.5 111.6h0M337.5 118.4h0M317.2 92.1h0M301.4 112.0h0M341.3 118.8h0M321.1 92.5h0M324.9 92.9h0M119.2 258.2h0M159.1 265.0h0M199.1 271.7h0M239.0 278.5h0M279.0 285.3h0M318.9 292.0h0M358.9 298.8h0M398.9 305.5h0M438.8 312.3h0M138.8 238.6h0M178.8 245.4h0M218.8 252.1h0M258.7 258.9h0M298.7 265.7h0M338.6 272.4h0M378.6 279.2h0M418.5 286.0h0M158.5 219.0h0M198.5 225.8h0M238.4 232.6h0M278.4 239.3h0M318.3 246.1h0M358.3 252.9h0M398.2 259.6h0M178.2 199.5h0M218.1 206.2h0M258.1 213.0h0M298.0 219.7h0M338.0 226.5h0M377.9 233.3h0M197.8 179.9h0M237.8 186.6h0M277.7 193.4h0M317.7 200.2h0M357.7 206.9h0M217.5 160.3h0M257.5 167.1h0M297.4 173.8h0M337.4 180.6h0M237.2 140.7h0M277.1 147.5h0M317.1 154.2h0M256.8 121.1h0M296.8 127.9h0M276.5 101.5h0M142.7 239.0h0M182.7 245.8h0M222.6 252.6h0M262.6 259.3h0M302.5 266.1h0M342.5 272.8h0M382.4 279.6h0M422.4 286.4h0M162.4 219.4h0M202.3 226.2h0M242.3 233.0h0M282.2 239.7h0M322.2 246.5h0M362.1 253.3h0M402.1 260.0h0M182.0 199.9h0M222.0 206.6h0M261.9 213.4h0M301.9 220.2h0M341.9 226.9h0M381.8 233.7h0M201.7 180.3h0M241.7 187.0h0M281.6 193.8h0M321.6 200.6h0M361.5 207.3h0M221.4 160.7h0M261.3 167.5h0M301.3 174.2h0M341.2 181.0h0M241.0 141.1h0M281.0 147.9h0M320.9 154.7h0M260.7 121.5h0M300.7 128.3h0M280.4 102.0h0M166.2 219.9h0M206.2 226.6h0M246.1 233.4h0M286.1 240.2h0M326.0 246.9h0M366.0 253.7h0M406.0 260.4h0M185.9 200.3h0M225.9 207.0h0M265.8 213.8h0M305.8 220.6h0M345.7 227.3h0M385.7 234.1h0M205.6 180.7h0M245.5 187.5h0M285.5 194.2h0M325.4 201.0h0M365.4 207.8h0M225.2 161.1h0M265.2 167.9h0M305.1 174.6h0M345.1 181.4h0M244.9 141.5h0M284.8 148.3h0M324.8 155.1h0M264.6 122.0h0M304.5 128.7h0M284.2 102.4h0M189.8 200.7h0M229.7 207.5h0M269.7 214.2h0M309.6 221.0h0M349.6 227.7h0M389.5 234.5h0M209.4 181.1h0M249.4 187.9h0M289.3 194.6h0M329.3 201.4h0M369.2 208.2h0M229.1 161.5h0M269.0 168.3h0M309.0 175.1h0M349.0 181.8h0M248.8 141.9h0M288.7 148.7h0M328.7 155.5h0M268.4 122.4h0M308.4 129.1h0M288.1 102.8h0M213.3 181.5h0M253.2 188.3h0M293.2 195.0h0M333.1 201.8h0M373.1 208.6h0M233.0 161.9h0M272.9 168.7h0M312.9 175.5h0M352.8 182.2h0M252.6 142.4h0M292.6 149.1h0M332.5 155.9h0M272.3 122.8h0M312.2 129.5h0M291.9 103.2h0M236.8 162.4h0M276.8 169.1h0M316.7 175.9h0M356.7 182.6h0M256.5 142.8h0M296.4 149.5h0M336.4 156.3h0M276.1 123.2h0M316.1 130.0h0M295.8 103.6h0M260.3 143.2h0M300.3 149.9h0M340.2 156.7h0M280.0 123.6h0M320.0 130.4h0M299.7 104.0h0M283.9 124.0h0M323.8 130.8h0M303.5 104.4h0M307.4 104.8h0M125.2 251.0h0M165.1 257.8h0M205.1 264.5h0M245.0 271.3h0M285.0 278.1h0M324.9 284.8h0M364.9 291.6h0M404.9 298.3h0M144.8 231.4h0M184.8 238.2h0M224.8 244.9h0M264.7 251.7h0M304.7 258.5h0M344.6 265.2h0M384.6 272.0h0M164.5 211.8h0M204.5 218.6h0M244.4 225.4h0M284.4 232.1h0M324.3 238.9h0M364.3 245.7h0M184.2 192.3h0M224.1 199.0h0M264.1 205.8h0M304.0 212.5h0M344.0 219.3h0M203.8 172.7h0M243.8 179.4h0M283.7 186.2h0M323.7 193.0h0M223.5 153.1h0M263.5 159.9h0M303.4 166.6h0M243.2 133.5h0M283.1 140.3h0M262.8 113.9h0M148.7 231.8h0M188.7 238.6h0M228.6 245.4h0M268.6 252.1h0M308.5 258.9h0M348.5 265.6h0M388.4 272.4h0M168.4 212.2h0M208.3 219.0h0M248.3 225.8h0M288.2 232.5h0M328.2 239.3h0M368.1 246.1h0M188.0 192.7h0M228.0 199.4h0M267.9 206.2h0M307.9 213.0h0M347.9 219.7h0M207.7 173.1h0M247.7 179.8h0M287.6 186.6h0M327.6 193.4h0M227.4 153.5h0M267.3 160.3h0M307.3 167.0h0M247.0 133.9h0M287.0 140.7h0M266.7 114.3h0M172.2 212.7h0M212.2 219.4h0M252.1 226.2h0M292.1 232.9h0M332.0 239.7h0M372.0 246.5h0M191.9 193.1h0M231.9 199.8h0M271.8 206.6h0M311.8 213.4h0M351.7 220.1h0M211.6 173.5h0M251.5 180.3h0M291.5 187.0h0M331.4 193.8h0M231.2 153.9h0M271.2 160.7h0M311.1 167.4h0M250.9 134.3h0M290.8 141.1h0M270.6 114.8h0M195.8 193.5h0M235.7 200.3h0M275.7 207.0h0M315.6 213.8h0M355.6 220.5h0M215.4 173.9h0M255.4 180.7h0M295.3 187.4h0M335.3 194.2h0M235.1 154.3h0M275.0 161.1h0M315.0 167.9h0M254.8 134.7h0M294.7 141.5h0M274.4 115.2h0M219.3 174.3h0M259.2 181.1h0M299.2 187.8h0M339.1 194.6h0M239.0 154.7h0M278.9 161.5h0M318.9 168.3h0M258.6 135.2h0M298.6 141.9h0M278.3 115.6h0M242.8 155.2h0M282.8 161.9h0M322.7 168.7h0M262.5 135.6h0M302.4 142.3h0M282.1 116.0h0M266.3 136.0h0M306.3 142.7h0M286.0 116.4h0M289.9 116.8h0M131.2 243.8h0M171.1 250.6h0M211.1 257.3h0M251.0 264.1h0M291.0 270.9h0M330.9 277.6h0M370.9 284.4h0M150.8 224.2h0M190.8 231.0h0M230.8 237.7h0M270.7 244.5h0M310.7 251.3h0M350.6 258.0h0M170.5 204.6h0M210.5 211.4h0M250.4 218.2h0M290.4 224.9h0M330.3 231.7h0M190.2 185.1h0M230.1 191.8h0M270.1 198.6h0M310.0 205.3h0M209.8 165.5h0M249.8 172.2h0M289.7 179.0h0M229.5 145.9h0M269.5 152.7h0M249.2 126.3h0M154.7 224.6h0M194.7 231.4h0M234.6 238.2h0M274.6 244.9h0M314.5 251.7h0M354.5 258.4h0M174.4 205.0h0M214.3 211.8h0M254.3 218.6h0M294.2 225.3h0M334.2 232.1h0M194.0 185.5h0M234.0 192.2h0M273.9 199.0h0M313.9 205.8h0M213.7 165.9h0M253.7 172.6h0M293.6 179.4h0M233.4 146.3h0M273.3 153.1h0M253.0 126.7h0M178.2 205.5h0M218.2 212.2h0M258.1 219.0h0M298.1 225.8h0M338.0 232.5h0M197.9 185.9h0M237.9 192.6h0M277.8 199.4h0M317.8 206.2h0M217.6 166.3h0M257.5 173.1h0M297.5 179.8h0M237.2 146.7h0M277.2 153.5h0M256.9 127.1h0M201.8 186.3h0M241.7 193.1h0M281.7 199.8h0M321.6 206.6h0M221.4 166.7h0M261.4 173.5h0M301.3 180.2h0M241.1 147.1h0M281.0 153.9h0M260.8 127.5h0M225.3 167.1h0M265.2 173.9h0M305.2 180.6h0M245.0 147.5h0M284.9 154.3h0M264.6 128.0h0M248.8 148.0h0M288.8 154.7h0M268.5 128.4h0M272.3 128.8h0M137.2 236.6h0M177.1 243.4h0M217.1 250.1h0M257.0 256.9h0M297.0 263.7h0M336.9 270.4h0M156.8 217.0h0M196.8 223.8h0M236.8 230.5h0M276.7 237.3h0M316.7 244.1h0M176.5 197.4h0M216.5 204.2h0M256.4 211.0h0M296.4 217.7h0M196.2 177.9h0M236.1 184.6h0M276.1 191.4h0M215.8 158.3h0M255.8 165.0h0M235.5 138.7h0M160.7 217.4h0M200.7 224.2h0M240.6 231.0h0M280.6 237.7h0M320.5 244.5h0M180.4 197.8h0M220.3 204.6h0M260.3 211.4h0M300.2 218.1h0M200.0 178.3h0M240.0 185.0h0M279.9 191.8h0M219.7 158.7h0M259.7 165.4h0M239.4 139.1h0M184.2 198.3h0M224.2 205.0h0M264.1 211.8h0M304.1 218.6h0M203.9 178.7h0M243.9 185.4h0M283.8 192.2h0M223.6 159.1h0M263.5 165.9h0M243.2 139.5h0M207.8 179.1h0M247.7 185.9h0M287.7 192.6h0M227.4 159.5h0M267.4 166.3h0M247.1 139.9h0M231.3 159.9h0M271.2 166.7h0M251.0 140.3h0M254.8 140.8h0M143.2 229.4h0M183.1 236.2h0M223.1 242.9h0M263.0 249.7h0M303.0 256.5h0M162.8 209.8h0M202.8 216.6h0M242.8 223.3h0M282.7 230.1h0M182.5 190.2h0M222.5 197.0h0M262.4 203.8h0M202.2 170.7h0M242.1 177.4h0M221.8 151.1h0M166.7 210.2h0M206.7 217.0h0M246.6 223.8h0M286.6 230.5h0M186.4 190.6h0M226.3 197.4h0M266.3 204.2h0M206.0 171.1h0M246.0 177.8h0M225.7 151.5h0M190.2 191.1h0M230.2 197.8h0M270.1 204.6h0M209.9 171.5h0M249.9 178.2h0M229.6 151.9h0M213.8 171.9h0M253.7 178.7h0M233.4 152.3h0M237.3 152.7h0M149.2 222.2h0M189.1 229.0h0M229.1 235.7h0M269.0 242.5h0M168.8 202.6h0M208.8 209.4h0M248.8 216.1h0M188.5 183.0h0M228.5 189.8h0M208.2 163.5h0M172.7 203.0h0M212.7 209.8h0M252.6 216.6h0M192.4 183.4h0M232.3 190.2h0M212.0 163.9h0M196.2 183.9h0M236.2 190.6h0M215.9 164.3h0M219.8 164.7h0M155.2 215.0h0M195.1 221.8h0M235.1 228.5h0M174.8 195.4h0M214.8 202.2h0M194.5 175.8h0M178.7 195.8h0M218.7 202.6h0M198.4 176.2h0M202.2 176.7h0M161.2 207.8h0M201.1 214.6h0M180.8 188.2h0M184.7 188.6h0M167.2 200.6h0M102.7 274.7h0M142.7 281.5h0M182.6 288.3h0M222.6 295.0h0M262.6 301.8h0M302.5 308.5h0M342.5 315.3h0M382.4 322.1h0M422.4 328.8h0M462.3 335.6h0M502.3 342.4h0M122.4 255.1h0M162.4 261.9h0M202.3 268.7h0M242.3 275.4h0M282.2 282.2h0M322.2 289.0h0M362.1 295.7h0M402.1 302.5h0M442.0 309.3h0M482.0 316.0h0M142.1 235.6h0M182.0 242.3h0M222.0 249.1h0M261.9 255.9h0M301.9 262.6h0M341.8 269.4h0M381.8 276.1h0M421.7 282.9h0M461.7 289.7h0M161.7 216.0h0M201.7 222.7h0M241.6 229.5h0M281.6 236.3h0M321.6 243.0h0M361.5 249.8h0M401.5 256.6h0M441.4 263.3h0M181.4 196.4h0M221.4 203.2h0M261.3 209.9h0M301.3 216.7h0M341.2 223.5h0M381.2 230.2h0M421.1 237.0h0M201.1 176.8h0M241.0 183.6h0M281.0 190.4h0M320.9 197.1h0M360.9 203.9h0M400.8 210.6h0M220.7 157.2h0M260.7 164.0h0M300.6 170.8h0M340.6 177.5h0M380.5 184.3h0M240.4 137.7h0M280.4 144.4h0M320.3 151.2h0M360.3 158.0h0M260.1 118.1h0M300.0 124.8h0M340.0 131.6h0M279.7 98.5h0M319.7 105.3h0M299.4 78.9h0M126.3 255.6h0M166.2 262.3h0M206.2 269.1h0M246.1 275.9h0M286.1 282.6h0M326.0 289.4h0M366.0 296.1h0M405.9 302.9h0M445.9 309.7h0M485.8 316.4h0M145.9 236.0h0M185.9 242.7h0M225.8 249.5h0M265.8 256.3h0M305.7 263.0h0M345.7 269.8h0M385.7 276.6h0M425.6 283.3h0M465.6 290.1h0M165.6 216.4h0M205.5 223.2h0M245.5 229.9h0M285.5 236.7h0M325.4 243.5h0M365.4 250.2h0M405.3 257.0h0M445.3 263.7h0M185.3 196.8h0M225.2 203.6h0M265.2 210.3h0M305.1 217.1h0M345.1 223.9h0M385.0 230.6h0M425.0 237.4h0M204.9 177.2h0M244.9 184.0h0M284.8 190.8h0M324.8 197.5h0M364.7 204.3h0M404.7 211.1h0M224.6 157.7h0M264.5 164.4h0M304.5 171.2h0M344.5 177.9h0M384.4 184.7h0M244.3 138.1h0M284.2 144.8h0M324.2 151.6h0M364.1 158.4h0M263.9 118.5h0M303.9 125.3h0M343.8 132.0h0M283.6 98.9h0M323.5 105.7h0M303.3 79.3h0M149.8 236.4h0M189.7 243.2h0M229.7 249.9h0M269.7 256.7h0M309.6 263.4h0M349.6 270.2h0M389.5 277.0h0M429.5 283.7h0M469.4 290.5h0M169.5 216.8h0M209.4 223.6h0M249.4 230.3h0M289.3 237.1h0M329.3 243.9h0M369.2 250.6h0M409.2 257.4h0M449.1 264.2h0M189.1 197.2h0M229.1 204.0h0M269.0 210.8h0M309.0 217.5h0M348.9 224.3h0M388.9 231.0h0M428.8 237.8h0M208.8 177.6h0M248.7 184.4h0M288.7 191.2h0M328.6 197.9h0M368.6 204.7h0M408.6 211.5h0M228.5 158.1h0M268.4 164.8h0M308.4 171.6h0M348.3 178.4h0M388.3 185.1h0M248.1 138.5h0M288.1 145.2h0M328.0 152.0h0M368.0 158.8h0M267.8 118.9h0M307.7 125.7h0M347.7 132.4h0M287.5 99.3h0M327.4 106.1h0M307.1 79.7h0M173.3 217.2h0M213.3 224.0h0M253.2 230.7h0M293.2 237.5h0M333.1 244.3h0M373.1 251.0h0M413.0 257.8h0M453.0 264.6h0M193.0 197.6h0M232.9 204.4h0M272.9 211.2h0M312.8 217.9h0M352.8 224.7h0M392.8 231.5h0M432.7 238.2h0M212.6 178.1h0M252.6 184.8h0M292.6 191.6h0M332.5 198.4h0M372.5 205.1h0M412.4 211.9h0M232.3 158.5h0M272.3 165.2h0M312.2 172.0h0M352.2 178.8h0M392.1 185.5h0M252.0 138.9h0M291.9 145.7h0M331.9 152.4h0M371.8 159.2h0M271.6 119.3h0M311.6 126.1h0M351.6 132.8h0M291.3 99.7h0M331.3 106.5h0M311.0 80.2h0M196.8 198.1h0M236.8 204.8h0M276.8 211.6h0M316.7 218.3h0M356.7 225.1h0M396.6 231.9h0M436.6 238.6h0M216.5 178.5h0M256.5 185.2h0M296.4 192.0h0M336.4 198.8h0M376.3 205.5h0M416.3 212.3h0M236.2 158.9h0M276.1 165.7h0M316.1 172.4h0M356.0 179.2h0M396.0 185.9h0M255.8 139.3h0M295.8 146.1h0M335.8 152.8h0M375.7 159.6h0M275.5 119.7h0M315.5 126.5h0M355.4 133.3h0M295.2 100.1h0M335.1 106.9h0M314.8 80.6h0M220.4 178.9h0M260.3 185.6h0M300.3 192.4h0M340.2 199.2h0M380.2 205.9h0M420.1 212.7h0M240.0 159.3h0M280.0 166.1h0M319.9 172.8h0M359.9 179.6h0M399.9 186.4h0M259.7 139.7h0M299.7 146.5h0M339.6 153.2h0M379.6 160.0h0M279.4 120.1h0M319.3 126.9h0M359.3 133.7h0M299.0 100.6h0M339.0 107.3h0M318.7 81.0h0M243.9 159.7h0M283.9 166.5h0M323.8 173.2h0M363.8 180.0h0M403.7 186.8h0M263.6 140.1h0M303.5 146.9h0M343.5 153.7h0M383.4 160.4h0M283.2 120.6h0M323.2 127.3h0M363.1 134.1h0M302.9 101.0h0M342.9 107.7h0M322.6 81.4h0M267.4 140.5h0M307.4 147.3h0M347.3 154.1h0M387.3 160.8h0M287.1 121.0h0M327.0 127.7h0M367.0 134.5h0M306.8 101.4h0M346.7 108.1h0M326.4 81.8h0M291.0 121.4h0M330.9 128.1h0M370.9 134.9h0M310.6 101.8h0M350.6 108.6h0M330.3 82.2h0M314.5 102.2h0M354.4 109.0h0M334.1 82.6h0M338.0 83.0h0M108.7 267.5h0M148.7 274.3h0M188.6 281.1h0M228.6 287.8h0M268.6 294.6h0M308.5 301.3h0M348.5 308.1h0M388.4 314.9h0M428.4 321.6h0M468.3 328.4h0M128.4 247.9h0M168.4 254.7h0M208.3 261.5h0M248.3 268.2h0M288.2 275.0h0M328.2 281.8h0M368.1 288.5h0M408.1 295.3h0M448.0 302.1h0M148.1 228.4h0M188.0 235.1h0M228.0 241.9h0M267.9 248.7h0M307.9 255.4h0M347.8 262.2h0M387.8 268.9h0M427.7 275.7h0M167.7 208.8h0M207.7 215.5h0M247.6 222.3h0M287.6 229.1h0M327.6 235.8h0M367.5 242.6h0M407.5 249.4h0M187.4 189.2h0M227.4 196.0h0M267.3 202.7h0M307.3 209.5h0M347.2 216.3h0M387.2 223.0h0M207.1 169.6h0M247.0 176.4h0M287.0 183.2h0M326.9 189.9h0M366.9 196.7h0M226.7 150.0h0M266.7 156.8h0M306.6 163.6h0M346.6 170.3h0M246.4 130.5h0M286.4 137.2h0M326.3 144.0h0M266.1 110.9h0M306.0 117.6h0M285.7 91.3h0M132.3 248.4h0M172.2 255.1h0M212.2 261.9h0M252.1 268.7h0M292.1 275.4h0M332.0 282.2h0M372.0 288.9h0M411.9 295.7h0M451.9 302.5h0M151.9 228.8h0M191.9 235.5h0M231.8 242.3h0M271.8 249.1h0M311.7 255.8h0M351.7 262.6h0M391.7 269.4h0M431.6 276.1h0M171.6 209.2h0M211.5 216.0h0M251.5 222.7h0M291.5 229.5h0M331.4 236.3h0M371.4 243.0h0M411.3 249.8h0M191.3 189.6h0M231.2 196.4h0M271.2 203.1h0M311.1 209.9h0M351.1 216.7h0M391.0 223.4h0M210.9 170.0h0M250.9 176.8h0M290.8 183.6h0M330.8 190.3h0M370.7 197.1h0M230.6 150.5h0M270.5 157.2h0M310.5 164.0h0M350.5 170.7h0M250.3 130.9h0M290.2 137.6h0M330.2 144.4h0M269.9 111.3h0M309.9 118.1h0M289.6 91.7h0M155.8 229.2h0M195.7 236.0h0M235.7 242.7h0M275.7 249.5h0M315.6 256.2h0M355.6 263.0h0M395.5 269.8h0M435.5 276.5h0M175.5 209.6h0M215.4 216.4h0M255.4 223.1h0M295.3 229.9h0M335.3 236.7h0M375.2 243.4h0M415.2 250.2h0M195.1 190.0h0M235.1 196.8h0M275.0 203.6h0M315.0 210.3h0M354.9 217.1h0M394.9 223.8h0M214.8 170.4h0M254.7 177.2h0M294.7 184.0h0M334.6 190.7h0M374.6 197.5h0M234.5 150.9h0M274.4 157.6h0M314.4 164.4h0M354.3 171.2h0M254.1 131.3h0M294.1 138.0h0M334.0 144.8h0M273.8 111.7h0M313.7 118.5h0M293.5 92.1h0M179.3 210.0h0M219.3 216.8h0M259.2 223.5h0M299.2 230.3h0M339.1 237.1h0M379.1 243.8h0M419.0 250.6h0M199.0 190.4h0M238.9 197.2h0M278.9 204.0h0M318.8 210.7h0M358.8 217.5h0M398.8 224.3h0M218.6 170.9h0M258.6 177.6h0M298.6 184.4h0M338.5 191.2h0M378.5 197.9h0M238.3 151.3h0M278.3 158.0h0M318.2 164.8h0M358.2 171.6h0M258.0 131.7h0M297.9 138.5h0M337.9 145.2h0M277.6 112.1h0M317.6 118.9h0M297.3 92.5h0M202.8 190.9h0M242.8 197.6h0M282.8 204.4h0M322.7 211.1h0M362.7 217.9h0M402.6 224.7h0M222.5 171.3h0M262.5 178.0h0M302.4 184.8h0M342.4 191.6h0M382.3 198.3h0M242.2 151.7h0M282.1 158.5h0M322.1 165.2h0M362.0 172.0h0M261.8 132.1h0M301.8 138.9h0M341.8 145.6h0M281.5 112.5h0M321.5 119.3h0M301.2 92.9h0M226.4 171.7h0M266.3 178.4h0M306.3 185.2h0M346.2 192.0h0M386.2 198.7h0M246.0 152.1h0M286.0 158.9h0M325.9 165.6h0M365.9 172.4h0M265.7 132.5h0M305.7 139.3h0M345.6 146.0h0M285.4 112.9h0M325.3 119.7h0M305.0 93.4h0M249.9 152.5h0M289.9 159.3h0M329.8 166.0h0M369.8 172.8h0M269.6 132.9h0M309.5 139.7h0M349.5 146.5h0M289.2 113.4h0M329.2 120.1h0M308.9 93.8h0M273.4 133.3h0M313.4 140.1h0M353.3 146.9h0M293.1 113.8h0M333.0 120.5h0M312.8 94.2h0M297.0 114.2h0M336.9 120.9h0M316.6 94.6h0M320.5 95.0h0M114.7 260.3h0M154.7 267.1h0M194.6 273.9h0M234.6 280.6h0M274.6 287.4h0M314.5 294.1h0M354.5 300.9h0M394.4 307.7h0M434.4 314.4h0M134.4 240.7h0M174.4 247.5h0M214.3 254.3h0M254.3 261.0h0M294.2 267.8h0M334.2 274.6h0M374.1 281.3h0M414.1 288.1h0M154.1 221.2h0M194.0 227.9h0M234.0 234.7h0M273.9 241.5h0M313.9 248.2h0M353.8 255.0h0M393.8 261.8h0M173.7 201.6h0M213.7 208.3h0M253.6 215.1h0M293.6 221.9h0M333.6 228.6h0M373.5 235.4h0M193.4 182.0h0M233.4 188.8h0M273.3 195.5h0M313.3 202.3h0M353.2 209.1h0M213.1 162.4h0M253.0 169.2h0M293.0 176.0h0M332.9 182.7h0M232.7 142.8h0M272.7 149.6h0M312.6 156.4h0M252.4 123.3h0M292.4 130.0h0M272.1 103.7h0M138.3 241.2h0M178.2 247.9h0M218.2 254.7h0M258.1 261.5h0M298.1 268.2h0M338.0 275.0h0M378.0 281.7h0M417.9 288.5h0M157.9 221.6h0M197.9 228.3h0M237.8 235.1h0M277.8 241.9h0M317.7 248.6h0M357.7 255.4h0M397.7 262.2h0M177.6 202.0h0M217.5 208.8h0M257.5 215.5h0M297.5 222.3h0M337.4 229.1h0M377.4 235.8h0M197.3 182.4h0M237.2 189.2h0M277.2 195.9h0M317.1 202.7h0M357.1 209.5h0M216.9 162.8h0M256.9 169.6h0M296.8 176.4h0M336.8 183.1h0M236.6 143.3h0M276.5 150.0h0M316.5 156.8h0M256.3 123.7h0M296.2 130.4h0M275.9 104.1h0M161.8 222.0h0M201.7 228.8h0M241.7 235.5h0M281.7 242.3h0M321.6 249.0h0M361.6 255.8h0M401.5 262.6h0M181.5 202.4h0M221.4 209.2h0M261.4 215.9h0M301.3 222.7h0M341.3 229.5h0M381.2 236.2h0M201.1 182.8h0M241.1 189.6h0M281.0 196.4h0M321.0 203.1h0M360.9 209.9h0M220.8 163.2h0M260.7 170.0h0M300.7 176.8h0M340.6 183.5h0M240.5 143.7h0M280.4 150.4h0M320.4 157.2h0M260.1 124.1h0M300.1 130.8h0M279.8 104.5h0M185.3 202.8h0M225.3 209.6h0M265.2 216.3h0M305.2 223.1h0M345.1 229.9h0M385.1 236.6h0M205.0 183.2h0M244.9 190.0h0M284.9 196.8h0M324.8 203.5h0M364.8 210.3h0M224.6 163.7h0M264.6 170.4h0M304.6 177.2h0M344.5 184.0h0M244.3 144.1h0M284.3 150.8h0M324.2 157.6h0M264.0 124.5h0M303.9 131.3h0M283.6 104.9h0M208.8 183.7h0M248.8 190.4h0M288.8 197.2h0M328.7 203.9h0M368.7 210.7h0M228.5 164.1h0M268.5 170.8h0M308.4 177.6h0M348.4 184.4h0M248.2 144.5h0M288.1 151.3h0M328.1 158.0h0M267.8 124.9h0M307.8 131.7h0M287.5 105.3h0M232.4 164.5h0M272.3 171.2h0M312.3 178.0h0M352.2 184.8h0M252.0 144.9h0M292.0 151.7h0M331.9 158.4h0M271.7 125.3h0M311.7 132.1h0M291.4 105.7h0M255.9 145.3h0M295.9 152.1h0M335.8 158.8h0M275.6 125.7h0M315.5 132.5h0M295.2 106.2h0M279.4 126.1h0M319.4 132.9h0M299.1 106.6h0M303.0 107.0h0M120.7 253.1h0M160.7 259.9h0M200.6 266.7h0M240.6 273.4h0M280.6 280.2h0M320.5 286.9h0M360.5 293.7h0M400.4 300.5h0M140.4 233.5h0M180.4 240.3h0M220.3 247.1h0M260.3 253.8h0M300.2 260.6h0M340.2 267.4h0M380.1 274.1h0M160.1 214.0h0M200.0 220.7h0M240.0 227.5h0M279.9 234.3h0M319.9 241.0h0M359.8 247.8h0M179.7 194.4h0M219.7 201.1h0M259.6 207.9h0M299.6 214.7h0M339.6 221.4h0M199.4 174.8h0M239.4 181.6h0M279.3 188.3h0M319.3 195.1h0M219.1 155.2h0M259.0 162.0h0M299.0 168.8h0M238.7 135.6h0M278.7 142.4h0M258.4 116.1h0M144.3 234.0h0M184.2 240.7h0M224.2 247.5h0M264.1 254.3h0M304.1 261.0h0M344.0 267.8h0M384.0 274.5h0M163.9 214.4h0M203.9 221.1h0M243.8 227.9h0M283.8 234.7h0M323.7 241.4h0M363.7 248.2h0M183.6 194.8h0M223.5 201.6h0M263.5 208.3h0M303.5 215.1h0M343.4 221.9h0M203.3 175.2h0M243.2 182.0h0M283.2 188.7h0M323.1 195.5h0M222.9 155.6h0M262.9 162.4h0M302.8 169.2h0M242.6 136.1h0M282.5 142.8h0M262.3 116.5h0M167.8 214.8h0M207.7 221.6h0M247.7 228.3h0M287.7 235.1h0M327.6 241.8h0M367.6 248.6h0M187.5 195.2h0M227.4 202.0h0M267.4 208.7h0M307.3 215.5h0M347.3 222.3h0M207.1 175.6h0M247.1 182.4h0M287.0 189.2h0M327.0 195.9h0M226.8 156.0h0M266.7 162.8h0M306.7 169.6h0M246.5 136.5h0M286.4 143.2h0M266.1 116.9h0M191.3 195.6h0M231.3 202.4h0M271.2 209.1h0M311.2 215.9h0M351.1 222.7h0M211.0 176.0h0M250.9 182.8h0M290.9 189.6h0M330.8 196.3h0M230.6 156.5h0M270.6 163.2h0M310.6 170.0h0M250.3 136.9h0M290.3 143.6h0M270.0 117.3h0M214.8 176.5h0M254.8 183.2h0M294.8 190.0h0M334.7 196.7h0M234.5 156.9h0M274.5 163.6h0M314.4 170.4h0M254.2 137.3h0M294.1 144.1h0M273.8 117.7h0M238.4 157.3h0M278.3 164.0h0M318.3 170.8h0M258.0 137.7h0M298.0 144.5h0M277.7 118.1h0M261.9 138.1h0M301.9 144.9h0M281.6 118.5h0M285.4 118.9h0M126.7 245.9h0M166.7 252.7h0M206.6 259.5h0M246.6 266.2h0M286.6 273.0h0M326.5 279.7h0M366.5 286.5h0M146.4 226.3h0M186.4 233.1h0M226.3 239.9h0M266.3 246.6h0M306.2 253.4h0M346.2 260.2h0M166.1 206.8h0M206.0 213.5h0M246.0 220.3h0M285.9 227.1h0M325.9 233.8h0M185.7 187.2h0M225.7 193.9h0M265.6 200.7h0M305.6 207.5h0M205.4 167.6h0M245.4 174.4h0M285.3 181.1h0M225.1 148.0h0M265.0 154.8h0M244.7 128.4h0M150.3 226.8h0M190.2 233.5h0M230.2 240.3h0M270.1 247.1h0M310.1 253.8h0M350.0 260.6h0M169.9 207.2h0M209.9 213.9h0M249.8 220.7h0M289.8 227.5h0M329.7 234.2h0M189.6 187.6h0M229.5 194.4h0M269.5 201.1h0M309.5 207.9h0M209.3 168.0h0M249.2 174.8h0M289.2 181.5h0M228.9 148.4h0M268.9 155.2h0M248.6 128.9h0M173.8 207.6h0M213.7 214.4h0M253.7 221.1h0M293.7 227.9h0M333.6 234.6h0M193.5 188.0h0M233.4 194.8h0M273.4 201.5h0M313.3 208.3h0M213.1 168.4h0M253.1 175.2h0M293.0 182.0h0M232.8 148.8h0M272.7 155.6h0M252.5 129.3h0M197.3 188.4h0M237.3 195.2h0M277.2 201.9h0M317.2 208.7h0M217.0 168.8h0M256.9 175.6h0M296.9 182.4h0M236.6 149.3h0M276.6 156.0h0M256.3 129.7h0M220.8 169.3h0M260.8 176.0h0M300.8 182.8h0M240.5 149.7h0M280.5 156.4h0M260.2 130.1h0M244.4 150.1h0M284.3 156.8h0M264.0 130.5h0M267.9 130.9h0M132.7 238.7h0M172.7 245.5h0M212.6 252.3h0M252.6 259.0h0M292.6 265.8h0M332.5 272.5h0M152.4 219.1h0M192.4 225.9h0M232.3 232.7h0M272.3 239.4h0M312.2 246.2h0M172.1 199.6h0M212.0 206.3h0M252.0 213.1h0M291.9 219.9h0M191.7 180.0h0M231.7 186.7h0M271.6 193.5h0M211.4 160.4h0M251.4 167.2h0M231.1 140.8h0M156.3 219.6h0M196.2 226.3h0M236.2 233.1h0M276.1 239.9h0M316.1 246.6h0M175.9 200.0h0M215.9 206.7h0M255.8 213.5h0M295.8 220.3h0M195.6 180.4h0M235.5 187.2h0M275.5 193.9h0M215.3 160.8h0M255.2 167.6h0M234.9 141.2h0M179.8 200.4h0M219.7 207.2h0M259.7 213.9h0M299.7 220.7h0M199.5 180.8h0M239.4 187.6h0M279.4 194.3h0M219.1 161.2h0M259.1 168.0h0M238.8 141.6h0M203.3 181.2h0M243.3 188.0h0M283.2 194.7h0M223.0 161.6h0M262.9 168.4h0M242.6 142.1h0M226.8 162.1h0M266.8 168.8h0M246.5 142.5h0M250.4 142.9h0M138.7 231.5h0M178.7 238.3h0M218.6 245.1h0M258.6 251.8h0M298.6 258.6h0M158.4 211.9h0M198.4 218.7h0M238.3 225.5h0M278.3 232.2h0M178.1 192.4h0M218.0 199.1h0M258.0 205.9h0M197.7 172.8h0M237.7 179.5h0M217.4 153.2h0M162.3 212.4h0M202.2 219.1h0M242.2 225.9h0M282.1 232.7h0M181.9 192.8h0M221.9 199.5h0M261.8 206.3h0M201.6 173.2h0M241.5 180.0h0M221.3 153.6h0M185.8 193.2h0M225.7 200.0h0M265.7 206.7h0M205.5 173.6h0M245.4 180.4h0M225.1 154.0h0M209.3 174.0h0M249.3 180.8h0M229.0 154.4h0M232.8 154.9h0M144.7 224.3h0M184.7 231.1h0M224.6 237.9h0M264.6 244.6h0M164.4 204.7h0M204.4 211.5h0M244.3 218.3h0M184.1 185.2h0M224.0 191.9h0M203.7 165.6h0M168.3 205.2h0M208.2 211.9h0M248.2 218.7h0M187.9 185.6h0M227.9 192.3h0M207.6 166.0h0M191.8 186.0h0M231.7 192.8h0M211.5 166.4h0M215.3 166.8h0M150.7 217.1h0M190.7 223.9h0M230.6 230.7h0M170.4 197.5h0M210.4 204.3h0M190.1 178.0h0M174.3 198.0h0M214.2 204.7h0M193.9 178.4h0M197.8 178.8h0M156.7 209.9h0M196.7 216.7h0M176.4 190.3h0M180.3 190.8h0M162.7 202.7h0M104.3 269.7h0M144.2 276.4h0M184.2 283.2h0M224.2 290.0h0M264.1 296.7h0M304.1 303.5h0M344.0 310.2h0M384.0 317.0h0M423.9 323.8h0M463.9 330.5h0M124.0 250.1h0M163.9 256.8h0M203.9 263.6h0M243.8 270.4h0M283.8 277.1h0M323.7 283.9h0M363.7 290.7h0M403.6 297.4h0M443.6 304.2h0M143.6 230.5h0M183.6 237.3h0M223.5 244.0h0M263.5 250.8h0M303.4 257.6h0M343.4 264.3h0M383.4 271.1h0M423.3 277.8h0M163.3 210.9h0M203.2 217.7h0M243.2 224.4h0M283.2 231.2h0M323.1 238.0h0M363.1 244.7h0M403.0 251.5h0M183.0 191.3h0M222.9 198.1h0M262.9 204.9h0M302.8 211.6h0M342.8 218.4h0M382.7 225.2h0M202.6 171.8h0M242.6 178.5h0M282.5 185.3h0M322.5 192.0h0M362.4 198.8h0M222.3 152.2h0M262.2 158.9h0M302.2 165.7h0M342.2 172.5h0M242.0 132.6h0M281.9 139.4h0M321.9 146.1h0M261.6 113.0h0M301.6 119.8h0M281.3 93.4h0M127.8 250.5h0M167.8 257.3h0M207.7 264.0h0M247.7 270.8h0M287.6 277.5h0M327.6 284.3h0M367.5 291.1h0M407.5 297.8h0M447.5 304.6h0M147.5 230.9h0M187.4 237.7h0M227.4 244.4h0M267.4 251.2h0M307.3 258.0h0M347.3 264.7h0M387.2 271.5h0M427.2 278.3h0M167.2 211.3h0M207.1 218.1h0M247.1 224.9h0M287.0 231.6h0M327.0 238.4h0M366.9 245.1h0M406.9 251.9h0M186.8 191.7h0M226.8 198.5h0M266.7 205.3h0M306.7 212.0h0M346.6 218.8h0M386.6 225.6h0M206.5 172.2h0M246.4 178.9h0M286.4 185.7h0M326.3 192.5h0M366.3 199.2h0M226.2 152.6h0M266.1 159.3h0M306.1 166.1h0M346.0 172.9h0M245.8 133.0h0M285.8 139.8h0M325.7 146.5h0M265.5 113.4h0M305.4 120.2h0M285.1 93.8h0M151.3 231.3h0M191.3 238.1h0M231.3 244.8h0M271.2 251.6h0M311.2 258.4h0M351.1 265.1h0M391.1 271.9h0M431.0 278.7h0M171.0 211.7h0M211.0 218.5h0M250.9 225.3h0M290.9 232.0h0M330.8 238.8h0M370.8 245.6h0M410.7 252.3h0M190.7 192.2h0M230.6 198.9h0M270.6 205.7h0M310.5 212.5h0M350.5 219.2h0M390.5 226.0h0M210.3 172.6h0M250.3 179.3h0M290.3 186.1h0M330.2 192.9h0M370.2 199.6h0M230.0 153.0h0M270.0 159.8h0M309.9 166.5h0M349.9 173.3h0M249.7 133.4h0M289.6 140.2h0M329.6 146.9h0M269.3 113.8h0M309.3 120.6h0M289.0 94.3h0M174.9 212.2h0M214.8 218.9h0M254.8 225.7h0M294.7 232.4h0M334.7 239.2h0M374.6 246.0h0M414.6 252.7h0M194.5 192.6h0M234.5 199.3h0M274.4 206.1h0M314.4 212.9h0M354.4 219.6h0M394.3 226.4h0M214.2 173.0h0M254.2 179.8h0M294.1 186.5h0M334.1 193.3h0M374.0 200.0h0M233.9 153.4h0M273.8 160.2h0M313.8 166.9h0M353.7 173.7h0M253.5 133.8h0M293.5 140.6h0M333.4 147.4h0M273.2 114.2h0M313.2 121.0h0M292.9 94.7h0M198.4 193.0h0M238.4 199.7h0M278.3 206.5h0M318.3 213.3h0M358.2 220.0h0M398.2 226.8h0M218.1 173.4h0M258.0 180.2h0M298.0 186.9h0M337.9 193.7h0M377.9 200.5h0M237.7 153.8h0M277.7 160.6h0M317.6 167.3h0M357.6 174.1h0M257.4 134.2h0M297.4 141.0h0M337.3 147.8h0M277.1 114.7h0M317.0 121.4h0M296.7 95.1h0M221.9 173.8h0M261.9 180.6h0M301.8 187.3h0M341.8 194.1h0M381.7 200.9h0M241.6 154.2h0M281.6 161.0h0M321.5 167.8h0M361.5 174.5h0M261.3 134.7h0M301.2 141.4h0M341.2 148.2h0M280.9 115.1h0M320.9 121.8h0M300.6 95.5h0M245.5 154.6h0M285.4 161.4h0M325.4 168.2h0M365.3 174.9h0M265.1 135.1h0M305.1 141.8h0M345.0 148.6h0M284.8 115.5h0M324.7 122.2h0M304.5 95.9h0M269.0 135.5h0M308.9 142.2h0M348.9 149.0h0M288.6 115.9h0M328.6 122.7h0M308.3 96.3h0M292.5 116.3h0M332.5 123.1h0M312.2 96.7h0M316.0 97.1h0M110.3 262.5h0M150.2 269.2h0M190.2 276.0h0M230.2 282.8h0M270.1 289.5h0M310.1 296.3h0M350.0 303.0h0M390.0 309.8h0M429.9 316.6h0M130.0 242.9h0M169.9 249.6h0M209.9 256.4h0M249.8 263.2h0M289.8 269.9h0M329.7 276.7h0M369.7 283.5h0M409.6 290.2h0M149.6 223.3h0M189.6 230.1h0M229.5 236.8h0M269.5 243.6h0M309.4 250.4h0M349.4 257.1h0M389.4 263.9h0M169.3 203.7h0M209.2 210.5h0M249.2 217.2h0M289.2 224.0h0M329.1 230.8h0M369.1 237.5h0M189.0 184.1h0M228.9 190.9h0M268.9 197.7h0M308.8 204.4h0M348.8 211.2h0M208.6 164.6h0M248.6 171.3h0M288.5 178.1h0M328.5 184.8h0M228.3 145.0h0M268.2 151.7h0M308.2 158.5h0M248.0 125.4h0M287.9 132.2h0M267.6 105.8h0M133.8 243.3h0M173.8 250.1h0M213.7 256.8h0M253.7 263.6h0M293.6 270.3h0M333.6 277.1h0M373.5 283.9h0M413.5 290.6h0M153.5 223.7h0M193.4 230.5h0M233.4 237.2h0M273.4 244.0h0M313.3 250.8h0M353.3 257.5h0M393.2 264.3h0M173.2 204.1h0M213.1 210.9h0M253.1 217.7h0M293.0 224.4h0M333.0 231.2h0M372.9 237.9h0M192.8 184.5h0M232.8 191.3h0M272.7 198.1h0M312.7 204.8h0M352.6 211.6h0M212.5 165.0h0M252.4 171.7h0M292.4 178.5h0M332.3 185.3h0M232.2 145.4h0M272.1 152.2h0M312.1 158.9h0M251.8 125.8h0M291.8 132.6h0M271.5 106.2h0M157.3 224.1h0M197.3 230.9h0M237.3 237.7h0M277.2 244.4h0M317.2 251.2h0M357.1 257.9h0M397.1 264.7h0M177.0 204.5h0M217.0 211.3h0M256.9 218.1h0M296.9 224.8h0M336.8 231.6h0M376.8 238.4h0M196.7 185.0h0M236.6 191.7h0M276.6 198.5h0M316.5 205.3h0M356.5 212.0h0M216.3 165.4h0M256.3 172.1h0M296.3 178.9h0M336.2 185.7h0M236.0 145.8h0M276.0 152.6h0M315.9 159.3h0M255.7 126.2h0M295.6 133.0h0M275.3 106.6h0M180.9 205.0h0M220.8 211.7h0M260.8 218.5h0M300.7 225.2h0M340.7 232.0h0M380.6 238.8h0M200.5 185.4h0M240.5 192.1h0M280.4 198.9h0M320.4 205.7h0M360.4 212.4h0M220.2 165.8h0M260.2 172.6h0M300.1 179.3h0M340.1 186.1h0M239.9 146.2h0M279.8 153.0h0M319.8 159.7h0M259.5 126.6h0M299.5 133.4h0M279.2 107.0h0M204.4 185.8h0M244.4 192.5h0M284.3 199.3h0M324.3 206.1h0M364.2 212.8h0M224.1 166.2h0M264.0 173.0h0M304.0 179.7h0M343.9 186.5h0M243.7 146.6h0M283.7 153.4h0M323.6 160.2h0M263.4 127.0h0M303.4 133.8h0M283.1 107.5h0M227.9 166.6h0M267.9 173.4h0M307.8 180.1h0M347.8 186.9h0M247.6 147.0h0M287.6 153.8h0M327.5 160.6h0M267.3 127.5h0M307.2 134.2h0M286.9 107.9h0M251.5 147.4h0M291.4 154.2h0M331.4 161.0h0M271.1 127.9h0M311.1 134.6h0M290.8 108.3h0M275.0 128.3h0M314.9 135.0h0M294.6 108.7h0M298.5 109.1h0M116.3 255.3h0M156.2 262.0h0M196.2 268.8h0M236.2 275.6h0M276.1 282.3h0M316.1 289.1h0M356.0 295.8h0M396.0 302.6h0M136.0 235.7h0M175.9 242.4h0M215.9 249.2h0M255.8 256.0h0M295.8 262.7h0M335.7 269.5h0M375.7 276.3h0M155.6 216.1h0M195.6 222.9h0M235.5 229.6h0M275.5 236.4h0M315.4 243.2h0M355.4 249.9h0M175.3 196.5h0M215.2 203.3h0M255.2 210.0h0M295.2 216.8h0M335.1 223.6h0M195.0 176.9h0M234.9 183.7h0M274.9 190.5h0M314.8 197.2h0M214.6 157.4h0M254.6 164.1h0M294.5 170.9h0M234.3 137.8h0M274.2 144.5h0M254.0 118.2h0M139.8 236.1h0M179.8 242.9h0M219.7 249.6h0M259.7 256.4h0M299.6 263.1h0M339.6 269.9h0M379.5 276.7h0M159.5 216.5h0M199.4 223.3h0M239.4 230.0h0M279.4 236.8h0M319.3 243.6h0M359.3 250.3h0M179.2 196.9h0M219.1 203.7h0M259.1 210.5h0M299.0 217.2h0M339.0 224.0h0M198.8 177.3h0M238.8 184.1h0M278.7 190.9h0M318.7 197.6h0M218.5 157.8h0M258.4 164.5h0M298.4 171.3h0M238.2 138.2h0M278.1 144.9h0M257.8 118.6h0M163.3 216.9h0M203.3 223.7h0M243.3 230.4h0M283.2 237.2h0M323.2 244.0h0M363.1 250.7h0M183.0 197.3h0M223.0 204.1h0M262.9 210.9h0M302.9 217.6h0M342.8 224.4h0M202.7 177.8h0M242.6 184.5h0M282.6 191.3h0M322.5 198.1h0M222.3 158.2h0M262.3 164.9h0M302.3 171.7h0M242.0 138.6h0M282.0 145.4h0M261.7 119.0h0M186.9 197.8h0M226.8 204.5h0M266.8 211.3h0M306.7 218.0h0M346.7 224.8h0M206.5 178.2h0M246.5 184.9h0M286.4 191.7h0M326.4 198.5h0M226.2 158.6h0M266.2 165.4h0M306.1 172.1h0M245.9 139.0h0M285.8 145.8h0M265.5 119.4h0M210.4 178.6h0M250.4 185.3h0M290.3 192.1h0M330.3 198.9h0M230.1 159.0h0M270.0 165.8h0M310.0 172.5h0M249.7 139.4h0M289.7 146.2h0M269.4 119.8h0M233.9 159.4h0M273.9 166.2h0M313.8 172.9h0M253.6 139.8h0M293.6 146.6h0M273.3 120.3h0M257.5 140.2h0M297.4 147.0h0M277.1 120.7h0M281.0 121.1h0M122.3 248.1h0M162.2 254.8h0M202.2 261.6h0M242.2 268.4h0M282.1 275.1h0M322.1 281.9h0M362.0 288.6h0M142.0 228.5h0M181.9 235.2h0M221.9 242.0h0M261.8 248.8h0M301.8 255.5h0M341.7 262.3h0M161.6 208.9h0M201.6 215.7h0M241.5 222.4h0M281.5 229.2h0M321.4 236.0h0M181.3 189.3h0M221.2 196.1h0M261.2 202.8h0M301.2 209.6h0M201.0 169.7h0M240.9 176.5h0M280.9 183.3h0M220.6 150.2h0M260.6 156.9h0M240.3 130.6h0M145.8 228.9h0M185.8 235.7h0M225.7 242.4h0M265.7 249.2h0M305.6 255.9h0M345.6 262.7h0M165.5 209.3h0M205.4 216.1h0M245.4 222.8h0M285.4 229.6h0M325.3 236.4h0M185.2 189.7h0M225.1 196.5h0M265.1 203.3h0M305.0 210.0h0M204.8 170.1h0M244.8 176.9h0M284.7 183.7h0M224.5 150.6h0M264.4 157.3h0M244.2 131.0h0M169.3 209.7h0M209.3 216.5h0M249.3 223.2h0M289.2 230.0h0M329.2 236.8h0M189.0 190.1h0M229.0 196.9h0M268.9 203.7h0M308.9 210.4h0M208.7 170.6h0M248.6 177.3h0M288.6 184.1h0M228.3 151.0h0M268.3 157.7h0M248.0 131.4h0M192.9 190.6h0M232.8 197.3h0M272.8 204.1h0M312.7 210.8h0M212.5 171.0h0M252.5 177.7h0M292.4 184.5h0M232.2 151.4h0M272.2 158.2h0M251.9 131.8h0M216.4 171.4h0M256.4 178.1h0M296.3 184.9h0M236.1 151.8h0M276.0 158.6h0M255.7 132.2h0M239.9 152.2h0M279.9 159.0h0M259.6 132.6h0M263.5 133.0h0M128.3 240.9h0M168.2 247.6h0M208.2 254.4h0M248.2 261.2h0M288.1 267.9h0M328.1 274.7h0M148.0 221.3h0M187.9 228.0h0M227.9 234.8h0M267.8 241.6h0M307.8 248.3h0M167.6 201.7h0M207.6 208.5h0M247.5 215.2h0M287.5 222.0h0M187.3 182.1h0M227.2 188.9h0M267.2 195.6h0M207.0 162.5h0M246.9 169.3h0M226.6 143.0h0M151.8 221.7h0M191.8 228.5h0M231.7 235.2h0M271.7 242.0h0M311.6 248.7h0M171.5 202.1h0M211.4 208.9h0M251.4 215.6h0M291.4 222.4h0M191.2 182.5h0M231.1 189.3h0M271.1 196.1h0M210.8 162.9h0M250.8 169.7h0M230.5 143.4h0M175.3 202.5h0M215.3 209.3h0M255.3 216.1h0M295.2 222.8h0M195.0 182.9h0M235.0 189.7h0M274.9 196.5h0M214.7 163.4h0M254.6 170.1h0M234.3 143.8h0M198.9 183.4h0M238.8 190.1h0M278.8 196.9h0M218.5 163.8h0M258.5 170.5h0M238.2 144.2h0M222.4 164.2h0M262.4 170.9h0M242.1 144.6h0M245.9 145.0h0M134.3 233.7h0M174.2 240.4h0M214.2 247.2h0M254.2 254.0h0M294.1 260.7h0M154.0 214.1h0M193.9 220.8h0M233.9 227.6h0M273.8 234.4h0M173.6 194.5h0M213.6 201.3h0M253.5 208.0h0M193.3 174.9h0M233.2 181.7h0M213.0 155.3h0M157.8 214.5h0M197.8 221.3h0M237.7 228.0h0M277.7 234.8h0M177.5 194.9h0M217.4 201.7h0M257.4 208.4h0M197.2 175.3h0M237.1 182.1h0M216.8 155.7h0M181.3 195.3h0M221.3 202.1h0M261.3 208.8h0M201.0 175.7h0M241.0 182.5h0M220.7 156.2h0M204.9 176.2h0M244.8 182.9h0M224.5 156.6h0M228.4 157.0h0M140.3 226.5h0M180.2 233.2h0M220.2 240.0h0M260.2 246.8h0M160.0 206.9h0M199.9 213.6h0M239.9 220.4h0M179.6 187.3h0M219.6 194.1h0M199.3 167.7h0M163.8 207.3h0M203.8 214.1h0M243.7 220.8h0M183.5 187.7h0M223.4 194.5h0M203.2 168.1h0M187.3 188.1h0M227.3 194.9h0M207.0 168.5h0M210.9 169.0h0M146.3 219.3h0M186.2 226.0h0M226.2 232.8h0M166.0 199.7h0M205.9 206.4h0M185.6 180.1h0M169.8 200.1h0M209.8 206.9h0M189.5 180.5h0M193.3 180.9h0M152.3 212.1h0M192.2 218.8h0M172.0 192.5h0M175.8 192.9h0M158.3 204.9h0M105.9 264.6h0M145.8 271.4h0M185.8 278.1h0M225.7 284.9h0M265.7 291.6h0M305.6 298.4h0M345.6 305.2h0M385.5 311.9h0M425.5 318.7h0M125.5 245.0h0M165.5 251.8h0M205.4 258.5h0M245.4 265.3h0M285.3 272.1h0M325.3 278.8h0M365.2 285.6h0M405.2 292.4h0M145.2 225.4h0M185.1 232.2h0M225.1 239.0h0M265.0 245.7h0M305.0 252.5h0M345.0 259.2h0M384.9 266.0h0M164.9 205.8h0M204.8 212.6h0M244.8 219.4h0M284.7 226.1h0M324.7 232.9h0M364.6 239.7h0M184.5 186.3h0M224.5 193.0h0M264.4 199.8h0M304.4 206.6h0M344.3 213.3h0M204.2 166.7h0M244.1 173.5h0M284.1 180.2h0M324.0 187.0h0M223.9 147.1h0M263.8 153.9h0M303.8 160.6h0M243.5 127.5h0M283.5 134.3h0M263.2 107.9h0M129.4 245.4h0M169.3 252.2h0M209.3 259.0h0M249.2 265.7h0M289.2 272.5h0M329.2 279.2h0M369.1 286.0h0M409.1 292.8h0M149.0 225.8h0M189.0 232.6h0M229.0 239.4h0M268.9 246.1h0M308.9 252.9h0M348.8 259.7h0M388.8 266.4h0M168.7 206.3h0M208.7 213.0h0M248.6 219.8h0M288.6 226.6h0M328.5 233.3h0M368.5 240.1h0M188.4 186.7h0M228.3 193.4h0M268.3 200.2h0M308.2 207.0h0M348.2 213.7h0M208.0 167.1h0M248.0 173.9h0M288.0 180.6h0M327.9 187.4h0M227.7 147.5h0M267.7 154.3h0M307.6 161.0h0M247.4 127.9h0M287.3 134.7h0M267.0 108.4h0M152.9 226.3h0M192.9 233.0h0M232.8 239.8h0M272.8 246.5h0M312.7 253.3h0M352.7 260.1h0M392.6 266.8h0M172.6 206.7h0M212.5 213.4h0M252.5 220.2h0M292.4 227.0h0M332.4 233.7h0M372.3 240.5h0M192.2 187.1h0M232.2 193.9h0M272.1 200.6h0M312.1 207.4h0M352.1 214.1h0M211.9 167.5h0M251.9 174.3h0M291.8 181.0h0M331.8 187.8h0M231.6 147.9h0M271.5 154.7h0M311.5 161.5h0M251.2 128.3h0M291.2 135.1h0M270.9 108.8h0M176.4 207.1h0M216.4 213.8h0M256.3 220.6h0M296.3 227.4h0M336.3 234.1h0M376.2 240.9h0M196.1 187.5h0M236.1 194.3h0M276.0 201.0h0M316.0 207.8h0M355.9 214.6h0M215.8 167.9h0M255.7 174.7h0M295.7 181.5h0M335.6 188.2h0M235.4 148.3h0M275.4 155.1h0M315.3 161.9h0M255.1 128.8h0M295.1 135.5h0M274.8 109.2h0M200.0 187.9h0M239.9 194.7h0M279.9 201.4h0M319.8 208.2h0M359.8 215.0h0M219.6 168.3h0M259.6 175.1h0M299.5 181.9h0M339.5 188.6h0M239.3 148.8h0M279.2 155.5h0M319.2 162.3h0M259.0 129.2h0M298.9 135.9h0M278.6 109.6h0M223.5 168.7h0M263.4 175.5h0M303.4 182.3h0M343.4 189.0h0M243.2 149.2h0M283.1 155.9h0M323.1 162.7h0M262.8 129.6h0M302.8 136.3h0M282.5 110.0h0M247.0 149.6h0M287.0 156.3h0M326.9 163.1h0M266.7 130.0h0M306.6 136.8h0M286.3 110.4h0M270.5 130.4h0M310.5 137.2h0M290.2 110.8h0M294.1 111.2h0M111.9 257.4h0M151.8 264.2h0M191.8 270.9h0M231.7 277.7h0M271.7 284.4h0M311.6 291.2h0M351.6 298.0h0M391.5 304.7h0M131.5 237.8h0M171.5 244.6h0M211.4 251.3h0M251.4 258.1h0M291.3 264.9h0M331.3 271.6h0M371.2 278.4h0M151.2 218.2h0M191.1 225.0h0M231.1 231.8h0M271.0 238.5h0M311.0 245.3h0M351.0 252.1h0M170.9 198.6h0M210.8 205.4h0M250.8 212.2h0M290.7 218.9h0M330.7 225.7h0M190.5 179.1h0M230.5 185.8h0M270.4 192.6h0M310.4 199.4h0M210.2 159.5h0M250.1 166.3h0M290.1 173.0h0M229.9 139.9h0M269.8 146.7h0M249.5 120.3h0M135.4 238.2h0M175.3 245.0h0M215.3 251.8h0M255.2 258.5h0M295.2 265.3h0M335.2 272.0h0M375.1 278.8h0M155.0 218.6h0M195.0 225.4h0M235.0 232.2h0M274.9 238.9h0M314.9 245.7h0M354.8 252.5h0M174.7 199.1h0M214.7 205.8h0M254.6 212.6h0M294.6 219.4h0M334.5 226.1h0M194.4 179.5h0M234.3 186.2h0M274.3 193.0h0M314.2 199.8h0M214.0 159.9h0M254.0 166.7h0M294.0 173.4h0M233.7 140.3h0M273.7 147.1h0M253.4 120.7h0M158.9 219.1h0M198.9 225.8h0M238.8 232.6h0M278.8 239.3h0M318.7 246.1h0M358.7 252.9h0M178.6 199.5h0M218.5 206.2h0M258.5 213.0h0M298.4 219.8h0M338.4 226.5h0M198.2 179.9h0M238.2 186.7h0M278.1 193.4h0M318.1 200.2h0M217.9 160.3h0M257.9 167.1h0M297.8 173.8h0M237.6 140.7h0M277.5 147.5h0M257.2 121.1h0M182.4 199.9h0M222.4 206.6h0M262.3 213.4h0M302.3 220.2h0M342.3 226.9h0M202.1 180.3h0M242.1 187.1h0M282.0 193.8h0M322.0 200.6h0M221.8 160.7h0M261.7 167.5h0M301.7 174.3h0M241.4 141.1h0M281.4 147.9h0M261.1 121.6h0M206.0 180.7h0M245.9 187.5h0M285.9 194.2h0M325.8 201.0h0M225.6 161.1h0M265.6 167.9h0M305.5 174.7h0M245.3 141.6h0M285.2 148.3h0M265.0 122.0h0M229.5 161.5h0M269.4 168.3h0M309.4 175.1h0M249.2 142.0h0M289.1 148.7h0M268.8 122.4h0M253.0 142.4h0M293.0 149.1h0M272.7 122.8h0M276.5 123.2h0M117.9 250.2h0M157.8 257.0h0M197.8 263.7h0M237.7 270.5h0M277.7 277.2h0M317.6 284.0h0M357.6 290.8h0M137.5 230.6h0M177.5 237.4h0M217.4 244.1h0M257.4 250.9h0M297.3 257.7h0M337.3 264.4h0M157.2 211.0h0M197.1 217.8h0M237.1 224.6h0M277.0 231.3h0M317.0 238.1h0M176.9 191.4h0M216.8 198.2h0M256.8 205.0h0M296.7 211.7h0M196.5 171.9h0M236.5 178.6h0M276.4 185.4h0M216.2 152.3h0M256.1 159.1h0M235.9 132.7h0M141.4 231.0h0M181.3 237.8h0M221.3 244.6h0M261.2 251.3h0M301.2 258.1h0M341.2 264.8h0M161.0 211.4h0M201.0 218.2h0M241.0 225.0h0M280.9 231.7h0M320.9 238.5h0M180.7 191.9h0M220.7 198.6h0M260.6 205.4h0M300.6 212.2h0M200.4 172.3h0M240.3 179.0h0M280.3 185.8h0M220.0 152.7h0M260.0 159.5h0M239.7 133.1h0M164.9 211.9h0M204.9 218.6h0M244.8 225.4h0M284.8 232.1h0M324.7 238.9h0M184.6 192.3h0M224.5 199.0h0M264.5 205.8h0M304.4 212.6h0M204.2 172.7h0M244.2 179.5h0M284.1 186.2h0M223.9 153.1h0M263.9 159.9h0M243.6 133.5h0M188.4 192.7h0M228.4 199.4h0M268.3 206.2h0M308.3 213.0h0M208.1 173.1h0M248.1 179.9h0M288.0 186.6h0M227.8 153.5h0M267.7 160.3h0M247.4 133.9h0M212.0 173.5h0M251.9 180.3h0M291.9 187.0h0M231.6 153.9h0M271.6 160.7h0M251.3 134.4h0M235.5 154.3h0M275.4 161.1h0M255.2 134.8h0M259.0 135.2h0M123.9 243.0h0M163.8 249.8h0M203.8 256.5h0M243.7 263.3h0M283.7 270.0h0M323.6 276.8h0M143.5 223.4h0M183.5 230.2h0M223.4 236.9h0M263.4 243.7h0M303.3 250.5h0M163.2 203.8h0M203.1 210.6h0M243.1 217.4h0M283.0 224.1h0M182.9 184.2h0M222.8 191.0h0M262.8 197.8h0M202.5 164.7h0M242.5 171.4h0M222.2 145.1h0M147.4 223.8h0M187.3 230.6h0M227.3 237.4h0M267.2 244.1h0M307.2 250.9h0M167.0 204.2h0M207.0 211.0h0M247.0 217.8h0M286.9 224.5h0M186.7 184.7h0M226.7 191.4h0M266.6 198.2h0M206.4 165.1h0M246.3 171.8h0M226.0 145.5h0M170.9 204.7h0M210.9 211.4h0M250.8 218.2h0M290.8 224.9h0M190.6 185.1h0M230.5 191.8h0M270.5 198.6h0M210.2 165.5h0M250.2 172.3h0M229.9 145.9h0M194.4 185.5h0M234.4 192.2h0M274.3 199.0h0M214.1 165.9h0M254.1 172.7h0M233.8 146.3h0M218.0 166.3h0M257.9 173.1h0M237.6 146.7h0M241.5 147.1h0M129.9 235.8h0M169.8 242.6h0M209.8 249.3h0M249.7 256.1h0M289.7 262.8h0M149.5 216.2h0M189.5 223.0h0M229.4 229.7h0M269.4 236.5h0M169.2 196.6h0M209.1 203.4h0M249.1 210.2h0M188.9 177.0h0M228.8 183.8h0M208.5 157.5h0M153.4 216.6h0M193.3 223.4h0M233.3 230.2h0M273.2 236.9h0M173.0 197.0h0M213.0 203.8h0M253.0 210.6h0M192.7 177.5h0M232.7 184.2h0M212.4 157.9h0M176.9 197.5h0M216.9 204.2h0M256.8 211.0h0M196.6 177.9h0M236.5 184.6h0M216.2 158.3h0M200.4 178.3h0M240.4 185.0h0M220.1 158.7h0M224.0 159.1h0M135.9 228.6h0M175.8 235.4h0M215.8 242.1h0M255.7 248.9h0M155.5 209.0h0M195.5 215.8h0M235.4 222.5h0M175.2 189.4h0M215.1 196.2h0M194.9 169.8h0M159.4 209.4h0M199.3 216.2h0M239.3 223.0h0M179.0 189.8h0M219.0 196.6h0M198.7 170.3h0M182.9 190.3h0M222.9 197.0h0M202.6 170.7h0M206.4 171.1h0M141.9 221.4h0M181.8 228.2h0M221.8 234.9h0M161.5 201.8h0M201.5 208.6h0M181.2 182.2h0M165.4 202.2h0M205.3 209.0h0M185.0 182.6h0M188.9 183.1h0M147.9 214.2h0M187.8 221.0h0M167.5 194.6h0M171.4 195.0h0M153.9 207.0h0M107.4 259.5h0M147.4 266.3h0M187.3 273.1h0M227.3 279.8h0M267.2 286.6h0M307.2 293.3h0M347.1 300.1h0M387.1 306.9h0M127.1 239.9h0M167.0 246.7h0M207.0 253.5h0M246.9 260.2h0M286.9 267.0h0M326.8 273.8h0M366.8 280.5h0M146.7 220.4h0M186.7 227.1h0M226.7 233.9h0M266.6 240.7h0M306.6 247.4h0M346.5 254.2h0M166.4 200.8h0M206.4 207.5h0M246.3 214.3h0M286.3 221.1h0M326.2 227.8h0M186.1 181.2h0M226.0 188.0h0M266.0 194.7h0M305.9 201.5h0M205.7 161.6h0M245.7 168.4h0M285.7 175.1h0M225.4 142.0h0M265.4 148.8h0M245.1 122.5h0M130.9 240.4h0M170.9 247.1h0M210.8 253.9h0M250.8 260.6h0M290.8 267.4h0M330.7 274.2h0M370.7 280.9h0M150.6 220.8h0M190.6 227.5h0M230.5 234.3h0M270.5 241.1h0M310.4 247.8h0M350.4 254.6h0M170.3 201.2h0M210.2 208.0h0M250.2 214.7h0M290.1 221.5h0M330.1 228.2h0M189.9 181.6h0M229.9 188.4h0M269.8 195.1h0M309.8 201.9h0M209.6 162.0h0M249.6 168.8h0M289.5 175.6h0M229.3 142.4h0M269.2 149.2h0M248.9 122.9h0M154.5 221.2h0M194.4 227.9h0M234.4 234.7h0M274.3 241.5h0M314.3 248.2h0M354.2 255.0h0M174.1 201.6h0M214.1 208.4h0M254.0 215.1h0M294.0 221.9h0M333.9 228.7h0M193.8 182.0h0M233.8 188.8h0M273.7 195.6h0M313.7 202.3h0M213.5 162.4h0M253.4 169.2h0M293.4 176.0h0M233.1 142.9h0M273.1 149.6h0M252.8 123.3h0M178.0 202.0h0M217.9 208.8h0M257.9 215.5h0M297.9 222.3h0M337.8 229.1h0M197.7 182.4h0M237.6 189.2h0M277.6 196.0h0M317.5 202.7h0M217.3 162.9h0M257.3 169.6h0M297.2 176.4h0M237.0 143.3h0M276.9 150.0h0M256.7 123.7h0M201.5 182.8h0M241.5 189.6h0M281.4 196.4h0M321.4 203.1h0M221.2 163.3h0M261.1 170.0h0M301.1 176.8h0M240.9 143.7h0M280.8 150.4h0M260.5 124.1h0M225.0 163.7h0M265.0 170.4h0M305.0 177.2h0M244.7 144.1h0M284.7 150.9h0M264.4 124.5h0M248.6 144.5h0M288.5 151.3h0M268.2 124.9h0M272.1 125.3h0M113.4 252.3h0M153.4 259.1h0M193.3 265.9h0M233.3 272.6h0M273.2 279.4h0M313.2 286.1h0M353.1 292.9h0M133.1 232.7h0M173.0 239.5h0M213.0 246.3h0M252.9 253.0h0M292.9 259.8h0M332.8 266.6h0M152.7 213.2h0M192.7 219.9h0M232.7 226.7h0M272.6 233.5h0M312.6 240.2h0M172.4 193.6h0M212.4 200.3h0M252.3 207.1h0M292.3 213.9h0M192.1 174.0h0M232.0 180.8h0M272.0 187.5h0M211.7 154.4h0M251.7 161.2h0M231.4 134.8h0M136.9 233.2h0M176.9 239.9h0M216.8 246.7h0M256.8 253.4h0M296.8 260.2h0M336.7 267.0h0M156.6 213.6h0M196.6 220.3h0M236.5 227.1h0M276.5 233.9h0M316.4 240.6h0M176.3 194.0h0M216.2 200.8h0M256.2 207.5h0M296.1 214.3h0M195.9 174.4h0M235.9 181.2h0M275.8 187.9h0M215.6 154.8h0M255.6 161.6h0M235.3 135.2h0M160.5 214.0h0M200.4 220.8h0M240.4 227.5h0M280.3 234.3h0M320.3 241.0h0M180.1 194.4h0M220.1 201.2h0M260.0 207.9h0M300.0 214.7h0M199.8 174.8h0M239.8 181.6h0M279.7 188.4h0M219.5 155.2h0M259.4 162.0h0M239.1 135.7h0M184.0 194.8h0M223.9 201.6h0M263.9 208.3h0M303.9 215.1h0M203.7 175.2h0M243.6 182.0h0M283.6 188.8h0M223.3 155.7h0M263.3 162.4h0M243.0 136.1h0M207.5 175.6h0M247.5 182.4h0M287.4 189.2h0M227.2 156.1h0M267.1 162.8h0M246.9 136.5h0M231.0 156.5h0M271.0 163.2h0M250.7 136.9h0M254.6 137.3h0M119.4 245.1h0M159.4 251.9h0M199.3 258.7h0M239.3 265.4h0M279.2 272.2h0M319.2 278.9h0M139.1 225.5h0M179.0 232.3h0M219.0 239.1h0M258.9 245.8h0M298.9 252.6h0M158.7 206.0h0M198.7 212.7h0M238.7 219.5h0M278.6 226.3h0M178.4 186.4h0M218.4 193.1h0M258.3 199.9h0M198.1 166.8h0M238.0 173.6h0M217.7 147.2h0M142.9 226.0h0M182.9 232.7h0M222.8 239.5h0M262.8 246.2h0M302.8 253.0h0M162.6 206.4h0M202.6 213.1h0M242.5 219.9h0M282.5 226.7h0M182.3 186.8h0M222.2 193.6h0M262.2 200.3h0M201.9 167.2h0M241.9 174.0h0M221.6 147.6h0M166.5 206.8h0M206.4 213.6h0M246.4 220.3h0M286.3 227.1h0M186.1 187.2h0M226.1 194.0h0M266.0 200.7h0M205.8 167.6h0M245.8 174.4h0M225.5 148.0h0M190.0 187.6h0M229.9 194.4h0M269.9 201.1h0M209.7 168.0h0M249.6 174.8h0M229.3 148.5h0M213.5 168.4h0M253.5 175.2h0M233.2 148.9h0M237.0 149.3h0M125.4 237.9h0M165.4 244.7h0M205.3 251.5h0M245.3 258.2h0M285.2 265.0h0M145.1 218.3h0M185.0 225.1h0M225.0 231.9h0M264.9 238.6h0M164.7 198.8h0M204.7 205.5h0M244.7 212.3h0M184.4 179.2h0M224.4 185.9h0M204.1 159.6h0M148.9 218.8h0M188.9 225.5h0M228.8 232.3h0M268.8 239.0h0M168.6 199.2h0M208.6 205.9h0M248.5 212.7h0M188.3 179.6h0M228.2 186.4h0M207.9 160.0h0M172.5 199.6h0M212.4 206.3h0M252.4 213.1h0M192.1 180.0h0M232.1 186.8h0M211.8 160.4h0M196.0 180.4h0M235.9 187.2h0M215.7 160.8h0M219.5 161.2h0M131.4 230.7h0M171.4 237.5h0M211.3 244.3h0M251.3 251.0h0M151.1 211.1h0M191.0 217.9h0M231.0 224.7h0M170.7 191.6h0M210.7 198.3h0M190.4 172.0h0M154.9 211.6h0M194.9 218.3h0M234.8 225.1h0M174.6 192.0h0M214.6 198.7h0M194.3 172.4h0M178.5 192.4h0M218.4 199.2h0M198.1 172.8h0M202.0 173.2h0M137.4 223.5h0M177.4 230.3h0M217.3 237.1h0M157.1 203.9h0M197.0 210.7h0M176.7 184.4h0M160.9 204.4h0M200.9 211.1h0M180.6 184.8h0M184.5 185.2h0M143.4 216.3h0M183.4 223.1h0M163.1 196.7h0M166.9 197.2h0M149.4 209.1h0M109.0 254.5h0M148.9 261.2h0M188.9 268.0h0M228.8 274.7h0M268.8 281.5h0M308.7 288.3h0M348.7 295.0h0M128.6 234.9h0M168.6 241.6h0M208.5 248.4h0M248.5 255.2h0M288.5 261.9h0M328.4 268.7h0M148.3 215.3h0M188.3 222.1h0M228.2 228.8h0M268.2 235.6h0M308.1 242.4h0M168.0 195.7h0M207.9 202.5h0M247.9 209.2h0M287.8 216.0h0M187.6 176.1h0M227.6 182.9h0M267.5 189.7h0M207.3 156.6h0M247.3 163.3h0M227.0 137.0h0M132.5 235.3h0M172.5 242.1h0M212.4 248.8h0M252.4 255.6h0M292.3 262.3h0M332.3 269.1h0M152.2 215.7h0M192.1 222.5h0M232.1 229.2h0M272.0 236.0h0M312.0 242.8h0M171.8 196.1h0M211.8 202.9h0M251.7 209.7h0M291.7 216.4h0M191.5 176.5h0M231.5 183.3h0M271.4 190.1h0M211.2 157.0h0M251.1 163.7h0M230.8 137.4h0M156.0 216.1h0M196.0 222.9h0M235.9 229.6h0M275.9 236.4h0M315.8 243.2h0M175.7 196.5h0M215.6 203.3h0M255.6 210.1h0M295.6 216.8h0M195.4 177.0h0M235.3 183.7h0M275.3 190.5h0M215.0 157.4h0M255.0 164.1h0M234.7 137.8h0M179.6 196.9h0M219.5 203.7h0M259.5 210.5h0M299.4 217.2h0M199.2 177.4h0M239.2 184.1h0M279.1 190.9h0M218.9 157.8h0M258.8 164.6h0M238.6 138.2h0M203.1 177.8h0M243.0 184.5h0M283.0 191.3h0M222.7 158.2h0M262.7 165.0h0M242.4 138.6h0M226.6 158.6h0M266.6 165.4h0M246.3 139.0h0M250.1 139.4h0M115.0 247.3h0M154.9 254.0h0M194.9 260.8h0M234.8 267.5h0M274.8 274.3h0M314.7 281.1h0M134.6 227.7h0M174.6 234.4h0M214.5 241.2h0M254.5 248.0h0M294.5 254.7h0M154.3 208.1h0M194.3 214.9h0M234.2 221.6h0M274.2 228.4h0M174.0 188.5h0M213.9 195.3h0M253.9 202.0h0M193.6 168.9h0M233.6 175.7h0M213.3 149.4h0M138.5 228.1h0M178.5 234.9h0M218.4 241.6h0M258.4 248.4h0M298.3 255.1h0M158.2 208.5h0M198.1 215.3h0M238.1 222.0h0M278.0 228.8h0M177.8 188.9h0M217.8 195.7h0M257.7 202.5h0M197.5 169.3h0M237.5 176.1h0M217.2 149.8h0M162.0 208.9h0M202.0 215.7h0M241.9 222.4h0M281.9 229.2h0M181.7 189.3h0M221.6 196.1h0M261.6 202.9h0M201.4 169.8h0M241.3 176.5h0M221.0 150.2h0M185.6 189.7h0M225.5 196.5h0M265.5 203.3h0M205.2 170.2h0M245.2 176.9h0M224.9 150.6h0M209.1 170.6h0M249.0 177.3h0M228.7 151.0h0M232.6 151.4h0M121.0 240.1h0M160.9 246.8h0M200.9 253.6h0M240.8 260.3h0M280.8 267.1h0M140.6 220.5h0M180.6 227.2h0M220.5 234.0h0M260.5 240.8h0M160.3 200.9h0M200.3 207.7h0M240.2 214.4h0M180.0 181.3h0M219.9 188.1h0M199.6 161.7h0M144.5 220.9h0M184.5 227.7h0M224.4 234.4h0M264.4 241.2h0M164.2 201.3h0M204.1 208.1h0M244.1 214.8h0M183.8 181.7h0M223.8 188.5h0M203.5 162.1h0M168.0 201.7h0M208.0 208.5h0M247.9 215.2h0M187.7 182.1h0M227.6 188.9h0M207.4 162.6h0M191.6 182.5h0M231.5 189.3h0M211.2 163.0h0M215.1 163.4h0M127.0 232.9h0M166.9 239.6h0M206.9 246.4h0M246.8 253.1h0M146.6 213.3h0M186.6 220.0h0M226.5 226.8h0M166.3 193.7h0M206.3 200.5h0M186.0 174.1h0M150.5 213.7h0M190.5 220.5h0M230.4 227.2h0M170.2 194.1h0M210.1 200.9h0M189.8 174.5h0M174.0 194.5h0M214.0 201.3h0M193.7 174.9h0M197.6 175.3h0M133.0 225.7h0M172.9 232.4h0M212.9 239.2h0M152.6 206.1h0M192.6 212.8h0M172.3 186.5h0M156.5 206.5h0M196.5 213.3h0M176.2 186.9h0M180.0 187.3h0M139.0 218.5h0M178.9 225.2h0M158.6 198.9h0M162.5 199.3h0M145.0 211.3h0M110.5 249.4h0M150.5 256.2h0M190.4 262.9h0M230.4 269.7h0M270.3 276.4h0M310.3 283.2h0M130.2 229.8h0M170.2 236.6h0M210.1 243.3h0M250.1 250.1h0M290.0 256.9h0M149.9 210.2h0M189.8 217.0h0M229.8 223.8h0M269.7 230.5h0M169.5 190.6h0M209.5 197.4h0M249.4 204.2h0M189.2 171.1h0M229.1 177.8h0M208.9 151.5h0M134.1 230.2h0M174.0 237.0h0M214.0 243.7h0M253.9 250.5h0M293.9 257.3h0M153.7 210.6h0M193.7 217.4h0M233.6 224.2h0M273.6 230.9h0M173.4 191.1h0M213.3 197.8h0M253.3 204.6h0M193.1 171.5h0M233.0 178.2h0M212.7 151.9h0M157.6 211.1h0M197.5 217.8h0M237.5 224.6h0M277.4 231.3h0M177.3 191.5h0M217.2 198.2h0M257.2 205.0h0M196.9 171.9h0M236.9 178.7h0M216.6 152.3h0M181.1 191.9h0M221.1 198.6h0M261.0 205.4h0M200.8 172.3h0M240.7 179.1h0M220.4 152.7h0M204.6 172.7h0M244.6 179.5h0M224.3 153.1h0M228.2 153.5h0M116.5 242.2h0M156.5 249.0h0M196.4 255.7h0M236.4 262.5h0M276.3 269.2h0M136.2 222.6h0M176.2 229.4h0M216.1 236.1h0M256.1 242.9h0M155.9 203.0h0M195.8 209.8h0M235.8 216.6h0M175.5 183.4h0M215.5 190.2h0M195.2 163.9h0M140.1 223.0h0M180.0 229.8h0M220.0 236.5h0M259.9 243.3h0M159.7 203.4h0M199.7 210.2h0M239.6 217.0h0M179.4 183.9h0M219.3 190.6h0M199.1 164.3h0M163.6 203.8h0M203.5 210.6h0M243.5 217.4h0M183.3 184.3h0M223.2 191.0h0M202.9 164.7h0M187.1 184.7h0M227.1 191.4h0M206.8 165.1h0M210.6 165.5h0M122.5 235.0h0M162.5 241.8h0M202.4 248.5h0M242.4 255.3h0M142.2 215.4h0M182.2 222.2h0M222.1 228.9h0M161.9 195.8h0M201.8 202.6h0M181.5 176.2h0M146.1 215.8h0M186.0 222.6h0M226.0 229.3h0M165.7 196.2h0M205.7 203.0h0M185.4 176.7h0M169.6 196.6h0M209.5 203.4h0M189.3 177.1h0M193.1 177.5h0M128.5 227.8h0M168.5 234.6h0M208.4 241.3h0M148.2 208.2h0M188.2 215.0h0M167.9 188.6h0M152.1 208.6h0M192.0 215.4h0M171.7 189.0h0M175.6 189.4h0M134.5 220.6h0M174.5 227.4h0M154.2 201.0h0M158.1 201.4h0M140.5 213.4h0M112.1 244.3h0M152.0 251.1h0M192.0 257.8h0M232.0 264.6h0M271.9 271.4h0M131.8 224.7h0M171.7 231.5h0M211.7 238.3h0M251.6 245.0h0M151.4 205.2h0M191.4 211.9h0M231.3 218.7h0M171.1 185.6h0M211.0 192.3h0M190.8 166.0h0M135.6 225.2h0M175.6 231.9h0M215.5 238.7h0M255.5 245.4h0M155.3 205.6h0M195.2 212.3h0M235.2 219.1h0M174.9 186.0h0M214.9 192.8h0M194.6 166.4h0M159.1 206.0h0M199.1 212.7h0M239.1 219.5h0M178.8 186.4h0M218.8 193.2h0M198.5 166.8h0M182.7 186.8h0M222.6 193.6h0M202.3 167.2h0M206.2 167.6h0M118.1 237.1h0M158.0 243.9h0M198.0 250.6h0M238.0 257.4h0M137.8 217.5h0M177.7 224.3h0M217.7 231.1h0M157.4 198.0h0M197.4 204.7h0M177.1 178.4h0M141.6 218.0h0M181.6 224.7h0M221.5 231.5h0M161.3 198.4h0M201.2 205.1h0M180.9 178.8h0M165.1 198.8h0M205.1 205.5h0M184.8 179.2h0M188.7 179.6h0M124.1 229.9h0M164.0 236.7h0M204.0 243.4h0M143.8 210.3h0M183.7 217.1h0M163.4 190.8h0M147.6 210.8h0M187.6 217.5h0M167.3 191.2h0M171.1 191.6h0M130.1 222.7h0M170.0 229.5h0M149.8 203.1h0M153.6 203.6h0M136.1 215.5h0M113.6 239.3h0M153.6 246.0h0M193.6 252.8h0M233.5 259.5h0M133.3 219.7h0M173.3 226.4h0M213.2 233.2h0M153.0 200.1h0M192.9 206.9h0M172.6 180.5h0M137.2 220.1h0M177.1 226.8h0M217.1 233.6h0M156.8 200.5h0M196.8 207.3h0M176.5 180.9h0M160.7 200.9h0M200.7 207.7h0M180.4 181.3h0M184.2 181.7h0M119.6 232.1h0M159.6 238.8h0M199.6 245.6h0M139.3 212.5h0M179.3 219.2h0M159.0 192.9h0M143.2 212.9h0M183.1 219.6h0M162.8 193.3h0M166.7 193.7h0M125.6 224.9h0M165.6 231.6h0M145.3 205.3h0M149.2 205.7h0M131.6 217.7h0M115.2 234.2h0M155.2 240.9h0M195.1 247.7h0M134.9 214.6h0M174.8 221.4h0M154.5 195.0h0M138.7 215.0h0M178.7 221.8h0M158.4 195.4h0M162.3 195.8h0M121.2 227.0h0M161.2 233.7h0M140.9 207.4h0M144.7 207.8h0M127.2 219.8h0M116.8 229.1h0M156.7 235.9h0M136.4 209.5h0M140.3 209.9h0M122.8 221.9h0M118.3 224.0h0" stroke="#a2a2a2" stroke-width="2.1" stroke-linecap="round" fill="none"/>
<line x1="96" y1="297.7" x2="654.8" y2="391.3" stroke="#e82a2a" stroke-width="1.1" stroke-dasharray="2.8 2.8"/>
<g fill="none" stroke="#222" stroke-width="1.3">
<path d="M68.4 3.1V408.2H682.9"/>
<path d="M63.8 35.4H68.4M63.8 167.2H68.4M63.8 298.9H68.4M77.35 408.2V412.6M252.8 408.2V412.6M428.2 408.2V412.6M603.6 408.2V412.6"/>
</g>
<g fill="#4d4d4d" font-size="14.7">
<text x="59.2" y="40.8" text-anchor="end">600M</text>
<text x="59.2" y="172.6" text-anchor="end">500M</text>
<text x="59.2" y="304.3" text-anchor="end">400M</text>
<text x="77.35" y="426.9" text-anchor="middle">300M</text>
<text x="252.8" y="426.9" text-anchor="middle">400M</text>
<text x="428.2" y="426.9" text-anchor="middle">500M</text>
<text x="603.6" y="426.9" text-anchor="middle">600M</text>
</g>
<g fill="#000" font-size="16.1">
<text x="374.9" y="446.7" text-anchor="middle" xml:space="preserve">Seismic losses  at PEIS VIII (in PHP)</text>
<text transform="translate(14.6 206.5) rotate(-90)" text-anchor="middle">Wind losses at 300 km/h (in PHP)</text>
</g>
<g fill="#000" font-size="11" stroke="#000" stroke-width="0.25">
<text x="89.3" y="21.4">20% LWA, 25% LWB, 20%</text>
<text x="89.3" y="34.0">SCA, 15% SCB, 10% RCA,</text>
<text x="89.3" y="47.5">10% RCB</text>
<text x="485.9" y="109.4">40% SCB, 25% RCB, 20%</text>
<text x="485.9" y="122.6">RCA, rest 5%</text>
<text x="79.1" y="192">75% LWA,</text>
<text x="79.1" y="206.0">rest 5%</text>
<text x="141.6" y="371.2" text-anchor="middle">70% LWA, 10%</text>
<text x="141.6" y="384.6" text-anchor="middle">RCB, rest 5%</text>
<text x="246.5" y="372.8" text-anchor="middle">60% LWA, 20%</text>
<text x="246.5" y="386.3" text-anchor="middle">RCB, rest 5%</text>
<text x="606.2" y="400.9" text-anchor="middle">75% RCB, rest 5%</text>
</g>
<text transform="translate(392.5 359.2) rotate(9.51)" text-anchor="middle" font-size="11" font-style="italic" fill="#e82a2a">Pareto frontier</text>
<g fill="none" stroke="#000" stroke-width="1.0" stroke-linejoin="miter">
<path d="M126.60 53.80L225.40 197.30M219.08 194.29L225.40 197.30L224.85 190.32"/>
<path d="M92.00 210.20L95.60 290.60M91.83 284.70L95.60 290.60L98.83 284.39"/>
<path d="M142.00 360.70L136.60 307.40M140.69 313.08L136.60 307.40L133.73 313.78"/>
<path d="M222.80 362.70L217.90 320.60M222.08 326.22L217.90 320.60L215.12 327.03"/>
</g>
<g>
<circle cx="96" cy="294.8" r="3.15" fill="#0000ff"/>
<circle cx="136.3" cy="301.8" r="3.15" fill="#aa2424"/>
<circle cx="217.1" cy="315" r="3.15" fill="#0a640a"/>
<circle cx="227.5" cy="201.9" r="3.15" fill="#ff1500"/>
<circle cx="479.5" cy="129.3" r="3.15" fill="#b020f5"/>
<circle cx="654.9" cy="390" r="3.15" fill="#f0a320"/>
</g>
</svg>
</body></html>
